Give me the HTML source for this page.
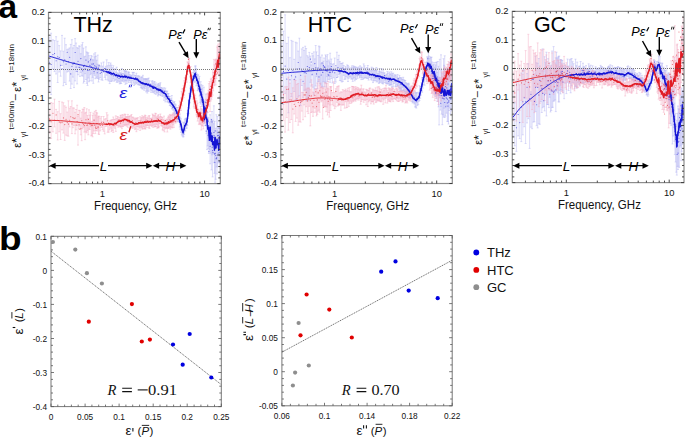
<!DOCTYPE html>
<html><head><meta charset="utf-8"><style>html,body{margin:0;padding:0;background:#fff;} body{width:685px;height:438px;overflow:hidden;}</style></head>
<body><svg width="685" height="438" viewBox="0 0 685 438" style="display:block">
<rect width="685" height="438" fill="#fff"/>
<defs><clipPath id="cTHz"><rect x="48.5" y="12.4" width="171.8" height="171.2"/></clipPath></defs>
<g clip-path="url(#cTHz)">
<path d="M47.5 34.7v42.5m-1 0h2m-2 -42.5h2M49.3 37.2v54.2m-1 0h2m-2 -54.2h2M51.1 33.2v61.4m-1 0h2m-2 -61.4h2M52.9 39.8v29.0m-1 0h2m-2 -29.0h2M54.5 40.5v31.1m-1 0h2m-2 -31.1h2M56.1 36.7v37.3m-1 0h2m-2 -37.3h2M57.7 41.2v41.3m-1 0h2m-2 -41.3h2M59.2 45.6v26.4m-1 0h2m-2 -26.4h2M60.6 50.9v25.3m-1 0h2m-2 -25.3h2M62.0 35.4v30.0m-1 0h2m-2 -30.0h2M63.4 51.2v34.5m-1 0h2m-2 -34.5h2M64.7 38.2v44.3m-1 0h2m-2 -44.3h2M66.0 44.7v39.7m-1 0h2m-2 -39.7h2M67.2 49.7v22.3m-1 0h2m-2 -22.3h2M68.4 48.9v22.4m-1 0h2m-2 -22.4h2M69.6 47.9v33.2m-1 0h2m-2 -33.2h2M70.7 44.4v44.1m-1 0h2m-2 -44.1h2M71.9 39.7v44.4m-1 0h2m-2 -44.4h2M72.9 47.9v29.2m-1 0h2m-2 -29.2h2M74.0 45.5v42.1m-1 0h2m-2 -42.1h2M75.1 38.6v42.3m-1 0h2m-2 -42.3h2M76.1 43.0v28.6m-1 0h2m-2 -28.6h2M77.1 47.7v36.2m-1 0h2m-2 -36.2h2M78.0 48.2v26.5m-1 0h2m-2 -26.5h2M79.0 45.9v21.0m-1 0h2m-2 -21.0h2M79.9 46.2v30.2m-1 0h2m-2 -30.2h2M80.8 53.7v18.7m-1 0h2m-2 -18.7h2M81.7 44.8v31.0m-1 0h2m-2 -31.0h2M82.6 42.6v33.5m-1 0h2m-2 -33.5h2M83.5 48.1v35.0m-1 0h2m-2 -35.0h2M84.3 56.8v24.7m-1 0h2m-2 -24.7h2M85.1 56.2v17.5m-1 0h2m-2 -17.5h2M85.9 46.8v32.7m-1 0h2m-2 -32.7h2M86.7 51.9v31.5m-1 0h2m-2 -31.5h2M87.5 52.7v32.7m-1 0h2m-2 -32.7h2M88.3 52.9v25.1m-1 0h2m-2 -25.1h2M89.0 55.7v26.0m-1 0h2m-2 -26.0h2M89.8 60.6v20.1m-1 0h2m-2 -20.1h2M90.5 58.2v16.4m-1 0h2m-2 -16.4h2M91.2 55.5v17.9m-1 0h2m-2 -17.9h2M91.9 56.3v24.7m-1 0h2m-2 -24.7h2M92.6 59.7v17.7m-1 0h2m-2 -17.7h2M93.3 60.0v23.3m-1 0h2m-2 -23.3h2M94.0 53.9v19.8m-1 0h2m-2 -19.8h2M94.7 56.8v18.6m-1 0h2m-2 -18.6h2M95.3 52.7v26.0m-1 0h2m-2 -26.0h2M96.0 56.2v13.6m-1 0h2m-2 -13.6h2M96.6 60.2v17.9m-1 0h2m-2 -17.9h2M97.2 64.2v12.9m-1 0h2m-2 -12.9h2M97.8 55.1v23.4m-1 0h2m-2 -23.4h2M98.5 65.2v16.8m-1 0h2m-2 -16.8h2M99.1 64.8v14.4m-1 0h2m-2 -14.4h2M100.2 65.9v11.7m-1 0h2m-2 -11.7h2M101.4 62.9v16.9m-1 0h2m-2 -16.9h2M102.5 66.1v14.2m-1 0h2m-2 -14.2h2M103.6 62.0v10.6m-1 0h2m-2 -10.6h2M104.7 68.1v9.3m-1 0h2m-2 -9.3h2M105.7 66.3v13.4m-1 0h2m-2 -13.4h2M106.7 59.8v15.4m-1 0h2m-2 -15.4h2M107.7 65.7v14.4m-1 0h2m-2 -14.4h2M108.7 62.6v18.5m-1 0h2m-2 -18.5h2M109.7 65.3v18.3m-1 0h2m-2 -18.3h2M110.6 63.0v18.3m-1 0h2m-2 -18.3h2M111.5 65.0v16.5m-1 0h2m-2 -16.5h2M112.4 67.8v12.9m-1 0h2m-2 -12.9h2M113.3 65.7v13.2m-1 0h2m-2 -13.2h2M114.1 69.5v11.7m-1 0h2m-2 -11.7h2M115.0 68.7v11.5m-1 0h2m-2 -11.5h2M115.8 72.0v7.8m-1 0h2m-2 -7.8h2M116.6 67.2v15.0m-1 0h2m-2 -15.0h2M117.4 72.8v9.5m-1 0h2m-2 -9.5h2M118.2 73.5v7.3m-1 0h2m-2 -7.3h2M119.0 70.5v11.3m-1 0h2m-2 -11.3h2M119.7 70.5v13.4m-1 0h2m-2 -13.4h2M120.5 72.7v10.7m-1 0h2m-2 -10.7h2M121.2 73.6v9.9m-1 0h2m-2 -9.9h2M121.9 68.5v12.3m-1 0h2m-2 -12.3h2M122.6 73.5v7.8m-1 0h2m-2 -7.8h2M123.3 73.7v6.4m-1 0h2m-2 -6.4h2M124.0 70.8v11.2m-1 0h2m-2 -11.2h2M124.7 70.4v10.5m-1 0h2m-2 -10.5h2M125.4 71.2v13.1m-1 0h2m-2 -13.1h2M126.0 71.1v9.3m-1 0h2m-2 -9.3h2M126.7 71.2v12.3m-1 0h2m-2 -12.3h2M127.3 75.0v6.1m-1 0h2m-2 -6.1h2M127.9 72.8v6.2m-1 0h2m-2 -6.2h2M128.6 71.7v10.8m-1 0h2m-2 -10.8h2M129.2 72.5v7.8m-1 0h2m-2 -7.8h2M129.8 74.5v6.5m-1 0h2m-2 -6.5h2M130.7 75.5v7.0m-1 0h2m-2 -7.0h2M131.5 75.1v9.0m-1 0h2m-2 -9.0h2M132.4 72.3v8.7m-1 0h2m-2 -8.7h2M133.2 72.5v10.5m-1 0h2m-2 -10.5h2M134.0 72.4v13.1m-1 0h2m-2 -13.1h2M134.9 75.4v8.9m-1 0h2m-2 -8.9h2M135.6 75.4v7.5m-1 0h2m-2 -7.5h2M136.4 73.2v10.6m-1 0h2m-2 -10.6h2M137.2 76.9v6.0m-1 0h2m-2 -6.0h2M137.9 75.6v9.1m-1 0h2m-2 -9.1h2M138.7 76.2v8.5m-1 0h2m-2 -8.5h2M139.4 76.0v9.1m-1 0h2m-2 -9.1h2M140.1 78.8v6.4m-1 0h2m-2 -6.4h2M140.8 77.2v10.4m-1 0h2m-2 -10.4h2M141.5 77.1v11.0m-1 0h2m-2 -11.0h2M142.2 76.9v12.0m-1 0h2m-2 -12.0h2M142.9 75.3v13.7m-1 0h2m-2 -13.7h2M143.6 78.6v8.8m-1 0h2m-2 -8.8h2M144.2 79.0v11.3m-1 0h2m-2 -11.3h2M144.9 78.9v9.5m-1 0h2m-2 -9.5h2M145.5 78.9v7.7m-1 0h2m-2 -7.7h2M146.1 78.8v13.1m-1 0h2m-2 -13.1h2M146.7 78.8v12.0m-1 0h2m-2 -12.0h2M147.3 79.6v13.5m-1 0h2m-2 -13.5h2M147.9 78.5v12.6m-1 0h2m-2 -12.6h2M148.7 78.0v13.3m-1 0h2m-2 -13.3h2M149.5 80.7v7.0m-1 0h2m-2 -7.0h2M150.3 83.9v6.1m-1 0h2m-2 -6.1h2M151.0 84.7v7.6m-1 0h2m-2 -7.6h2M151.7 81.2v9.3m-1 0h2m-2 -9.3h2M152.5 80.6v11.5m-1 0h2m-2 -11.5h2M153.2 83.1v9.5m-1 0h2m-2 -9.5h2M153.9 81.8v10.1m-1 0h2m-2 -10.1h2M154.6 81.6v12.1m-1 0h2m-2 -12.1h2M155.3 84.6v6.6m-1 0h2m-2 -6.6h2M155.9 82.9v11.4m-1 0h2m-2 -11.4h2M156.6 86.5v6.4m-1 0h2m-2 -6.4h2M157.2 85.0v8.0m-1 0h2m-2 -8.0h2M157.9 84.2v11.8m-1 0h2m-2 -11.8h2M158.5 83.4v11.5m-1 0h2m-2 -11.5h2M159.1 85.4v9.2m-1 0h2m-2 -9.2h2M159.7 83.9v8.4m-1 0h2m-2 -8.4h2M160.4 82.7v12.6m-1 0h2m-2 -12.6h2M161.1 87.5v8.2m-1 0h2m-2 -8.2h2M161.8 87.7v6.2m-1 0h2m-2 -6.2h2M162.5 88.4v8.0m-1 0h2m-2 -8.0h2M163.3 89.7v6.2m-1 0h2m-2 -6.2h2M164.0 87.8v12.5m-1 0h2m-2 -12.5h2M164.6 90.6v7.0m-1 0h2m-2 -7.0h2M165.3 88.1v13.8m-1 0h2m-2 -13.8h2M166.0 91.1v7.7m-1 0h2m-2 -7.7h2M166.6 91.3v8.4m-1 0h2m-2 -8.4h2M167.3 91.1v10.7m-1 0h2m-2 -10.7h2M167.9 93.5v8.5m-1 0h2m-2 -8.5h2M168.6 93.6v9.0m-1 0h2m-2 -9.0h2M169.2 96.3v6.8m-1 0h2m-2 -6.8h2M169.8 96.5v9.1m-1 0h2m-2 -9.1h2M170.4 99.2v6.2m-1 0h2m-2 -6.2h2M171.1 98.8v7.8m-1 0h2m-2 -7.8h2M171.8 95.5v13.3m-1 0h2m-2 -13.3h2M172.5 100.7v8.2m-1 0h2m-2 -8.2h2M173.2 102.0v8.2m-1 0h2m-2 -8.2h2M173.9 102.1v11.4m-1 0h2m-2 -11.4h2M174.5 101.7v13.1m-1 0h2m-2 -13.1h2M175.2 103.9v8.4m-1 0h2m-2 -8.4h2M175.8 104.9v9.0m-1 0h2m-2 -9.0h2M176.4 107.7v11.7m-1 0h2m-2 -11.7h2M177.1 107.5v12.3m-1 0h2m-2 -12.3h2M177.7 110.7v11.0m-1 0h2m-2 -11.0h2M178.3 114.4v7.5m-1 0h2m-2 -7.5h2M179.0 113.7v7.6m-1 0h2m-2 -7.6h2M179.7 114.7v12.4m-1 0h2m-2 -12.4h2M180.3 117.1v12.1m-1 0h2m-2 -12.1h2M181.0 118.7v13.7m-1 0h2m-2 -13.7h2M181.7 122.0v12.9m-1 0h2m-2 -12.9h2M182.3 126.1v9.9m-1 0h2m-2 -9.9h2M183.0 129.4v7.5m-1 0h2m-2 -7.5h2M183.6 122.7v14.1m-1 0h2m-2 -14.1h2M184.2 122.1v12.5m-1 0h2m-2 -12.5h2M184.8 119.4v11.5m-1 0h2m-2 -11.5h2M185.4 118.4v12.5m-1 0h2m-2 -12.5h2M186.1 118.3v10.0m-1 0h2m-2 -10.0h2M186.8 118.5v9.7m-1 0h2m-2 -9.7h2M187.4 113.6v11.8m-1 0h2m-2 -11.8h2M188.1 107.4v11.1m-1 0h2m-2 -11.1h2M188.7 100.3v13.2m-1 0h2m-2 -13.2h2M189.3 93.4v15.4m-1 0h2m-2 -15.4h2M190.0 88.1v14.7m-1 0h2m-2 -14.7h2M190.6 85.9v10.5m-1 0h2m-2 -10.5h2M191.2 81.4v10.4m-1 0h2m-2 -10.4h2M191.8 77.1v15.7m-1 0h2m-2 -15.7h2M192.5 76.0v10.8m-1 0h2m-2 -10.8h2M193.2 72.5v14.7m-1 0h2m-2 -14.7h2M193.8 70.2v8.0m-1 0h2m-2 -8.0h2M194.4 70.8v11.5m-1 0h2m-2 -11.5h2M195.1 66.0v12.5m-1 0h2m-2 -12.5h2M195.7 65.9v16.0m-1 0h2m-2 -16.0h2M196.3 68.6v17.2m-1 0h2m-2 -17.2h2M196.9 73.8v9.9m-1 0h2m-2 -9.9h2M197.6 75.0v15.5m-1 0h2m-2 -15.5h2M198.2 74.8v16.1m-1 0h2m-2 -16.1h2M198.9 78.3v10.8m-1 0h2m-2 -10.8h2M199.5 76.4v19.6m-1 0h2m-2 -19.6h2M200.1 85.8v16.6m-1 0h2m-2 -16.6h2M200.7 81.7v22.4m-1 0h2m-2 -22.4h2M201.3 84.6v12.5m-1 0h2m-2 -12.5h2M202.0 88.8v17.5m-1 0h2m-2 -17.5h2M202.6 85.6v15.2m-1 0h2m-2 -15.2h2M203.3 101.3v20.4m-1 0h2m-2 -20.4h2M203.9 87.2v21.7m-1 0h2m-2 -21.7h2M204.5 101.1v21.7m-1 0h2m-2 -21.7h2M205.1 105.8v19.9m-1 0h2m-2 -19.9h2M205.8 94.0v24.8m-1 0h2m-2 -24.8h2M206.4 110.0v23.7m-1 0h2m-2 -23.7h2M207.0 112.8v36.8m-1 0h2m-2 -36.8h2M207.7 117.2v28.7m-1 0h2m-2 -28.7h2M208.3 117.9v30.6m-1 0h2m-2 -30.6h2M208.9 127.1v26.4m-1 0h2m-2 -26.4h2M209.5 122.4v27.6m-1 0h2m-2 -27.6h2M210.1 114.8v49.0m-1 0h2m-2 -49.0h2M210.8 121.2v32.0m-1 0h2m-2 -32.0h2M211.4 119.2v50.7m-1 0h2m-2 -50.7h2M212.0 111.5v43.3m-1 0h2m-2 -43.3h2M212.6 120.4v56.5m-1 0h2m-2 -56.5h2M213.3 123.7v30.3m-1 0h2m-2 -30.3h2M213.9 105.8v56.9m-1 0h2m-2 -56.9h2M214.5 121.4v51.9m-1 0h2m-2 -51.9h2M215.1 136.8v45.5m-1 0h2m-2 -45.5h2M215.7 128.2v51.1m-1 0h2m-2 -51.1h2M216.3 114.7v52.2m-1 0h2m-2 -52.2h2M217.0 130.9v43.0m-1 0h2m-2 -43.0h2M217.6 116.5v50.4m-1 0h2m-2 -50.4h2M218.2 126.8v36.1m-1 0h2m-2 -36.1h2M218.8 132.5v28.8m-1 0h2m-2 -28.8h2M219.5 96.3v53.9m-1 0h2m-2 -53.9h2M220.1 124.5v46.8m-1 0h2m-2 -46.8h2M220.7 103.9v63.6m-1 0h2m-2 -63.6h2" stroke="#b0b0f0" stroke-width="0.7" stroke-opacity="0.62" fill="none"/>
<path d="M47.5 104.5v44.7m-1 0h2m-2 -44.7h2M49.3 109.5v23.7m-1 0h2m-2 -23.7h2M51.1 102.5v35.9m-1 0h2m-2 -35.9h2M52.9 103.3v28.5m-1 0h2m-2 -28.5h2M54.5 99.2v27.7m-1 0h2m-2 -27.7h2M56.1 109.4v23.9m-1 0h2m-2 -23.9h2M57.7 111.7v28.3m-1 0h2m-2 -28.3h2M59.2 101.4v30.4m-1 0h2m-2 -30.4h2M60.6 113.7v25.8m-1 0h2m-2 -25.8h2M62.0 102.0v27.9m-1 0h2m-2 -27.9h2M63.4 102.7v30.4m-1 0h2m-2 -30.4h2M64.7 105.8v34.6m-1 0h2m-2 -34.6h2M66.0 107.2v27.9m-1 0h2m-2 -27.9h2M67.2 112.1v23.7m-1 0h2m-2 -23.7h2M68.4 100.8v35.4m-1 0h2m-2 -35.4h2M69.6 108.1v18.8m-1 0h2m-2 -18.8h2M70.7 106.5v16.0m-1 0h2m-2 -16.0h2M71.9 100.8v32.8m-1 0h2m-2 -32.8h2M72.9 107.9v19.8m-1 0h2m-2 -19.8h2M74.0 108.0v17.4m-1 0h2m-2 -17.4h2M75.1 112.3v21.5m-1 0h2m-2 -21.5h2M76.1 109.5v20.4m-1 0h2m-2 -20.4h2M77.1 105.2v20.3m-1 0h2m-2 -20.3h2M78.0 116.2v28.9m-1 0h2m-2 -28.9h2M79.0 110.3v18.5m-1 0h2m-2 -18.5h2M79.9 110.6v15.4m-1 0h2m-2 -15.4h2M80.8 118.2v16.6m-1 0h2m-2 -16.6h2M81.7 112.0v28.7m-1 0h2m-2 -28.7h2M82.6 109.3v19.6m-1 0h2m-2 -19.6h2M83.5 109.1v18.2m-1 0h2m-2 -18.2h2M84.3 107.5v24.6m-1 0h2m-2 -24.6h2M85.1 113.0v26.7m-1 0h2m-2 -26.7h2M85.9 112.3v19.6m-1 0h2m-2 -19.6h2M86.7 108.8v24.0m-1 0h2m-2 -24.0h2M87.5 115.5v15.3m-1 0h2m-2 -15.3h2M88.3 118.5v16.3m-1 0h2m-2 -16.3h2M89.0 109.8v19.4m-1 0h2m-2 -19.4h2M89.8 115.2v14.2m-1 0h2m-2 -14.2h2M90.5 112.4v14.5m-1 0h2m-2 -14.5h2M91.2 122.8v13.1m-1 0h2m-2 -13.1h2M91.9 121.4v13.9m-1 0h2m-2 -13.9h2M92.6 115.3v21.5m-1 0h2m-2 -21.5h2M93.3 113.0v20.5m-1 0h2m-2 -20.5h2M94.0 119.6v11.3m-1 0h2m-2 -11.3h2M94.7 111.3v14.1m-1 0h2m-2 -14.1h2M95.3 115.0v18.6m-1 0h2m-2 -18.6h2M96.0 110.4v20.1m-1 0h2m-2 -20.1h2M96.6 112.5v16.1m-1 0h2m-2 -16.1h2M97.2 113.2v17.8m-1 0h2m-2 -17.8h2M97.8 117.1v11.7m-1 0h2m-2 -11.7h2M98.5 116.1v17.9m-1 0h2m-2 -17.9h2M99.1 116.4v18.1m-1 0h2m-2 -18.1h2M100.2 118.0v12.9m-1 0h2m-2 -12.9h2M101.4 116.5v10.9m-1 0h2m-2 -10.9h2M102.5 121.2v8.5m-1 0h2m-2 -8.5h2M103.6 116.5v14.8m-1 0h2m-2 -14.8h2M104.7 119.2v14.7m-1 0h2m-2 -14.7h2M105.7 118.6v7.9m-1 0h2m-2 -7.9h2M106.7 112.7v13.2m-1 0h2m-2 -13.2h2M107.7 114.9v17.3m-1 0h2m-2 -17.3h2M108.7 124.3v7.9m-1 0h2m-2 -7.9h2M109.7 120.9v8.9m-1 0h2m-2 -8.9h2M110.6 120.2v8.0m-1 0h2m-2 -8.0h2M111.5 120.0v11.6m-1 0h2m-2 -11.6h2M112.4 119.5v11.0m-1 0h2m-2 -11.0h2M113.3 117.0v15.5m-1 0h2m-2 -15.5h2M114.1 119.3v7.7m-1 0h2m-2 -7.7h2M115.0 119.4v8.9m-1 0h2m-2 -8.9h2M115.8 115.8v15.6m-1 0h2m-2 -15.6h2M116.6 118.5v7.0m-1 0h2m-2 -7.0h2M117.4 116.5v9.1m-1 0h2m-2 -9.1h2M118.2 117.0v10.2m-1 0h2m-2 -10.2h2M119.0 119.3v6.6m-1 0h2m-2 -6.6h2M119.7 117.3v9.1m-1 0h2m-2 -9.1h2M120.5 115.4v11.7m-1 0h2m-2 -11.7h2M121.2 115.2v11.7m-1 0h2m-2 -11.7h2M121.9 117.2v11.5m-1 0h2m-2 -11.5h2M122.6 114.5v11.8m-1 0h2m-2 -11.8h2M123.3 115.3v11.3m-1 0h2m-2 -11.3h2M124.0 118.3v6.5m-1 0h2m-2 -6.5h2M124.7 114.0v11.4m-1 0h2m-2 -11.4h2M125.4 114.5v10.7m-1 0h2m-2 -10.7h2M126.0 116.9v7.7m-1 0h2m-2 -7.7h2M126.7 116.8v9.4m-1 0h2m-2 -9.4h2M127.3 116.7v7.9m-1 0h2m-2 -7.9h2M127.9 114.4v12.9m-1 0h2m-2 -12.9h2M128.6 116.8v8.2m-1 0h2m-2 -8.2h2M129.2 116.4v7.3m-1 0h2m-2 -7.3h2M129.8 116.1v12.4m-1 0h2m-2 -12.4h2M130.7 115.6v12.1m-1 0h2m-2 -12.1h2M131.5 114.5v12.8m-1 0h2m-2 -12.8h2M132.4 117.0v11.4m-1 0h2m-2 -11.4h2M133.2 117.3v9.3m-1 0h2m-2 -9.3h2M134.0 118.1v9.8m-1 0h2m-2 -9.8h2M134.9 119.2v10.4m-1 0h2m-2 -10.4h2M135.6 118.1v10.8m-1 0h2m-2 -10.8h2M136.4 118.1v13.6m-1 0h2m-2 -13.6h2M137.2 118.4v8.1m-1 0h2m-2 -8.1h2M137.9 117.6v12.1m-1 0h2m-2 -12.1h2M138.7 120.6v6.1m-1 0h2m-2 -6.1h2M139.4 120.5v7.5m-1 0h2m-2 -7.5h2M140.1 116.8v13.6m-1 0h2m-2 -13.6h2M140.8 118.8v8.0m-1 0h2m-2 -8.0h2M141.5 117.5v10.1m-1 0h2m-2 -10.1h2M142.2 115.7v13.3m-1 0h2m-2 -13.3h2M142.9 117.8v11.2m-1 0h2m-2 -11.2h2M143.6 116.7v9.9m-1 0h2m-2 -9.9h2M144.2 116.8v11.6m-1 0h2m-2 -11.6h2M144.9 115.1v13.8m-1 0h2m-2 -13.8h2M145.5 115.5v13.5m-1 0h2m-2 -13.5h2M146.1 117.9v7.5m-1 0h2m-2 -7.5h2M146.7 120.3v7.1m-1 0h2m-2 -7.1h2M147.3 117.0v8.3m-1 0h2m-2 -8.3h2M147.9 118.3v7.2m-1 0h2m-2 -7.2h2M148.7 115.8v12.1m-1 0h2m-2 -12.1h2M149.5 115.7v12.7m-1 0h2m-2 -12.7h2M150.3 118.3v7.1m-1 0h2m-2 -7.1h2M151.0 118.5v6.6m-1 0h2m-2 -6.6h2M151.7 118.0v8.6m-1 0h2m-2 -8.6h2M152.5 114.0v11.5m-1 0h2m-2 -11.5h2M153.2 115.1v12.2m-1 0h2m-2 -12.2h2M153.9 115.1v9.7m-1 0h2m-2 -9.7h2M154.6 115.8v11.1m-1 0h2m-2 -11.1h2M155.3 113.2v13.3m-1 0h2m-2 -13.3h2M155.9 113.6v13.0m-1 0h2m-2 -13.0h2M156.6 117.5v6.9m-1 0h2m-2 -6.9h2M157.2 116.5v11.7m-1 0h2m-2 -11.7h2M157.9 115.4v12.2m-1 0h2m-2 -12.2h2M158.5 114.6v13.3m-1 0h2m-2 -13.3h2M159.1 117.6v9.3m-1 0h2m-2 -9.3h2M159.7 116.3v7.2m-1 0h2m-2 -7.2h2M160.4 114.0v9.8m-1 0h2m-2 -9.8h2M161.1 116.6v9.0m-1 0h2m-2 -9.0h2M161.8 117.1v9.1m-1 0h2m-2 -9.1h2M162.5 117.5v12.4m-1 0h2m-2 -12.4h2M163.3 119.5v11.2m-1 0h2m-2 -11.2h2M164.0 116.1v11.4m-1 0h2m-2 -11.4h2M164.6 120.7v11.2m-1 0h2m-2 -11.2h2M165.3 121.8v7.1m-1 0h2m-2 -7.1h2M166.0 121.2v6.5m-1 0h2m-2 -6.5h2M166.6 119.1v9.2m-1 0h2m-2 -9.2h2M167.3 119.2v12.8m-1 0h2m-2 -12.8h2M167.9 117.2v11.2m-1 0h2m-2 -11.2h2M168.6 115.8v12.3m-1 0h2m-2 -12.3h2M169.2 116.9v11.0m-1 0h2m-2 -11.0h2M169.8 114.4v12.3m-1 0h2m-2 -12.3h2M170.4 115.2v14.0m-1 0h2m-2 -14.0h2M171.1 115.3v11.7m-1 0h2m-2 -11.7h2M171.8 114.8v12.9m-1 0h2m-2 -12.9h2M172.5 114.0v13.8m-1 0h2m-2 -13.8h2M173.2 112.9v11.9m-1 0h2m-2 -11.9h2M173.9 114.9v12.5m-1 0h2m-2 -12.5h2M174.5 114.8v6.6m-1 0h2m-2 -6.6h2M175.2 116.6v6.3m-1 0h2m-2 -6.3h2M175.8 109.5v13.4m-1 0h2m-2 -13.4h2M176.4 113.6v7.9m-1 0h2m-2 -7.9h2M177.1 111.2v8.4m-1 0h2m-2 -8.4h2M177.7 111.9v7.1m-1 0h2m-2 -7.1h2M178.3 107.5v11.3m-1 0h2m-2 -11.3h2M179.0 105.6v6.4m-1 0h2m-2 -6.4h2M179.7 100.9v12.9m-1 0h2m-2 -12.9h2M180.3 101.7v8.8m-1 0h2m-2 -8.8h2M181.0 97.8v12.7m-1 0h2m-2 -12.7h2M181.7 91.6v14.3m-1 0h2m-2 -14.3h2M182.3 88.8v12.5m-1 0h2m-2 -12.5h2M183.0 88.5v10.3m-1 0h2m-2 -10.3h2M183.6 85.4v12.2m-1 0h2m-2 -12.2h2M184.2 80.7v14.4m-1 0h2m-2 -14.4h2M184.8 77.7v13.2m-1 0h2m-2 -13.2h2M185.4 78.2v9.1m-1 0h2m-2 -9.1h2M186.1 75.4v7.0m-1 0h2m-2 -7.0h2M186.8 67.0v15.2m-1 0h2m-2 -15.2h2M187.4 61.9v12.9m-1 0h2m-2 -12.9h2M188.1 62.2v7.7m-1 0h2m-2 -7.7h2M188.7 58.2v12.5m-1 0h2m-2 -12.5h2M189.3 58.5v13.0m-1 0h2m-2 -13.0h2M190.0 66.8v10.2m-1 0h2m-2 -10.2h2M190.6 66.5v16.1m-1 0h2m-2 -16.1h2M191.2 72.8v9.8m-1 0h2m-2 -9.8h2M191.8 81.2v9.0m-1 0h2m-2 -9.0h2M192.5 83.7v10.7m-1 0h2m-2 -10.7h2M193.2 88.1v11.1m-1 0h2m-2 -11.1h2M193.8 90.2v16.8m-1 0h2m-2 -16.8h2M194.4 93.8v14.6m-1 0h2m-2 -14.6h2M195.1 95.2v9.2m-1 0h2m-2 -9.2h2M195.7 98.3v12.3m-1 0h2m-2 -12.3h2M196.3 105.6v9.3m-1 0h2m-2 -9.3h2M196.9 100.9v16.1m-1 0h2m-2 -16.1h2M197.6 103.0v18.1m-1 0h2m-2 -18.1h2M198.2 109.0v9.6m-1 0h2m-2 -9.6h2M198.9 110.1v14.5m-1 0h2m-2 -14.5h2M199.5 112.0v11.7m-1 0h2m-2 -11.7h2M200.1 111.5v12.4m-1 0h2m-2 -12.4h2M200.7 106.5v18.2m-1 0h2m-2 -18.2h2M201.3 108.8v21.2m-1 0h2m-2 -21.2h2M202.0 112.8v12.8m-1 0h2m-2 -12.8h2M202.6 109.7v16.4m-1 0h2m-2 -16.4h2M203.3 115.3v13.6m-1 0h2m-2 -13.6h2M203.9 112.7v10.6m-1 0h2m-2 -10.6h2M204.5 103.3v18.0m-1 0h2m-2 -18.0h2M205.1 110.6v12.3m-1 0h2m-2 -12.3h2M205.8 99.6v19.8m-1 0h2m-2 -19.8h2M206.4 99.2v21.0m-1 0h2m-2 -21.0h2M207.0 94.0v12.7m-1 0h2m-2 -12.7h2M207.7 93.0v19.5m-1 0h2m-2 -19.5h2M208.3 90.3v14.1m-1 0h2m-2 -14.1h2M208.9 83.6v22.6m-1 0h2m-2 -22.6h2M209.5 81.5v15.7m-1 0h2m-2 -15.7h2M210.1 89.4v22.2m-1 0h2m-2 -22.2h2M210.8 79.1v21.9m-1 0h2m-2 -21.9h2M211.4 78.2v21.0m-1 0h2m-2 -21.0h2M212.0 81.3v15.6m-1 0h2m-2 -15.6h2M212.6 69.2v25.9m-1 0h2m-2 -25.9h2M213.3 72.5v18.3m-1 0h2m-2 -18.3h2M213.9 59.4v25.6m-1 0h2m-2 -25.6h2M214.5 64.8v20.9m-1 0h2m-2 -20.9h2M215.1 60.4v20.7m-1 0h2m-2 -20.7h2M215.7 59.3v25.6m-1 0h2m-2 -25.6h2M216.3 59.2v19.3m-1 0h2m-2 -19.3h2M217.0 47.1v27.2m-1 0h2m-2 -27.2h2M217.6 45.9v21.7m-1 0h2m-2 -21.7h2M218.2 44.1v27.5m-1 0h2m-2 -27.5h2M218.8 49.1v27.0m-1 0h2m-2 -27.0h2M219.5 43.2v32.0m-1 0h2m-2 -32.0h2M220.1 46.0v22.2m-1 0h2m-2 -22.2h2M220.7 35.4v21.1m-1 0h2m-2 -21.1h2" stroke="#f4a8c0" stroke-width="0.7" stroke-opacity="0.62" fill="none"/>
<path d="M47.5 56.7h.1M49.3 62.3h.1M51.1 64.5h.1M52.9 54.6h.1M54.5 53.5h.1M56.1 60.7h.1M57.7 56.7h.1M59.2 57.5h.1M60.6 65.3h.1M62.0 68.8h.1M63.4 61.8h.1M64.7 59.8h.1M66.0 64.0h.1M67.2 52.3h.1M68.4 61.8h.1M69.6 57.2h.1M70.7 73.9h.1M71.9 66.3h.1M72.9 63.9h.1M74.0 62.6h.1M75.1 52.5h.1M76.1 67.0h.1M77.1 71.2h.1M78.0 61.2h.1M79.0 67.5h.1M79.9 67.8h.1M80.8 58.6h.1M81.7 68.9h.1M82.6 70.8h.1M83.5 66.4h.1M84.3 65.4h.1M85.1 68.9h.1M85.9 60.1h.1M86.7 66.5h.1M87.5 70.2h.1M88.3 61.9h.1M89.0 70.3h.1M89.8 65.4h.1M90.5 59.7h.1M91.2 66.9h.1M91.9 64.1h.1M92.6 68.8h.1M93.3 63.9h.1M94.0 71.6h.1M94.7 65.8h.1M95.3 69.6h.1M96.0 66.7h.1M96.6 67.7h.1M97.2 72.7h.1M97.8 69.8h.1M98.5 68.1h.1M99.1 65.7h.1M100.2 73.3h.1M101.4 72.3h.1M102.5 69.6h.1M103.6 71.5h.1M104.7 68.5h.1M105.7 69.0h.1M106.7 69.8h.1M107.7 72.9h.1M108.7 73.1h.1M109.7 71.1h.1M110.6 74.5h.1M111.5 74.8h.1M112.4 73.9h.1M113.3 75.7h.1M114.1 73.6h.1M115.0 74.4h.1M115.8 75.9h.1M116.6 75.6h.1M117.4 77.3h.1M118.2 74.7h.1M119.0 78.5h.1M119.7 75.4h.1M120.5 76.3h.1M121.2 74.8h.1M121.9 77.1h.1M122.6 77.8h.1M123.3 77.5h.1M124.0 77.2h.1M124.7 75.1h.1M125.4 76.0h.1M126.0 76.4h.1M126.7 76.2h.1M127.3 78.0h.1M127.9 77.3h.1M128.6 77.3h.1M129.2 77.8h.1M129.8 76.8h.1M130.7 77.0h.1M131.5 77.2h.1M132.4 78.5h.1M133.2 78.5h.1M134.0 78.9h.1M134.9 79.5h.1M135.6 77.6h.1M136.4 78.6h.1M137.2 79.8h.1M137.9 79.0h.1M138.7 80.2h.1M139.4 82.0h.1M140.1 82.6h.1M140.8 83.1h.1M141.5 82.7h.1M142.2 82.9h.1M142.9 84.2h.1M143.6 83.1h.1M144.2 83.9h.1M144.9 85.0h.1M145.5 83.7h.1M146.1 83.6h.1M146.7 84.3h.1M147.3 85.0h.1M147.9 85.1h.1M148.7 85.2h.1M149.5 85.9h.1M150.3 84.4h.1M151.0 85.4h.1M151.7 86.7h.1M152.5 86.1h.1M153.2 86.1h.1M153.9 86.6h.1M154.6 87.1h.1M155.3 88.0h.1M155.9 87.6h.1M156.6 88.9h.1M157.2 90.5h.1M157.9 89.1h.1M158.5 90.7h.1M159.1 90.0h.1M159.7 89.0h.1M160.4 90.1h.1M161.1 89.9h.1M161.8 92.0h.1M162.5 90.8h.1M163.3 93.5h.1M164.0 93.3h.1M164.6 91.4h.1M165.3 94.7h.1M166.0 96.5h.1M166.6 95.4h.1M167.3 98.1h.1M167.9 96.5h.1M168.6 99.4h.1M169.2 98.6h.1M169.8 101.6h.1M170.4 100.3h.1M171.1 100.5h.1M171.8 104.3h.1M172.5 107.1h.1M173.2 105.3h.1M173.9 107.5h.1M174.5 107.8h.1M175.2 108.4h.1M175.8 110.7h.1M176.4 113.2h.1M177.1 111.8h.1M177.7 114.9h.1M178.3 116.4h.1M179.0 116.9h.1M179.7 122.1h.1M180.3 124.6h.1M181.0 123.9h.1M181.7 129.6h.1M182.3 130.9h.1M183.0 133.6h.1M183.6 132.8h.1M184.2 128.7h.1M184.8 126.0h.1M185.4 125.9h.1M186.1 125.1h.1M186.8 124.1h.1M187.4 117.2h.1M188.1 110.6h.1M188.7 107.8h.1M189.3 99.6h.1M190.0 96.3h.1M190.6 89.7h.1M191.2 86.9h.1M191.8 82.2h.1M192.5 84.2h.1M193.2 76.9h.1M193.8 76.5h.1M194.4 74.4h.1M195.1 75.6h.1M195.7 72.5h.1M196.3 77.5h.1M196.9 79.5h.1M197.6 83.3h.1M198.2 85.3h.1M198.9 85.1h.1M199.5 88.9h.1M200.1 89.3h.1M200.7 94.2h.1M201.3 94.7h.1M202.0 94.9h.1M202.6 99.9h.1M203.3 104.6h.1M203.9 118.0h.1M204.5 106.5h.1M205.1 114.2h.1M205.8 125.2h.1M206.4 105.4h.1M207.0 111.7h.1M207.7 119.7h.1M208.3 130.6h.1M208.9 151.6h.1M209.5 138.0h.1M210.1 146.2h.1M210.8 136.4h.1M211.4 119.7h.1M212.0 121.9h.1M212.6 150.6h.1M213.3 144.8h.1M213.9 132.5h.1M214.5 153.9h.1M215.1 130.9h.1M215.7 155.3h.1M216.3 158.8h.1M217.0 138.9h.1M217.6 135.6h.1M218.2 154.1h.1M218.8 135.4h.1M219.5 154.5h.1M220.1 134.1h.1M220.7 154.1h.1M186.4 123.6h.1M187.1 121.8h.1M187.7 114.9h.1M188.4 110.0h.1M189.0 100.9h.1M189.6 98.2h.1M190.3 93.2h.1M190.9 90.0h.1M191.5 83.9h.1M192.1 85.8h.1M192.8 79.5h.1M193.5 75.7h.1M194.1 78.4h.1M194.7 77.1h.1M195.4 73.9h.1M196.0 74.6h.1M196.6 78.7h.1M197.2 79.4h.1M197.9 82.4h.1M198.5 88.9h.1M199.2 88.2h.1M199.8 89.6h.1M200.4 92.6h.1M201.0 93.7h.1M201.6 99.4h.1M202.3 102.4h.1M202.9 99.5h.1M203.6 104.9h.1M204.2 120.8h.1M204.8 113.3h.1M205.4 112.8h.1M206.1 131.1h.1M206.7 121.9h.1M207.3 118.2h.1M208.0 135.3h.1M208.6 125.6h.1M209.2 130.3h.1M209.8 138.4h.1M210.4 136.4h.1M211.1 132.7h.1M211.7 135.7h.1M212.3 136.6h.1M212.9 152.6h.1M213.6 137.3h.1M214.2 138.9h.1M214.8 162.3h.1M215.4 139.9h.1M216.0 158.8h.1M216.6 157.8h.1M217.3 144.6h.1M217.9 132.6h.1M218.5 150.4h.1M219.1 152.6h.1M219.8 155.6h.1M220.4 146.7h.1M221.0 158.0h.1M200.3 95.0h.1M200.9 89.8h.1M201.5 100.9h.1M202.1 98.9h.1M202.8 98.1h.1M203.4 102.0h.1M204.0 116.9h.1M204.7 115.7h.1M205.3 102.2h.1M205.9 117.1h.1M206.6 119.8h.1M207.2 123.8h.1M207.8 125.6h.1M208.4 121.1h.1M209.0 140.2h.1M209.6 128.2h.1M210.3 134.2h.1M210.9 133.7h.1M211.5 133.9h.1M212.2 147.3h.1M212.8 145.7h.1M213.4 137.6h.1M214.0 135.6h.1M214.7 140.1h.1M215.3 153.3h.1M215.9 146.3h.1M216.5 147.8h.1M217.1 142.9h.1M217.7 143.6h.1M218.4 148.1h.1M219.0 128.1h.1M219.6 161.9h.1M220.2 138.1h.1M220.9 140.3h.1" stroke="#1414d4" stroke-width="1.1" stroke-linecap="round" stroke-opacity="0.6" fill="none"/>
<polyline points="47.5,55.7 49.3,56.2 51.1,56.7 52.9,57.2 54.5,57.7 56.1,58.2 57.7,58.7 59.2,59.1 60.6,59.6 62.0,60.0 63.4,60.4 64.7,60.8 66.0,61.2 67.2,61.6 68.4,61.9 69.6,62.3 70.7,62.6 71.9,62.9 72.9,63.2 74.0,63.4 75.1,63.7 76.1,63.9 77.1,64.1 78.0,64.3 79.0,64.6 79.9,64.8 80.8,64.9 81.7,65.1 82.6,65.3 83.5,65.5 84.3,65.7 85.1,65.8 85.9,66.0 86.7,66.2 87.5,66.4 88.3,66.6 89.0,66.7 89.8,66.9 90.5,67.1 91.2,67.3 91.9,67.5 92.6,67.7 93.3,67.9 94.0,68.1 94.7,68.2 95.3,68.4 96.0,68.6 96.6,68.8 97.2,69.0 97.8,69.2 98.5,69.3 99.1,69.5 100.2,69.9 101.4,70.2 102.5,70.6 103.6,70.9 104.7,71.2 105.7,71.5 106.7,71.8 107.7,72.1 108.7,72.0 109.7,73.4 110.6,72.4 111.5,73.7 112.4,73.9 113.3,73.3 114.1,74.1 115.0,75.1 115.8,75.5 116.6,74.9 117.4,75.8 118.2,75.8 119.0,76.0 119.7,76.2 120.5,77.0 121.2,76.5 121.9,76.3 122.6,76.3 123.3,76.6 124.0,76.7 124.7,76.2 125.4,77.2 126.0,76.4 126.7,76.8 127.3,77.2 127.9,77.8 128.6,77.2 129.2,77.5 129.8,78.0 130.7,77.9 131.5,78.3 132.4,78.4 133.2,78.3 134.0,78.6 134.9,78.9 135.6,78.7 136.4,79.6 137.2,78.9 137.9,79.8 138.7,81.2 139.4,81.3 140.1,81.4 140.8,82.3 141.5,83.0 142.2,82.8 142.9,83.5 143.6,83.4 144.2,83.6 144.9,83.8 145.5,84.4 146.1,83.8 146.7,84.2 147.3,84.7 147.9,84.2 148.7,84.5 149.5,85.6 150.3,85.8 151.0,86.1 151.7,86.6 152.5,86.6 153.2,88.3 153.9,87.3 154.6,87.8 155.3,87.7 155.9,88.3 156.6,89.2 157.2,89.0 157.9,89.4 158.5,89.3 159.1,90.4 159.7,90.0 160.4,89.9 161.1,91.1 161.8,91.2 162.5,92.0 163.3,92.3 164.0,92.9 164.6,93.3 165.3,93.7 166.0,94.5 166.6,96.5 167.3,97.1 167.9,98.3 168.6,99.0 169.2,99.5 169.8,100.7 170.4,102.5 171.1,102.7 171.8,103.8 172.5,104.4 173.2,105.6 173.9,106.6 174.5,107.6 175.2,108.7 175.8,109.9 176.4,111.3 177.1,113.0 177.7,114.5 178.3,116.0 179.0,118.9 179.7,120.5 180.3,122.7 181.0,124.7 181.7,128.2 182.3,130.5 183.0,132.4 183.6,130.9 184.2,128.7 184.8,125.5 185.4,124.9 186.1,123.7 186.8,122.1 187.4,118.5 188.1,113.2 188.7,106.1 189.3,100.5 190.0,96.2 190.6,91.9 191.2,87.8 191.8,84.1 192.5,81.4 193.2,78.9 193.8,77.1 194.4,75.5 195.1,73.6 195.7,76.9 196.3,77.1 196.9,80.6 197.6,80.8 198.2,83.0 198.9,86.8 199.5,86.9 200.1,91.8 200.7,91.5 201.3,95.1 202.0,97.2 202.6,99.0 203.3,103.1 203.9,109.2 204.5,119.5 205.1,107.8 205.8,116.7 206.4,118.8 207.0,119.9 207.7,129.1 208.3,127.0 208.9,132.6 209.5,140.3 210.1,127.0 210.8,139.0 211.4,141.3 212.0,135.8 212.6,144.4 213.3,144.5 213.9,141.5 214.5,150.1 215.1,137.3 215.7,148.1 216.3,143.8 217.0,139.6 217.6,144.6 218.2,143.6 218.8,150.3 219.5,136.8 220.1,144.4 220.7,142.8" stroke="#1414d4" stroke-width="0.95" fill="none" stroke-linejoin="round"/>
<polyline points="105.7,71.5 106.7,71.8 107.7,72.1 108.7,72.0 109.7,73.4 110.6,72.4 111.5,73.7 112.4,73.9 113.3,73.3 114.1,74.1 115.0,75.1 115.8,75.5 116.6,74.9 117.4,75.8 118.2,75.8 119.0,76.0 119.7,76.2 120.5,77.0 121.2,76.5 121.9,76.3 122.6,76.3 123.3,76.6 124.0,76.7 124.7,76.2 125.4,77.2 126.0,76.4 126.7,76.8 127.3,77.2 127.9,77.8 128.6,77.2 129.2,77.5 129.8,78.0 130.7,77.9 131.5,78.3 132.4,78.4 133.2,78.3 134.0,78.6 134.9,78.9 135.6,78.7 136.4,79.6 137.2,78.9 137.9,79.8 138.7,81.2 139.4,81.3 140.1,81.4 140.8,82.3 141.5,83.0 142.2,82.8 142.9,83.5 143.6,83.4 144.2,83.6 144.9,83.8 145.5,84.4 146.1,83.8 146.7,84.2 147.3,84.7 147.9,84.2 148.7,84.5 149.5,85.6 150.3,85.8 151.0,86.1 151.7,86.6 152.5,86.6 153.2,88.3 153.9,87.3 154.6,87.8 155.3,87.7 155.9,88.3 156.6,89.2 157.2,89.0 157.9,89.4 158.5,89.3 159.1,90.4 159.7,90.0 160.4,89.9 161.1,91.1 161.8,91.2 162.5,92.0 163.3,92.3 164.0,92.9 164.6,93.3 165.3,93.7 166.0,94.5 166.6,96.5 167.3,97.1 167.9,98.3 168.6,99.0 169.2,99.5 169.8,100.7 170.4,102.5 171.1,102.7 171.8,103.8 172.5,104.4 173.2,105.6 173.9,106.6 174.5,107.6 175.2,108.7 175.8,109.9 176.4,111.3 177.1,113.0 177.7,114.5 178.3,116.0 179.0,118.9 179.7,120.5 180.3,122.7 181.0,124.7 181.7,128.2 182.3,130.5 183.0,132.4 183.6,130.9 184.2,128.7 184.8,125.5 185.4,124.9 186.1,123.7 186.8,122.1 187.4,118.5 188.1,113.2 188.7,106.1 189.3,100.5 190.0,96.2 190.6,91.9 191.2,87.8 191.8,84.1 192.5,81.4 193.2,78.9 193.8,77.1 194.4,75.5 195.1,73.6 195.7,76.9 196.3,77.1 196.9,80.6 197.6,80.8 198.2,83.0 198.9,86.8 199.5,86.9 200.1,91.8 200.7,91.5 201.3,95.1 202.0,97.2 202.6,99.0 203.3,103.1 203.9,109.2 204.5,119.5 205.1,107.8 205.8,116.7 206.4,118.8 207.0,119.9 207.7,129.1 208.3,127.0 208.9,132.6 209.5,140.3 210.1,127.0 210.8,139.0 211.4,141.3 212.0,135.8 212.6,144.4 213.3,144.5 213.9,141.5 214.5,150.1 215.1,137.3 215.7,148.1 216.3,143.8 217.0,139.6 217.6,144.6 218.2,143.6 218.8,150.3 219.5,136.8 220.1,144.4 220.7,142.8" stroke="#1414d4" stroke-width="1.35" fill="none" stroke-linejoin="round"/>
<path d="M47.5 107.9h.1M49.3 118.9h.1M51.1 121.8h.1M52.9 113.2h.1M54.5 120.4h.1M56.1 114.9h.1M57.7 120.3h.1M59.2 122.1h.1M60.6 122.7h.1M62.0 122.6h.1M63.4 117.9h.1M64.7 124.6h.1M66.0 119.3h.1M67.2 122.6h.1M68.4 124.1h.1M69.6 120.3h.1M70.7 116.7h.1M71.9 123.9h.1M72.9 117.6h.1M74.0 118.6h.1M75.1 118.0h.1M76.1 125.0h.1M77.1 121.5h.1M78.0 114.6h.1M79.0 124.7h.1M79.9 129.2h.1M80.8 128.3h.1M81.7 120.7h.1M82.6 122.9h.1M83.5 124.3h.1M84.3 125.6h.1M85.1 123.0h.1M85.9 119.8h.1M86.7 125.3h.1M87.5 125.0h.1M88.3 119.5h.1M89.0 122.3h.1M89.8 124.2h.1M90.5 123.5h.1M91.2 124.9h.1M91.9 125.6h.1M92.6 125.0h.1M93.3 123.3h.1M94.0 120.2h.1M94.7 125.1h.1M95.3 127.1h.1M96.0 128.4h.1M96.6 123.6h.1M97.2 123.6h.1M97.8 127.1h.1M98.5 127.0h.1M99.1 124.5h.1M100.2 125.4h.1M101.4 122.3h.1M102.5 125.2h.1M103.6 122.4h.1M104.7 123.9h.1M105.7 124.1h.1M106.7 123.5h.1M107.7 120.7h.1M108.7 123.1h.1M109.7 125.2h.1M110.6 124.5h.1M111.5 123.8h.1M112.4 125.0h.1M113.3 125.2h.1M114.1 125.3h.1M115.0 122.9h.1M115.8 123.5h.1M116.6 122.5h.1M117.4 121.3h.1M118.2 120.1h.1M119.0 121.3h.1M119.7 120.0h.1M120.5 123.0h.1M121.2 120.4h.1M121.9 120.1h.1M122.6 119.7h.1M123.3 121.7h.1M124.0 118.9h.1M124.7 119.4h.1M125.4 119.0h.1M126.0 119.8h.1M126.7 120.1h.1M127.3 121.3h.1M127.9 119.4h.1M128.6 120.8h.1M129.2 122.4h.1M129.8 120.9h.1M130.7 121.6h.1M131.5 121.6h.1M132.4 120.7h.1M133.2 123.3h.1M134.0 124.9h.1M134.9 124.0h.1M135.6 122.7h.1M136.4 124.2h.1M137.2 123.8h.1M137.9 124.3h.1M138.7 124.0h.1M139.4 122.7h.1M140.1 123.0h.1M140.8 121.0h.1M141.5 123.5h.1M142.2 122.6h.1M142.9 123.3h.1M143.6 123.2h.1M144.2 121.9h.1M144.9 121.9h.1M145.5 121.2h.1M146.1 120.0h.1M146.7 121.7h.1M147.3 121.9h.1M147.9 120.6h.1M148.7 122.2h.1M149.5 121.5h.1M150.3 121.8h.1M151.0 120.6h.1M151.7 119.6h.1M152.5 122.0h.1M153.2 121.8h.1M153.9 121.0h.1M154.6 120.7h.1M155.3 120.8h.1M155.9 120.9h.1M156.6 120.5h.1M157.2 118.9h.1M157.9 121.7h.1M158.5 119.4h.1M159.1 120.5h.1M159.7 120.5h.1M160.4 121.3h.1M161.1 119.8h.1M161.8 123.2h.1M162.5 123.0h.1M163.3 123.6h.1M164.0 124.6h.1M164.6 122.8h.1M165.3 120.4h.1M166.0 123.8h.1M166.6 124.6h.1M167.3 124.2h.1M167.9 122.1h.1M168.6 122.4h.1M169.2 122.5h.1M169.8 120.0h.1M170.4 120.9h.1M171.1 120.5h.1M171.8 122.6h.1M172.5 119.7h.1M173.2 121.8h.1M173.9 119.7h.1M174.5 117.4h.1M175.2 121.3h.1M175.8 116.8h.1M176.4 117.8h.1M177.1 118.3h.1M177.7 114.9h.1M178.3 112.6h.1M179.0 112.5h.1M179.7 108.7h.1M180.3 104.6h.1M181.0 102.2h.1M181.7 100.0h.1M182.3 98.7h.1M183.0 94.3h.1M183.6 92.6h.1M184.2 90.7h.1M184.8 86.7h.1M185.4 83.4h.1M186.1 79.2h.1M186.8 71.6h.1M187.4 71.3h.1M188.1 66.1h.1M188.7 63.8h.1M189.3 65.5h.1M190.0 67.7h.1M190.6 72.5h.1M191.2 78.5h.1M191.8 80.9h.1M192.5 86.0h.1M193.2 90.8h.1M193.8 97.7h.1M194.4 99.0h.1M195.1 102.1h.1M195.7 108.2h.1M196.3 107.2h.1M196.9 112.3h.1M197.6 109.4h.1M198.2 113.6h.1M198.9 113.9h.1M199.5 114.9h.1M200.1 114.0h.1M200.7 113.2h.1M201.3 116.0h.1M202.0 116.3h.1M202.6 121.6h.1M203.3 121.0h.1M203.9 112.8h.1M204.5 116.6h.1M205.1 111.3h.1M205.8 111.7h.1M206.4 106.2h.1M207.0 100.5h.1M207.7 106.1h.1M208.3 101.9h.1M208.9 94.0h.1M209.5 89.4h.1M210.1 91.4h.1M210.8 86.4h.1M211.4 86.6h.1M212.0 87.4h.1M212.6 87.8h.1M213.3 78.5h.1M213.9 82.1h.1M214.5 78.6h.1M215.1 70.6h.1M215.7 63.9h.1M216.3 71.3h.1M217.0 68.3h.1M217.6 72.9h.1M218.2 67.3h.1M218.8 62.8h.1M219.5 64.2h.1M220.1 51.2h.1M220.7 54.8h.1M186.4 75.6h.1M187.1 74.1h.1M187.7 68.6h.1M188.4 59.4h.1M189.0 67.6h.1M189.6 67.3h.1M190.3 73.5h.1M190.9 75.6h.1M191.5 81.0h.1M192.1 86.3h.1M192.8 90.0h.1M193.5 92.1h.1M194.1 101.0h.1M194.7 101.9h.1M195.4 103.8h.1M196.0 108.2h.1M196.6 108.1h.1M197.2 116.0h.1M197.9 113.0h.1M198.5 114.2h.1M199.2 115.0h.1M199.8 112.5h.1M200.4 112.5h.1M201.0 117.1h.1M201.6 118.3h.1M202.3 122.0h.1M202.9 120.3h.1M203.6 114.1h.1M204.2 117.2h.1M204.8 116.4h.1M205.4 114.8h.1M206.1 110.2h.1M206.7 102.7h.1M207.3 107.9h.1M208.0 99.3h.1M208.6 101.2h.1M209.2 91.7h.1M209.8 97.3h.1M210.4 89.3h.1M211.1 93.0h.1M211.7 92.8h.1M212.3 88.1h.1M212.9 77.2h.1M213.6 75.2h.1M214.2 72.7h.1M214.8 75.8h.1M215.4 72.5h.1M216.0 69.8h.1M216.6 68.3h.1M217.3 67.2h.1M217.9 65.4h.1M218.5 67.4h.1M219.1 58.5h.1M219.8 57.4h.1M220.4 47.0h.1M221.0 48.8h.1M200.3 113.6h.1M200.9 113.0h.1M201.5 117.7h.1M202.1 120.9h.1M202.8 117.5h.1M203.4 116.4h.1M204.0 114.5h.1M204.7 114.6h.1M205.3 110.5h.1M205.9 111.0h.1M206.6 108.1h.1M207.2 105.8h.1M207.8 104.7h.1M208.4 100.0h.1M209.0 98.0h.1M209.6 101.1h.1M210.3 92.4h.1M210.9 92.6h.1M211.5 87.4h.1M212.2 82.9h.1M212.8 80.3h.1M213.4 76.2h.1M214.0 76.5h.1M214.7 71.6h.1M215.3 70.1h.1M215.9 74.2h.1M216.5 67.1h.1M217.1 69.8h.1M217.7 64.3h.1M218.4 64.6h.1M219.0 56.8h.1M219.6 57.6h.1M220.2 65.4h.1M220.9 57.3h.1" stroke="#e01c24" stroke-width="1.1" stroke-linecap="round" stroke-opacity="0.6" fill="none"/>
<polyline points="47.5,120.2 49.3,120.2 51.1,120.3 52.9,120.4 54.5,120.4 56.1,120.5 57.7,120.5 59.2,120.6 60.6,120.7 62.0,120.8 63.4,120.9 64.7,121.0 66.0,121.1 67.2,121.2 68.4,121.4 69.6,121.5 70.7,121.6 71.9,121.7 72.9,121.8 74.0,121.9 75.1,122.0 76.1,122.0 77.1,122.1 78.0,122.2 79.0,122.3 79.9,122.4 80.8,122.5 81.7,122.6 82.6,122.7 83.5,122.8 84.3,122.9 85.1,123.0 85.9,123.0 86.7,123.1 87.5,123.2 88.3,123.3 89.0,123.3 89.8,123.4 90.5,123.4 91.2,123.5 91.9,123.5 92.6,123.6 93.3,123.6 94.0,123.6 94.7,123.6 95.3,123.7 96.0,123.7 96.6,123.7 97.2,123.7 97.8,123.8 98.5,123.8 99.1,123.8 100.2,123.9 101.4,124.0 102.5,124.0 103.6,124.1 104.7,124.2 105.7,124.3 106.7,124.4 107.7,124.4 108.7,123.5 109.7,124.1 110.6,123.9 111.5,124.3 112.4,124.3 113.3,124.6 114.1,123.9 115.0,123.3 115.8,124.1 116.6,123.0 117.4,122.3 118.2,121.9 119.0,121.0 119.7,121.3 120.5,120.9 121.2,121.1 121.9,120.7 122.6,120.4 123.3,120.4 124.0,119.7 124.7,119.5 125.4,119.6 126.0,119.4 126.7,120.1 127.3,120.2 127.9,120.8 128.6,120.8 129.2,120.4 129.8,121.3 130.7,122.3 131.5,121.7 132.4,122.6 133.2,123.4 134.0,123.4 134.9,124.2 135.6,124.3 136.4,123.5 137.2,123.8 137.9,123.6 138.7,122.7 139.4,122.9 140.1,123.1 140.8,122.5 141.5,122.6 142.2,122.6 142.9,122.2 143.6,122.6 144.2,122.3 144.9,121.7 145.5,122.2 146.1,122.2 146.7,122.1 147.3,121.5 147.9,121.8 148.7,122.0 149.5,121.5 150.3,121.8 151.0,121.8 151.7,121.3 152.5,121.5 153.2,121.1 153.9,121.5 154.6,121.1 155.3,120.9 155.9,121.0 156.6,121.0 157.2,121.1 157.9,121.1 158.5,120.5 159.1,120.6 159.7,121.0 160.4,121.2 161.1,121.5 161.8,122.8 162.5,122.8 163.3,122.8 164.0,123.5 164.6,124.1 165.3,123.9 166.0,122.9 166.6,123.3 167.3,123.0 167.9,123.5 168.6,121.8 169.2,122.8 169.8,121.9 170.4,122.0 171.1,121.2 171.8,120.9 172.5,120.8 173.2,120.1 173.9,120.0 174.5,119.2 175.2,118.6 175.8,117.9 176.4,117.0 177.1,116.3 177.7,115.9 178.3,113.5 179.0,110.7 179.7,108.6 180.3,106.6 181.0,103.8 181.7,100.9 182.3,98.0 183.0,94.4 183.6,91.8 184.2,87.7 184.8,85.0 185.4,81.9 186.1,77.2 186.8,72.9 187.4,69.2 188.1,66.1 188.7,65.1 189.3,68.1 190.0,71.0 190.6,73.9 191.2,77.7 191.8,83.1 192.5,87.9 193.2,91.4 193.8,96.0 194.4,99.4 195.1,102.5 195.7,105.0 196.3,108.7 196.9,112.2 197.6,112.1 198.2,114.0 198.9,116.8 199.5,112.9 200.1,113.7 200.7,117.0 201.3,120.1 202.0,118.1 202.6,120.4 203.3,117.6 203.9,118.2 204.5,113.6 205.1,114.1 205.8,111.1 206.4,108.6 207.0,108.1 207.7,105.1 208.3,99.4 208.9,100.0 209.5,92.5 210.1,95.4 210.8,96.4 211.4,89.1 212.0,86.5 212.6,82.9 213.3,81.8 213.9,76.3 214.5,76.2 215.1,71.9 215.7,69.4 216.3,68.6 217.0,66.1 217.6,60.1 218.2,66.9 218.8,60.3 219.5,53.8 220.1,58.4 220.7,54.2" stroke="#e01c24" stroke-width="0.95" fill="none" stroke-linejoin="round"/>
<polyline points="105.7,124.3 106.7,124.4 107.7,124.4 108.7,123.5 109.7,124.1 110.6,123.9 111.5,124.3 112.4,124.3 113.3,124.6 114.1,123.9 115.0,123.3 115.8,124.1 116.6,123.0 117.4,122.3 118.2,121.9 119.0,121.0 119.7,121.3 120.5,120.9 121.2,121.1 121.9,120.7 122.6,120.4 123.3,120.4 124.0,119.7 124.7,119.5 125.4,119.6 126.0,119.4 126.7,120.1 127.3,120.2 127.9,120.8 128.6,120.8 129.2,120.4 129.8,121.3 130.7,122.3 131.5,121.7 132.4,122.6 133.2,123.4 134.0,123.4 134.9,124.2 135.6,124.3 136.4,123.5 137.2,123.8 137.9,123.6 138.7,122.7 139.4,122.9 140.1,123.1 140.8,122.5 141.5,122.6 142.2,122.6 142.9,122.2 143.6,122.6 144.2,122.3 144.9,121.7 145.5,122.2 146.1,122.2 146.7,122.1 147.3,121.5 147.9,121.8 148.7,122.0 149.5,121.5 150.3,121.8 151.0,121.8 151.7,121.3 152.5,121.5 153.2,121.1 153.9,121.5 154.6,121.1 155.3,120.9 155.9,121.0 156.6,121.0 157.2,121.1 157.9,121.1 158.5,120.5 159.1,120.6 159.7,121.0 160.4,121.2 161.1,121.5 161.8,122.8 162.5,122.8 163.3,122.8 164.0,123.5 164.6,124.1 165.3,123.9 166.0,122.9 166.6,123.3 167.3,123.0 167.9,123.5 168.6,121.8 169.2,122.8 169.8,121.9 170.4,122.0 171.1,121.2 171.8,120.9 172.5,120.8 173.2,120.1 173.9,120.0 174.5,119.2 175.2,118.6 175.8,117.9 176.4,117.0 177.1,116.3 177.7,115.9 178.3,113.5 179.0,110.7 179.7,108.6 180.3,106.6 181.0,103.8 181.7,100.9 182.3,98.0 183.0,94.4 183.6,91.8 184.2,87.7 184.8,85.0 185.4,81.9 186.1,77.2 186.8,72.9 187.4,69.2 188.1,66.1 188.7,65.1 189.3,68.1 190.0,71.0 190.6,73.9 191.2,77.7 191.8,83.1 192.5,87.9 193.2,91.4 193.8,96.0 194.4,99.4 195.1,102.5 195.7,105.0 196.3,108.7 196.9,112.2 197.6,112.1 198.2,114.0 198.9,116.8 199.5,112.9 200.1,113.7 200.7,117.0 201.3,120.1 202.0,118.1 202.6,120.4 203.3,117.6 203.9,118.2 204.5,113.6 205.1,114.1 205.8,111.1 206.4,108.6 207.0,108.1 207.7,105.1 208.3,99.4 208.9,100.0 209.5,92.5 210.1,95.4 210.8,96.4 211.4,89.1 212.0,86.5 212.6,82.9 213.3,81.8 213.9,76.3 214.5,76.2 215.1,71.9 215.7,69.4 216.3,68.6 217.0,66.1 217.6,60.1 218.2,66.9 218.8,60.3 219.5,53.8 220.1,58.4 220.7,54.2" stroke="#e01c24" stroke-width="1.35" fill="none" stroke-linejoin="round"/>
</g>
<line x1="49" y1="69.5" x2="220.3" y2="69.5" stroke="#555" stroke-width="0.8" stroke-dasharray="1,1"/>
<rect x="48.5" y="12.4" width="171.8" height="171.2" fill="none" stroke="#8c8c8c" stroke-width="1.2"/>
<path d="M48.5 12.4h3M220.3 12.4h-3M48.5 18.1h2M220.3 18.1h-2M48.5 23.8h2M220.3 23.8h-2M48.5 29.5h2M220.3 29.5h-2M48.5 35.2h2M220.3 35.2h-2M48.5 40.9h3M220.3 40.9h-3M48.5 46.6h2M220.3 46.6h-2M48.5 52.3h2M220.3 52.3h-2M48.5 58.1h2M220.3 58.1h-2M48.5 63.8h2M220.3 63.8h-2M48.5 69.5h3M220.3 69.5h-3M48.5 75.2h2M220.3 75.2h-2M48.5 80.9h2M220.3 80.9h-2M48.5 86.6h2M220.3 86.6h-2M48.5 92.3h2M220.3 92.3h-2M48.5 98.0h3M220.3 98.0h-3M48.5 103.7h2M220.3 103.7h-2M48.5 109.4h2M220.3 109.4h-2M48.5 115.1h2M220.3 115.1h-2M48.5 120.8h2M220.3 120.8h-2M48.5 126.5h3M220.3 126.5h-3M48.5 132.2h2M220.3 132.2h-2M48.5 137.9h2M220.3 137.9h-2M48.5 143.7h2M220.3 143.7h-2M48.5 149.4h2M220.3 149.4h-2M48.5 155.1h3M220.3 155.1h-3M48.5 160.8h2M220.3 160.8h-2M48.5 166.5h2M220.3 166.5h-2M48.5 172.2h2M220.3 172.2h-2M48.5 177.9h2M220.3 177.9h-2M48.5 183.6h3M220.3 183.6h-3M61.7 183.6v-2M61.7 12.4v2M71.6 183.6v-2M71.6 12.4v2M79.7 183.6v-2M79.7 12.4v2M86.6 183.6v-2M86.6 12.4v2M92.5 183.6v-2M92.5 12.4v2M97.7 183.6v-2M97.7 12.4v2M102.4 183.6v-3M102.4 12.4v3M133.2 183.6v-2M133.2 12.4v2M151.2 183.6v-2M151.2 12.4v2M163.9 183.6v-2M163.9 12.4v2M173.8 183.6v-2M173.8 12.4v2M181.9 183.6v-2M181.9 12.4v2M188.8 183.6v-2M188.8 12.4v2M194.7 183.6v-2M194.7 12.4v2M199.9 183.6v-2M199.9 12.4v2M204.6 183.6v-3M204.6 12.4v3" stroke="#333" stroke-width="0.9" fill="none"/>
<text x="44.7" y="15.1" font-size="9.4" text-anchor="end" font-family="&quot;Liberation Sans&quot;, sans-serif" fill="#111">0.2</text>
<text x="44.7" y="43.6" font-size="9.4" text-anchor="end" font-family="&quot;Liberation Sans&quot;, sans-serif" fill="#111">0.1</text>
<text x="44.7" y="72.2" font-size="9.4" text-anchor="end" font-family="&quot;Liberation Sans&quot;, sans-serif" fill="#111">0</text>
<text x="44.7" y="100.7" font-size="9.4" text-anchor="end" font-family="&quot;Liberation Sans&quot;, sans-serif" fill="#111">-0.1</text>
<text x="44.7" y="129.2" font-size="9.4" text-anchor="end" font-family="&quot;Liberation Sans&quot;, sans-serif" fill="#111">-0.2</text>
<text x="44.7" y="157.8" font-size="9.4" text-anchor="end" font-family="&quot;Liberation Sans&quot;, sans-serif" fill="#111">-0.3</text>
<text x="44.7" y="186.3" font-size="9.4" text-anchor="end" font-family="&quot;Liberation Sans&quot;, sans-serif" fill="#111">-0.4</text>
<text x="102.4" y="196.6" font-size="9.4" text-anchor="middle" font-family="&quot;Liberation Sans&quot;, sans-serif" fill="#111">1</text>
<text x="204.6" y="196.6" font-size="9.4" text-anchor="middle" font-family="&quot;Liberation Sans&quot;, sans-serif" fill="#111">10</text>
<text x="135.6" y="209.6" font-size="11.9" text-anchor="middle" font-family="&quot;Liberation Sans&quot;, sans-serif" fill="#111" textLength="83" lengthAdjust="spacingAndGlyphs">Frequency, GHz</text>
<text x="73.4" y="32.3" font-size="21.5" font-family="&quot;Liberation Sans&quot;, sans-serif" fill="#000">THz</text>
<defs><clipPath id="cHTC"><rect x="280.8" y="12.0" width="171.5" height="171.5"/></clipPath></defs>
<g clip-path="url(#cHTC)">
<path d="M279.7 46.1v59.2m-1 0h2m-2 -59.2h2M281.6 43.4v71.3m-1 0h2m-2 -71.3h2M283.4 31.2v73.3m-1 0h2m-2 -73.3h2M285.1 14.8v78.6m-1 0h2m-2 -78.6h2M286.8 43.3v59.4m-1 0h2m-2 -59.4h2M288.4 37.2v75.6m-1 0h2m-2 -75.6h2M289.9 57.7v44.1m-1 0h2m-2 -44.1h2M291.4 40.4v56.1m-1 0h2m-2 -56.1h2M292.8 41.3v60.2m-1 0h2m-2 -60.2h2M294.2 59.3v32.2m-1 0h2m-2 -32.2h2M295.6 42.2v57.5m-1 0h2m-2 -57.5h2M296.9 42.9v56.7m-1 0h2m-2 -56.7h2M298.2 51.1v46.0m-1 0h2m-2 -46.0h2M299.4 38.2v57.4m-1 0h2m-2 -57.4h2M300.6 57.0v48.6m-1 0h2m-2 -48.6h2M301.8 48.9v36.6m-1 0h2m-2 -36.6h2M303.0 47.4v49.9m-1 0h2m-2 -49.9h2M304.1 50.4v39.8m-1 0h2m-2 -39.8h2M305.2 46.2v44.0m-1 0h2m-2 -44.0h2M306.2 48.5v52.2m-1 0h2m-2 -52.2h2M307.3 55.7v42.5m-1 0h2m-2 -42.5h2M308.3 57.0v43.9m-1 0h2m-2 -43.9h2M309.3 52.4v44.1m-1 0h2m-2 -44.1h2M310.3 56.1v26.2m-1 0h2m-2 -26.2h2M311.2 64.9v21.2m-1 0h2m-2 -21.2h2M312.1 53.4v21.8m-1 0h2m-2 -21.8h2M313.0 55.8v31.4m-1 0h2m-2 -31.4h2M313.9 51.9v43.3m-1 0h2m-2 -43.3h2M314.8 58.9v29.6m-1 0h2m-2 -29.6h2M315.7 45.5v40.5m-1 0h2m-2 -40.5h2M316.5 51.9v24.7m-1 0h2m-2 -24.7h2M317.3 67.9v20.6m-1 0h2m-2 -20.6h2M318.1 55.5v26.2m-1 0h2m-2 -26.2h2M318.9 46.0v35.3m-1 0h2m-2 -35.3h2M319.7 46.8v37.2m-1 0h2m-2 -37.2h2M320.5 57.1v27.3m-1 0h2m-2 -27.3h2M321.2 63.8v23.4m-1 0h2m-2 -23.4h2M322.0 55.0v31.1m-1 0h2m-2 -31.1h2M322.7 63.8v23.3m-1 0h2m-2 -23.3h2M323.4 61.2v20.4m-1 0h2m-2 -20.4h2M324.1 58.0v28.6m-1 0h2m-2 -28.6h2M324.8 66.4v15.6m-1 0h2m-2 -15.6h2M325.5 54.9v28.2m-1 0h2m-2 -28.2h2M326.2 56.0v31.0m-1 0h2m-2 -31.0h2M326.9 61.3v15.3m-1 0h2m-2 -15.3h2M327.5 54.6v27.0m-1 0h2m-2 -27.0h2M328.2 65.9v13.4m-1 0h2m-2 -13.4h2M328.8 60.0v15.0m-1 0h2m-2 -15.0h2M329.4 61.8v17.6m-1 0h2m-2 -17.6h2M330.1 53.2v29.1m-1 0h2m-2 -29.1h2M330.7 63.5v13.1m-1 0h2m-2 -13.1h2M331.3 59.0v19.5m-1 0h2m-2 -19.5h2M332.4 64.3v18.7m-1 0h2m-2 -18.7h2M333.6 63.7v14.1m-1 0h2m-2 -14.1h2M334.7 58.0v25.5m-1 0h2m-2 -25.5h2M335.8 67.9v14.1m-1 0h2m-2 -14.1h2M336.9 52.2v22.9m-1 0h2m-2 -22.9h2M337.9 59.5v17.4m-1 0h2m-2 -17.4h2M338.9 55.3v19.1m-1 0h2m-2 -19.1h2M339.9 61.6v18.9m-1 0h2m-2 -18.9h2M340.9 63.4v17.4m-1 0h2m-2 -17.4h2M341.8 63.5v18.5m-1 0h2m-2 -18.5h2M342.8 62.8v18.7m-1 0h2m-2 -18.7h2M343.7 65.5v9.9m-1 0h2m-2 -9.9h2M344.6 70.4v9.0m-1 0h2m-2 -9.0h2M345.5 66.6v12.5m-1 0h2m-2 -12.5h2M346.3 68.0v8.6m-1 0h2m-2 -8.6h2M347.2 64.9v13.0m-1 0h2m-2 -13.0h2M348.0 65.6v15.9m-1 0h2m-2 -15.9h2M348.8 66.9v11.4m-1 0h2m-2 -11.4h2M349.6 68.7v8.1m-1 0h2m-2 -8.1h2M350.4 69.6v7.6m-1 0h2m-2 -7.6h2M351.2 67.8v11.2m-1 0h2m-2 -11.2h2M351.9 65.9v13.1m-1 0h2m-2 -13.1h2M352.7 67.8v13.6m-1 0h2m-2 -13.6h2M353.4 65.8v13.2m-1 0h2m-2 -13.2h2M354.1 66.9v10.6m-1 0h2m-2 -10.6h2M354.8 66.6v14.2m-1 0h2m-2 -14.2h2M355.5 67.8v11.2m-1 0h2m-2 -11.2h2M356.2 67.0v12.5m-1 0h2m-2 -12.5h2M356.9 69.4v6.5m-1 0h2m-2 -6.5h2M357.5 67.6v10.8m-1 0h2m-2 -10.8h2M358.2 68.7v7.2m-1 0h2m-2 -7.2h2M358.8 66.9v8.3m-1 0h2m-2 -8.3h2M359.5 68.8v9.1m-1 0h2m-2 -9.1h2M360.1 65.8v11.4m-1 0h2m-2 -11.4h2M360.7 68.7v7.1m-1 0h2m-2 -7.1h2M361.3 67.0v12.6m-1 0h2m-2 -12.6h2M361.9 67.7v9.9m-1 0h2m-2 -9.9h2M362.8 71.2v8.3m-1 0h2m-2 -8.3h2M363.7 63.9v14.6m-1 0h2m-2 -14.6h2M364.6 65.8v12.1m-1 0h2m-2 -12.1h2M365.4 68.2v9.3m-1 0h2m-2 -9.3h2M366.2 70.6v7.5m-1 0h2m-2 -7.5h2M367.0 67.6v10.6m-1 0h2m-2 -10.6h2M367.8 65.5v13.0m-1 0h2m-2 -13.0h2M368.6 69.4v10.7m-1 0h2m-2 -10.7h2M369.4 68.4v9.0m-1 0h2m-2 -9.0h2M370.1 70.1v7.3m-1 0h2m-2 -7.3h2M370.9 71.0v8.2m-1 0h2m-2 -8.2h2M371.6 67.2v13.0m-1 0h2m-2 -13.0h2M372.3 70.3v7.7m-1 0h2m-2 -7.7h2M373.0 68.0v14.6m-1 0h2m-2 -14.6h2M373.7 68.5v12.5m-1 0h2m-2 -12.5h2M374.4 70.6v9.7m-1 0h2m-2 -9.7h2M375.1 70.4v7.9m-1 0h2m-2 -7.9h2M375.7 70.3v10.2m-1 0h2m-2 -10.2h2M376.4 67.5v14.3m-1 0h2m-2 -14.3h2M377.0 70.7v7.3m-1 0h2m-2 -7.3h2M377.6 73.7v8.3m-1 0h2m-2 -8.3h2M378.3 73.2v6.9m-1 0h2m-2 -6.9h2M378.9 71.2v12.3m-1 0h2m-2 -12.3h2M379.5 68.5v14.2m-1 0h2m-2 -14.2h2M380.1 71.3v10.9m-1 0h2m-2 -10.9h2M380.9 72.4v8.7m-1 0h2m-2 -8.7h2M381.7 68.6v14.2m-1 0h2m-2 -14.2h2M382.4 72.4v11.1m-1 0h2m-2 -11.1h2M383.2 69.8v14.2m-1 0h2m-2 -14.2h2M383.9 73.0v9.3m-1 0h2m-2 -9.3h2M384.6 72.8v7.4m-1 0h2m-2 -7.4h2M385.3 75.8v6.8m-1 0h2m-2 -6.8h2M386.0 74.9v8.4m-1 0h2m-2 -8.4h2M386.7 74.0v9.7m-1 0h2m-2 -9.7h2M387.4 71.5v12.4m-1 0h2m-2 -12.4h2M388.1 73.2v10.0m-1 0h2m-2 -10.0h2M388.7 75.9v8.3m-1 0h2m-2 -8.3h2M389.4 72.0v13.5m-1 0h2m-2 -13.5h2M390.0 74.0v10.8m-1 0h2m-2 -10.8h2M390.7 73.9v11.0m-1 0h2m-2 -11.0h2M391.3 71.8v12.8m-1 0h2m-2 -12.8h2M391.9 75.2v11.6m-1 0h2m-2 -11.6h2M392.5 73.6v8.1m-1 0h2m-2 -8.1h2M393.2 73.1v13.8m-1 0h2m-2 -13.8h2M394.0 76.1v7.4m-1 0h2m-2 -7.4h2M394.7 74.7v7.4m-1 0h2m-2 -7.4h2M395.4 75.0v11.3m-1 0h2m-2 -11.3h2M396.1 75.7v10.8m-1 0h2m-2 -10.8h2M396.8 77.0v7.9m-1 0h2m-2 -7.9h2M397.5 74.5v11.7m-1 0h2m-2 -11.7h2M398.1 78.5v6.8m-1 0h2m-2 -6.8h2M398.8 77.9v9.8m-1 0h2m-2 -9.8h2M399.4 75.4v13.6m-1 0h2m-2 -13.6h2M400.1 77.4v13.2m-1 0h2m-2 -13.2h2M400.7 78.1v10.8m-1 0h2m-2 -10.8h2M401.3 77.7v12.4m-1 0h2m-2 -12.4h2M401.9 79.2v11.4m-1 0h2m-2 -11.4h2M402.5 79.3v8.0m-1 0h2m-2 -8.0h2M403.2 77.3v13.2m-1 0h2m-2 -13.2h2M403.9 79.8v11.2m-1 0h2m-2 -11.2h2M404.6 80.3v11.2m-1 0h2m-2 -11.2h2M405.3 80.5v14.2m-1 0h2m-2 -14.2h2M406.0 82.6v11.0m-1 0h2m-2 -11.0h2M406.6 83.5v9.1m-1 0h2m-2 -9.1h2M407.3 84.0v10.0m-1 0h2m-2 -10.0h2M407.9 83.8v11.2m-1 0h2m-2 -11.2h2M408.6 83.1v13.9m-1 0h2m-2 -13.9h2M409.2 84.0v13.8m-1 0h2m-2 -13.8h2M409.8 88.1v10.0m-1 0h2m-2 -10.0h2M410.4 87.1v10.8m-1 0h2m-2 -10.8h2M411.1 90.2v7.0m-1 0h2m-2 -7.0h2M411.8 89.3v12.3m-1 0h2m-2 -12.3h2M412.5 89.1v13.8m-1 0h2m-2 -13.8h2M413.1 93.3v8.5m-1 0h2m-2 -8.5h2M413.8 90.4v12.5m-1 0h2m-2 -12.5h2M414.4 95.9v8.1m-1 0h2m-2 -8.1h2M415.1 92.4v14.5m-1 0h2m-2 -14.5h2M415.7 93.6v13.6m-1 0h2m-2 -13.6h2M416.3 92.6v15.5m-1 0h2m-2 -15.5h2M416.9 92.8v9.6m-1 0h2m-2 -9.6h2M417.5 97.0v8.6m-1 0h2m-2 -8.6h2M418.2 92.2v12.3m-1 0h2m-2 -12.3h2M418.9 93.7v7.6m-1 0h2m-2 -7.6h2M419.5 85.7v14.8m-1 0h2m-2 -14.8h2M420.2 89.2v9.1m-1 0h2m-2 -9.1h2M420.8 86.8v8.4m-1 0h2m-2 -8.4h2M421.5 82.8v8.6m-1 0h2m-2 -8.6h2M422.1 77.8v14.5m-1 0h2m-2 -14.5h2M422.7 79.8v8.3m-1 0h2m-2 -8.3h2M423.3 72.3v12.6m-1 0h2m-2 -12.6h2M424.0 69.5v10.4m-1 0h2m-2 -10.4h2M424.6 67.5v17.7m-1 0h2m-2 -17.7h2M425.3 66.9v9.6m-1 0h2m-2 -9.6h2M425.9 62.5v11.7m-1 0h2m-2 -11.7h2M426.5 61.9v19.4m-1 0h2m-2 -19.4h2M427.2 56.7v16.7m-1 0h2m-2 -16.7h2M427.8 57.6v11.7m-1 0h2m-2 -11.7h2M428.4 52.7v24.2m-1 0h2m-2 -24.2h2M429.0 56.1v16.1m-1 0h2m-2 -16.1h2M429.7 58.3v17.2m-1 0h2m-2 -17.2h2M430.3 56.8v22.6m-1 0h2m-2 -22.6h2M431.0 57.5v19.3m-1 0h2m-2 -19.3h2M431.6 57.2v25.2m-1 0h2m-2 -25.2h2M432.2 62.0v21.8m-1 0h2m-2 -21.8h2M432.8 65.6v18.0m-1 0h2m-2 -18.0h2M433.4 64.3v24.7m-1 0h2m-2 -24.7h2M434.1 62.6v32.4m-1 0h2m-2 -32.4h2M434.7 67.1v22.3m-1 0h2m-2 -22.3h2M435.4 64.9v31.6m-1 0h2m-2 -31.6h2M436.0 62.5v31.9m-1 0h2m-2 -31.9h2M436.6 62.0v36.2m-1 0h2m-2 -36.2h2M437.2 72.3v29.1m-1 0h2m-2 -29.1h2M437.9 61.5v26.8m-1 0h2m-2 -26.8h2M438.5 66.3v40.5m-1 0h2m-2 -40.5h2M439.1 77.2v47.7m-1 0h2m-2 -47.7h2M439.8 59.3v37.9m-1 0h2m-2 -37.9h2M440.4 81.6v28.5m-1 0h2m-2 -28.5h2M441.0 54.8v51.7m-1 0h2m-2 -51.7h2M441.6 70.0v44.1m-1 0h2m-2 -44.1h2M442.3 73.6v51.1m-1 0h2m-2 -51.1h2M442.9 83.5v31.4m-1 0h2m-2 -31.4h2M443.5 58.7v58.4m-1 0h2m-2 -58.4h2M444.1 65.3v42.8m-1 0h2m-2 -42.8h2M444.7 55.8v61.7m-1 0h2m-2 -61.7h2M445.4 79.1v37.1m-1 0h2m-2 -37.1h2M446.0 78.2v27.7m-1 0h2m-2 -27.7h2M446.6 74.5v38.7m-1 0h2m-2 -38.7h2M447.3 68.7v52.7m-1 0h2m-2 -52.7h2M447.9 69.7v51.9m-1 0h2m-2 -51.9h2M448.5 68.4v55.6m-1 0h2m-2 -55.6h2M449.1 77.5v33.0m-1 0h2m-2 -33.0h2M449.8 62.5v45.5m-1 0h2m-2 -45.5h2M450.4 86.4v27.5m-1 0h2m-2 -27.5h2M451.0 62.6v32.1m-1 0h2m-2 -32.1h2M451.6 85.1v25.9m-1 0h2m-2 -25.9h2M452.3 66.2v44.2m-1 0h2m-2 -44.2h2M452.9 63.9v52.7m-1 0h2m-2 -52.7h2" stroke="#b0b0f0" stroke-width="0.7" stroke-opacity="0.62" fill="none"/>
<path d="M279.7 79.1v43.8m-1 0h2m-2 -43.8h2M281.6 77.2v49.7m-1 0h2m-2 -49.7h2M283.4 91.3v29.3m-1 0h2m-2 -29.3h2M285.1 86.9v45.2m-1 0h2m-2 -45.2h2M286.8 86.6v31.0m-1 0h2m-2 -31.0h2M288.4 77.2v53.0m-1 0h2m-2 -53.0h2M289.9 83.2v39.3m-1 0h2m-2 -39.3h2M291.4 93.5v26.0m-1 0h2m-2 -26.0h2M292.8 87.8v45.0m-1 0h2m-2 -45.0h2M294.2 79.6v34.4m-1 0h2m-2 -34.4h2M295.6 80.5v40.9m-1 0h2m-2 -40.9h2M296.9 84.3v33.8m-1 0h2m-2 -33.8h2M298.2 83.5v41.7m-1 0h2m-2 -41.7h2M299.4 95.9v25.9m-1 0h2m-2 -25.9h2M300.6 79.5v42.6m-1 0h2m-2 -42.6h2M301.8 92.4v18.7m-1 0h2m-2 -18.7h2M303.0 92.6v27.1m-1 0h2m-2 -27.1h2M304.1 83.4v21.5m-1 0h2m-2 -21.5h2M305.2 76.1v40.6m-1 0h2m-2 -40.6h2M306.2 89.0v17.7m-1 0h2m-2 -17.7h2M307.3 88.1v23.6m-1 0h2m-2 -23.6h2M308.3 88.1v25.5m-1 0h2m-2 -25.5h2M309.3 88.1v18.2m-1 0h2m-2 -18.2h2M310.3 89.6v36.3m-1 0h2m-2 -36.3h2M311.2 79.8v32.7m-1 0h2m-2 -32.7h2M312.1 84.7v27.3m-1 0h2m-2 -27.3h2M313.0 92.1v24.2m-1 0h2m-2 -24.2h2M313.9 92.8v19.5m-1 0h2m-2 -19.5h2M314.8 89.6v18.6m-1 0h2m-2 -18.6h2M315.7 89.0v23.2m-1 0h2m-2 -23.2h2M316.5 88.9v27.0m-1 0h2m-2 -27.0h2M317.3 83.0v31.4m-1 0h2m-2 -31.4h2M318.1 91.9v19.2m-1 0h2m-2 -19.2h2M318.9 79.3v30.8m-1 0h2m-2 -30.8h2M319.7 85.6v26.6m-1 0h2m-2 -26.6h2M320.5 83.2v16.9m-1 0h2m-2 -16.9h2M321.2 87.6v14.3m-1 0h2m-2 -14.3h2M322.0 86.8v14.0m-1 0h2m-2 -14.0h2M322.7 88.3v30.7m-1 0h2m-2 -30.7h2M323.4 87.8v17.6m-1 0h2m-2 -17.6h2M324.1 92.6v14.2m-1 0h2m-2 -14.2h2M324.8 82.7v24.3m-1 0h2m-2 -24.3h2M325.5 89.0v17.5m-1 0h2m-2 -17.5h2M326.2 83.2v28.5m-1 0h2m-2 -28.5h2M326.9 83.6v23.5m-1 0h2m-2 -23.5h2M327.5 88.2v26.8m-1 0h2m-2 -26.8h2M328.2 81.3v22.7m-1 0h2m-2 -22.7h2M328.8 88.9v23.7m-1 0h2m-2 -23.7h2M329.4 98.0v19.1m-1 0h2m-2 -19.1h2M330.1 86.7v18.3m-1 0h2m-2 -18.3h2M330.7 86.9v23.6m-1 0h2m-2 -23.6h2M331.3 86.6v14.2m-1 0h2m-2 -14.2h2M332.4 92.6v12.1m-1 0h2m-2 -12.1h2M333.6 81.8v24.1m-1 0h2m-2 -24.1h2M334.7 92.6v16.1m-1 0h2m-2 -16.1h2M335.8 88.7v18.1m-1 0h2m-2 -18.1h2M336.9 86.8v15.5m-1 0h2m-2 -15.5h2M337.9 86.3v19.7m-1 0h2m-2 -19.7h2M338.9 85.9v19.6m-1 0h2m-2 -19.6h2M339.9 92.9v11.7m-1 0h2m-2 -11.7h2M340.9 91.8v18.6m-1 0h2m-2 -18.6h2M341.8 92.2v12.8m-1 0h2m-2 -12.8h2M342.8 89.5v15.4m-1 0h2m-2 -15.4h2M343.7 90.9v14.0m-1 0h2m-2 -14.0h2M344.6 90.5v17.7m-1 0h2m-2 -17.7h2M345.5 89.1v12.6m-1 0h2m-2 -12.6h2M346.3 91.2v16.6m-1 0h2m-2 -16.6h2M347.2 90.1v17.4m-1 0h2m-2 -17.4h2M348.0 88.3v13.3m-1 0h2m-2 -13.3h2M348.8 91.1v15.3m-1 0h2m-2 -15.3h2M349.6 87.6v15.7m-1 0h2m-2 -15.7h2M350.4 91.8v9.4m-1 0h2m-2 -9.4h2M351.2 91.8v11.5m-1 0h2m-2 -11.5h2M351.9 86.4v15.8m-1 0h2m-2 -15.8h2M352.7 86.5v14.4m-1 0h2m-2 -14.4h2M353.4 86.5v15.2m-1 0h2m-2 -15.2h2M354.1 87.4v12.9m-1 0h2m-2 -12.9h2M354.8 89.1v10.7m-1 0h2m-2 -10.7h2M355.5 86.6v14.6m-1 0h2m-2 -14.6h2M356.2 88.6v10.4m-1 0h2m-2 -10.4h2M356.9 87.3v12.6m-1 0h2m-2 -12.6h2M357.5 89.3v9.1m-1 0h2m-2 -9.1h2M358.2 87.7v10.9m-1 0h2m-2 -10.9h2M358.8 88.8v11.3m-1 0h2m-2 -11.3h2M359.5 90.2v8.2m-1 0h2m-2 -8.2h2M360.1 89.3v8.0m-1 0h2m-2 -8.0h2M360.7 88.8v15.4m-1 0h2m-2 -15.4h2M361.3 85.2v16.3m-1 0h2m-2 -16.3h2M361.9 91.3v8.6m-1 0h2m-2 -8.6h2M362.8 89.0v10.5m-1 0h2m-2 -10.5h2M363.7 88.9v13.4m-1 0h2m-2 -13.4h2M364.6 91.8v8.4m-1 0h2m-2 -8.4h2M365.4 92.6v7.6m-1 0h2m-2 -7.6h2M366.2 89.3v15.5m-1 0h2m-2 -15.5h2M367.0 89.8v9.6m-1 0h2m-2 -9.6h2M367.8 90.6v15.9m-1 0h2m-2 -15.9h2M368.6 90.0v11.8m-1 0h2m-2 -11.8h2M369.4 88.3v12.4m-1 0h2m-2 -12.4h2M370.1 88.0v12.0m-1 0h2m-2 -12.0h2M370.9 92.1v11.7m-1 0h2m-2 -11.7h2M371.6 92.4v9.4m-1 0h2m-2 -9.4h2M372.3 89.0v12.7m-1 0h2m-2 -12.7h2M373.0 90.7v11.0m-1 0h2m-2 -11.0h2M373.7 89.4v14.7m-1 0h2m-2 -14.7h2M374.4 90.6v9.6m-1 0h2m-2 -9.6h2M375.1 90.5v8.7m-1 0h2m-2 -8.7h2M375.7 87.8v14.8m-1 0h2m-2 -14.8h2M376.4 90.3v11.8m-1 0h2m-2 -11.8h2M377.0 90.8v9.0m-1 0h2m-2 -9.0h2M377.6 86.9v14.0m-1 0h2m-2 -14.0h2M378.3 91.4v9.5m-1 0h2m-2 -9.5h2M378.9 86.7v13.4m-1 0h2m-2 -13.4h2M379.5 88.0v12.8m-1 0h2m-2 -12.8h2M380.1 91.9v9.5m-1 0h2m-2 -9.5h2M380.9 89.2v12.7m-1 0h2m-2 -12.7h2M381.7 89.9v11.3m-1 0h2m-2 -11.3h2M382.4 91.9v7.1m-1 0h2m-2 -7.1h2M383.2 88.6v15.7m-1 0h2m-2 -15.7h2M383.9 90.6v9.2m-1 0h2m-2 -9.2h2M384.6 88.0v10.3m-1 0h2m-2 -10.3h2M385.3 88.2v14.7m-1 0h2m-2 -14.7h2M386.0 85.2v13.0m-1 0h2m-2 -13.0h2M386.7 88.7v8.3m-1 0h2m-2 -8.3h2M387.4 90.6v12.5m-1 0h2m-2 -12.5h2M388.1 92.8v6.9m-1 0h2m-2 -6.9h2M388.7 87.8v13.5m-1 0h2m-2 -13.5h2M389.4 88.8v12.2m-1 0h2m-2 -12.2h2M390.0 88.7v12.7m-1 0h2m-2 -12.7h2M390.7 90.1v11.8m-1 0h2m-2 -11.8h2M391.3 89.0v9.9m-1 0h2m-2 -9.9h2M391.9 87.5v12.6m-1 0h2m-2 -12.6h2M392.5 88.6v10.8m-1 0h2m-2 -10.8h2M393.2 88.2v13.4m-1 0h2m-2 -13.4h2M394.0 91.5v7.0m-1 0h2m-2 -7.0h2M394.7 89.6v9.0m-1 0h2m-2 -9.0h2M395.4 91.5v8.1m-1 0h2m-2 -8.1h2M396.1 87.9v11.2m-1 0h2m-2 -11.2h2M396.8 88.7v12.2m-1 0h2m-2 -12.2h2M397.5 89.8v8.6m-1 0h2m-2 -8.6h2M398.1 86.3v15.0m-1 0h2m-2 -15.0h2M398.8 91.6v9.9m-1 0h2m-2 -9.9h2M399.4 91.5v6.7m-1 0h2m-2 -6.7h2M400.1 87.6v13.0m-1 0h2m-2 -13.0h2M400.7 91.6v7.6m-1 0h2m-2 -7.6h2M401.3 90.9v6.8m-1 0h2m-2 -6.8h2M401.9 91.6v9.2m-1 0h2m-2 -9.2h2M402.5 91.2v10.9m-1 0h2m-2 -10.9h2M403.2 92.5v8.9m-1 0h2m-2 -8.9h2M403.9 89.7v9.7m-1 0h2m-2 -9.7h2M404.6 91.8v8.0m-1 0h2m-2 -8.0h2M405.3 93.0v10.0m-1 0h2m-2 -10.0h2M406.0 88.3v14.1m-1 0h2m-2 -14.1h2M406.6 91.9v9.7m-1 0h2m-2 -9.7h2M407.3 90.7v12.3m-1 0h2m-2 -12.3h2M407.9 88.7v8.9m-1 0h2m-2 -8.9h2M408.6 91.9v8.1m-1 0h2m-2 -8.1h2M409.2 90.2v10.0m-1 0h2m-2 -10.0h2M409.8 91.3v7.3m-1 0h2m-2 -7.3h2M410.4 89.6v11.5m-1 0h2m-2 -11.5h2M411.1 86.1v13.7m-1 0h2m-2 -13.7h2M411.8 86.0v11.1m-1 0h2m-2 -11.1h2M412.5 86.2v9.3m-1 0h2m-2 -9.3h2M413.1 83.0v10.3m-1 0h2m-2 -10.3h2M413.8 80.1v15.1m-1 0h2m-2 -15.1h2M414.4 78.4v9.6m-1 0h2m-2 -9.6h2M415.1 80.9v10.5m-1 0h2m-2 -10.5h2M415.7 74.4v14.0m-1 0h2m-2 -14.0h2M416.3 75.9v9.8m-1 0h2m-2 -9.8h2M416.9 70.3v16.5m-1 0h2m-2 -16.5h2M417.5 71.8v9.1m-1 0h2m-2 -9.1h2M418.2 70.0v7.7m-1 0h2m-2 -7.7h2M418.9 64.8v11.7m-1 0h2m-2 -11.7h2M419.5 58.7v12.9m-1 0h2m-2 -12.9h2M420.2 56.9v13.2m-1 0h2m-2 -13.2h2M420.8 57.9v10.8m-1 0h2m-2 -10.8h2M421.5 51.8v15.4m-1 0h2m-2 -15.4h2M422.1 52.3v16.1m-1 0h2m-2 -16.1h2M422.7 60.7v12.6m-1 0h2m-2 -12.6h2M423.3 59.0v16.0m-1 0h2m-2 -16.0h2M424.0 62.1v15.9m-1 0h2m-2 -15.9h2M424.6 64.5v9.5m-1 0h2m-2 -9.5h2M425.3 67.2v9.2m-1 0h2m-2 -9.2h2M425.9 69.8v9.1m-1 0h2m-2 -9.1h2M426.5 71.1v8.7m-1 0h2m-2 -8.7h2M427.2 67.4v16.2m-1 0h2m-2 -16.2h2M427.8 67.6v12.2m-1 0h2m-2 -12.2h2M428.4 71.5v9.8m-1 0h2m-2 -9.8h2M429.0 68.3v14.6m-1 0h2m-2 -14.6h2M429.7 78.1v12.0m-1 0h2m-2 -12.0h2M430.3 75.5v9.3m-1 0h2m-2 -9.3h2M431.0 74.8v13.8m-1 0h2m-2 -13.8h2M431.6 74.4v19.0m-1 0h2m-2 -19.0h2M432.2 75.2v17.8m-1 0h2m-2 -17.8h2M432.8 75.7v21.6m-1 0h2m-2 -21.6h2M433.4 76.4v15.5m-1 0h2m-2 -15.5h2M434.1 71.4v22.0m-1 0h2m-2 -22.0h2M434.7 85.8v14.8m-1 0h2m-2 -14.8h2M435.4 78.5v16.4m-1 0h2m-2 -16.4h2M436.0 78.2v20.2m-1 0h2m-2 -20.2h2M436.6 79.6v16.5m-1 0h2m-2 -16.5h2M437.2 82.7v12.7m-1 0h2m-2 -12.7h2M437.9 80.8v20.6m-1 0h2m-2 -20.6h2M438.5 80.8v23.8m-1 0h2m-2 -23.8h2M439.1 78.2v16.0m-1 0h2m-2 -16.0h2M439.8 80.7v17.1m-1 0h2m-2 -17.1h2M440.4 77.5v15.8m-1 0h2m-2 -15.8h2M441.0 79.2v21.7m-1 0h2m-2 -21.7h2M441.6 72.0v19.0m-1 0h2m-2 -19.0h2M442.3 76.7v15.2m-1 0h2m-2 -15.2h2M442.9 72.0v25.9m-1 0h2m-2 -25.9h2M443.5 71.4v12.2m-1 0h2m-2 -12.2h2M444.1 68.2v25.4m-1 0h2m-2 -25.4h2M444.7 66.9v25.8m-1 0h2m-2 -25.8h2M445.4 68.9v13.5m-1 0h2m-2 -13.5h2M446.0 70.0v12.3m-1 0h2m-2 -12.3h2M446.6 67.3v22.3m-1 0h2m-2 -22.3h2M447.3 64.3v21.3m-1 0h2m-2 -21.3h2M447.9 64.3v14.8m-1 0h2m-2 -14.8h2M448.5 61.5v18.9m-1 0h2m-2 -18.9h2M449.1 64.7v13.5m-1 0h2m-2 -13.5h2M449.8 62.9v18.6m-1 0h2m-2 -18.6h2M450.4 58.8v20.4m-1 0h2m-2 -20.4h2M451.0 53.9v26.3m-1 0h2m-2 -26.3h2M451.6 58.8v18.0m-1 0h2m-2 -18.0h2M452.3 49.5v14.5m-1 0h2m-2 -14.5h2M452.9 43.1v27.2m-1 0h2m-2 -27.2h2" stroke="#f4a8c0" stroke-width="0.7" stroke-opacity="0.62" fill="none"/>
<path d="M279.7 55.9h.1M281.6 77.5h.1M283.4 71.4h.1M285.1 66.1h.1M286.8 79.1h.1M288.4 70.4h.1M289.9 79.8h.1M291.4 75.7h.1M292.8 70.3h.1M294.2 79.3h.1M295.6 76.9h.1M296.9 69.0h.1M298.2 62.5h.1M299.4 68.7h.1M300.6 75.2h.1M301.8 70.3h.1M303.0 81.2h.1M304.1 72.8h.1M305.2 72.3h.1M306.2 73.3h.1M307.3 66.5h.1M308.3 70.3h.1M309.3 67.5h.1M310.3 59.1h.1M311.2 62.0h.1M312.1 74.2h.1M313.0 68.5h.1M313.9 70.0h.1M314.8 63.6h.1M315.7 67.7h.1M316.5 73.9h.1M317.3 70.8h.1M318.1 68.0h.1M318.9 76.9h.1M319.7 69.9h.1M320.5 68.7h.1M321.2 75.0h.1M322.0 62.9h.1M322.7 72.4h.1M323.4 65.6h.1M324.1 66.9h.1M324.8 67.4h.1M325.5 70.5h.1M326.2 70.4h.1M326.9 71.1h.1M327.5 70.7h.1M328.2 74.8h.1M328.8 75.7h.1M329.4 72.3h.1M330.1 72.4h.1M330.7 68.7h.1M331.3 66.5h.1M332.4 71.9h.1M333.6 70.3h.1M334.7 72.7h.1M335.8 65.7h.1M336.9 77.2h.1M337.9 67.6h.1M338.9 70.8h.1M339.9 72.9h.1M340.9 68.3h.1M341.8 70.3h.1M342.8 68.0h.1M343.7 69.5h.1M344.6 69.1h.1M345.5 72.5h.1M346.3 73.0h.1M347.2 72.5h.1M348.0 74.6h.1M348.8 74.6h.1M349.6 73.2h.1M350.4 73.0h.1M351.2 73.0h.1M351.9 72.8h.1M352.7 74.6h.1M353.4 73.6h.1M354.1 73.0h.1M354.8 73.2h.1M355.5 73.9h.1M356.2 72.8h.1M356.9 73.4h.1M357.5 72.9h.1M358.2 74.2h.1M358.8 73.9h.1M359.5 71.2h.1M360.1 72.3h.1M360.7 73.2h.1M361.3 72.1h.1M361.9 73.4h.1M362.8 72.9h.1M363.7 73.2h.1M364.6 72.5h.1M365.4 73.0h.1M366.2 73.5h.1M367.0 71.7h.1M367.8 72.4h.1M368.6 72.5h.1M369.4 75.5h.1M370.1 74.3h.1M370.9 74.6h.1M371.6 74.6h.1M372.3 74.1h.1M373.0 74.0h.1M373.7 75.8h.1M374.4 74.8h.1M375.1 76.9h.1M375.7 75.7h.1M376.4 75.8h.1M377.0 75.6h.1M377.6 76.0h.1M378.3 76.3h.1M378.9 77.9h.1M379.5 78.9h.1M380.1 75.6h.1M380.9 77.2h.1M381.7 77.9h.1M382.4 76.5h.1M383.2 77.0h.1M383.9 77.3h.1M384.6 75.6h.1M385.3 78.8h.1M386.0 78.3h.1M386.7 78.4h.1M387.4 78.7h.1M388.1 79.0h.1M388.7 81.2h.1M389.4 79.2h.1M390.0 80.0h.1M390.7 78.7h.1M391.3 79.7h.1M391.9 79.2h.1M392.5 79.5h.1M393.2 78.9h.1M394.0 79.1h.1M394.7 80.5h.1M395.4 81.0h.1M396.1 81.0h.1M396.8 80.2h.1M397.5 81.5h.1M398.1 78.9h.1M398.8 82.6h.1M399.4 81.9h.1M400.1 82.5h.1M400.7 83.9h.1M401.3 82.7h.1M401.9 84.5h.1M402.5 83.5h.1M403.2 85.0h.1M403.9 84.5h.1M404.6 85.7h.1M405.3 87.5h.1M406.0 86.3h.1M406.6 87.3h.1M407.3 88.4h.1M407.9 89.9h.1M408.6 93.3h.1M409.2 90.8h.1M409.8 90.1h.1M410.4 92.4h.1M411.1 92.4h.1M411.8 94.7h.1M412.5 96.5h.1M413.1 96.8h.1M413.8 98.3h.1M414.4 97.7h.1M415.1 100.1h.1M415.7 99.5h.1M416.3 101.2h.1M416.9 100.5h.1M417.5 98.0h.1M418.2 97.8h.1M418.9 97.5h.1M419.5 96.2h.1M420.2 90.6h.1M420.8 90.3h.1M421.5 90.4h.1M422.1 84.5h.1M422.7 82.0h.1M423.3 79.0h.1M424.0 74.0h.1M424.6 75.4h.1M425.3 71.5h.1M425.9 68.9h.1M426.5 67.8h.1M427.2 66.1h.1M427.8 58.8h.1M428.4 65.0h.1M429.0 63.4h.1M429.7 66.4h.1M430.3 65.3h.1M431.0 66.3h.1M431.6 73.1h.1M432.2 71.6h.1M432.8 72.1h.1M433.4 73.4h.1M434.1 76.0h.1M434.7 77.0h.1M435.4 69.2h.1M436.0 76.1h.1M436.6 79.9h.1M437.2 85.3h.1M437.9 89.4h.1M438.5 80.3h.1M439.1 95.0h.1M439.8 87.4h.1M440.4 90.6h.1M441.0 86.6h.1M441.6 87.1h.1M442.3 98.1h.1M442.9 90.5h.1M443.5 91.9h.1M444.1 98.9h.1M444.7 102.5h.1M445.4 86.6h.1M446.0 93.1h.1M446.6 93.9h.1M447.3 102.9h.1M447.9 106.1h.1M448.5 93.4h.1M449.1 95.4h.1M449.8 97.8h.1M450.4 98.9h.1M451.0 91.0h.1M451.6 96.3h.1M452.3 88.0h.1M452.9 78.1h.1M418.5 96.4h.1M419.2 97.0h.1M419.8 95.3h.1M420.5 88.7h.1M421.1 86.6h.1M421.8 86.2h.1M422.4 77.7h.1M423.0 81.3h.1M423.6 79.8h.1M424.3 69.4h.1M424.9 74.0h.1M425.6 69.6h.1M426.2 70.7h.1M426.8 65.9h.1M427.5 63.5h.1M428.1 63.7h.1M428.7 66.9h.1M429.3 66.1h.1M430.0 66.9h.1M430.6 64.1h.1M431.3 71.2h.1M431.9 71.3h.1M432.5 78.5h.1M433.1 74.0h.1M433.7 75.0h.1M434.4 74.4h.1M435.0 80.7h.1M435.7 78.5h.1M436.3 77.7h.1M436.9 88.7h.1M437.5 90.8h.1M438.2 82.3h.1M438.8 80.8h.1M439.4 92.2h.1M440.1 83.8h.1M440.7 103.3h.1M441.3 89.4h.1M441.9 95.7h.1M442.6 85.1h.1M443.2 92.2h.1M443.8 98.6h.1M444.4 96.1h.1M445.0 91.8h.1M445.7 106.8h.1M446.3 98.1h.1M446.9 93.1h.1M447.6 91.1h.1M448.2 92.7h.1M448.8 100.7h.1M449.4 90.0h.1M450.1 93.9h.1M450.7 89.1h.1M451.3 98.9h.1M451.9 91.3h.1M452.6 96.1h.1M453.2 94.6h.1M432.4 70.5h.1M433.0 76.1h.1M433.6 78.3h.1M434.2 72.3h.1M434.9 80.4h.1M435.5 92.9h.1M436.1 79.1h.1M436.8 84.3h.1M437.4 77.0h.1M438.0 86.2h.1M438.7 82.6h.1M439.3 90.2h.1M439.9 87.5h.1M440.5 83.0h.1M441.1 95.5h.1M441.8 89.6h.1M442.4 86.4h.1M443.1 92.6h.1M443.7 88.1h.1M444.3 95.7h.1M444.9 94.1h.1M445.5 92.6h.1M446.2 97.8h.1M446.8 87.9h.1M447.4 99.1h.1M448.0 84.0h.1M448.7 102.1h.1M449.3 94.8h.1M449.9 92.5h.1M450.5 89.6h.1M451.1 95.6h.1M451.8 91.4h.1M452.4 90.9h.1M453.0 97.0h.1" stroke="#1414d4" stroke-width="1.1" stroke-linecap="round" stroke-opacity="0.6" fill="none"/>
<polyline points="279.7,73.4 281.6,73.3 283.4,73.1 285.1,73.0 286.8,72.8 288.4,72.7 289.9,72.5 291.4,72.4 292.8,72.3 294.2,72.2 295.6,72.1 296.9,72.0 298.2,71.9 299.4,71.8 300.6,71.7 301.8,71.6 303.0,71.5 304.1,71.4 305.2,71.3 306.2,71.2 307.3,71.1 308.3,71.0 309.3,70.9 310.3,70.8 311.2,70.8 312.1,70.7 313.0,70.6 313.9,70.6 314.8,70.5 315.7,70.5 316.5,70.4 317.3,70.4 318.1,70.3 318.9,70.3 319.7,70.2 320.5,70.2 321.2,70.2 322.0,70.2 322.7,70.1 323.4,70.1 324.1,70.1 324.8,70.1 325.5,70.0 326.2,70.0 326.9,70.0 327.5,70.0 328.2,70.0 328.8,70.0 329.4,70.0 330.1,70.0 330.7,70.1 331.3,70.1 332.4,70.2 333.6,70.2 334.7,70.3 335.8,70.4 336.9,70.6 337.9,70.7 338.9,70.8 339.9,71.0 340.9,70.9 341.8,71.2 342.8,71.5 343.7,71.8 344.6,71.5 345.5,71.8 346.3,72.4 347.2,73.0 348.0,73.3 348.8,74.0 349.6,73.2 350.4,72.9 351.2,73.3 351.9,73.5 352.7,73.3 353.4,72.9 354.1,73.3 354.8,73.3 355.5,72.8 356.2,72.7 356.9,73.5 357.5,72.2 358.2,72.9 358.8,72.6 359.5,73.1 360.1,72.7 360.7,72.2 361.3,73.0 361.9,72.3 362.8,73.2 363.7,73.1 364.6,72.6 365.4,73.0 366.2,73.0 367.0,72.8 367.8,73.7 368.6,73.7 369.4,74.1 370.1,74.3 370.9,74.7 371.6,74.7 372.3,74.5 373.0,74.8 373.7,75.1 374.4,75.1 375.1,75.2 375.7,76.1 376.4,75.9 377.0,76.5 377.6,75.8 378.3,76.2 378.9,76.2 379.5,76.4 380.1,76.6 380.9,76.9 381.7,77.0 382.4,78.0 383.2,77.8 383.9,77.5 384.6,77.8 385.3,78.4 386.0,78.5 386.7,78.2 387.4,78.9 388.1,78.2 388.7,78.7 389.4,79.6 390.0,78.2 390.7,79.2 391.3,79.7 391.9,79.4 392.5,79.3 393.2,79.4 394.0,79.2 394.7,79.6 395.4,80.3 396.1,80.4 396.8,80.8 397.5,81.1 398.1,81.5 398.8,81.1 399.4,81.9 400.1,82.1 400.7,82.6 401.3,82.8 401.9,82.8 402.5,84.1 403.2,84.7 403.9,85.7 404.6,85.6 405.3,86.6 406.0,87.2 406.6,87.7 407.3,88.9 407.9,89.2 408.6,90.6 409.2,91.3 409.8,91.8 410.4,93.4 411.1,94.4 411.8,95.4 412.5,96.8 413.1,98.3 413.8,98.8 414.4,99.0 415.1,99.6 415.7,100.4 416.3,100.1 416.9,98.9 417.5,99.3 418.2,98.2 418.9,97.8 419.5,95.6 420.2,92.7 420.8,90.4 421.5,87.3 422.1,84.3 422.7,81.5 423.3,79.1 424.0,76.6 424.6,73.2 425.3,71.2 425.9,68.5 426.5,66.1 427.2,65.9 427.8,63.0 428.4,65.8 429.0,64.3 429.7,64.5 430.3,68.5 431.0,66.2 431.6,68.0 432.2,71.2 432.8,73.0 433.4,73.7 434.1,71.4 434.7,74.0 435.4,79.4 436.0,80.8 436.6,78.3 437.2,82.6 437.9,83.7 438.5,87.2 439.1,83.5 439.8,91.0 440.4,87.0 441.0,93.3 441.6,92.6 442.3,87.6 442.9,90.5 443.5,93.0 444.1,95.9 444.7,89.4 445.4,92.3 446.0,95.6 446.6,95.1 447.3,90.4 447.9,90.8 448.5,94.6 449.1,90.2 449.8,93.8 450.4,95.5 451.0,92.3 451.6,83.7 452.3,94.7 452.9,94.5" stroke="#1414d4" stroke-width="0.95" fill="none" stroke-linejoin="round"/>
<polyline points="337.9,70.7 338.9,70.8 339.9,71.0 340.9,70.9 341.8,71.2 342.8,71.5 343.7,71.8 344.6,71.5 345.5,71.8 346.3,72.4 347.2,73.0 348.0,73.3 348.8,74.0 349.6,73.2 350.4,72.9 351.2,73.3 351.9,73.5 352.7,73.3 353.4,72.9 354.1,73.3 354.8,73.3 355.5,72.8 356.2,72.7 356.9,73.5 357.5,72.2 358.2,72.9 358.8,72.6 359.5,73.1 360.1,72.7 360.7,72.2 361.3,73.0 361.9,72.3 362.8,73.2 363.7,73.1 364.6,72.6 365.4,73.0 366.2,73.0 367.0,72.8 367.8,73.7 368.6,73.7 369.4,74.1 370.1,74.3 370.9,74.7 371.6,74.7 372.3,74.5 373.0,74.8 373.7,75.1 374.4,75.1 375.1,75.2 375.7,76.1 376.4,75.9 377.0,76.5 377.6,75.8 378.3,76.2 378.9,76.2 379.5,76.4 380.1,76.6 380.9,76.9 381.7,77.0 382.4,78.0 383.2,77.8 383.9,77.5 384.6,77.8 385.3,78.4 386.0,78.5 386.7,78.2 387.4,78.9 388.1,78.2 388.7,78.7 389.4,79.6 390.0,78.2 390.7,79.2 391.3,79.7 391.9,79.4 392.5,79.3 393.2,79.4 394.0,79.2 394.7,79.6 395.4,80.3 396.1,80.4 396.8,80.8 397.5,81.1 398.1,81.5 398.8,81.1 399.4,81.9 400.1,82.1 400.7,82.6 401.3,82.8 401.9,82.8 402.5,84.1 403.2,84.7 403.9,85.7 404.6,85.6 405.3,86.6 406.0,87.2 406.6,87.7 407.3,88.9 407.9,89.2 408.6,90.6 409.2,91.3 409.8,91.8 410.4,93.4 411.1,94.4 411.8,95.4 412.5,96.8 413.1,98.3 413.8,98.8 414.4,99.0 415.1,99.6 415.7,100.4 416.3,100.1 416.9,98.9 417.5,99.3 418.2,98.2 418.9,97.8 419.5,95.6 420.2,92.7 420.8,90.4 421.5,87.3 422.1,84.3 422.7,81.5 423.3,79.1 424.0,76.6 424.6,73.2 425.3,71.2 425.9,68.5 426.5,66.1 427.2,65.9 427.8,63.0 428.4,65.8 429.0,64.3 429.7,64.5 430.3,68.5 431.0,66.2 431.6,68.0 432.2,71.2 432.8,73.0 433.4,73.7 434.1,71.4 434.7,74.0 435.4,79.4 436.0,80.8 436.6,78.3 437.2,82.6 437.9,83.7 438.5,87.2 439.1,83.5 439.8,91.0 440.4,87.0 441.0,93.3 441.6,92.6 442.3,87.6 442.9,90.5 443.5,93.0 444.1,95.9 444.7,89.4 445.4,92.3 446.0,95.6 446.6,95.1 447.3,90.4 447.9,90.8 448.5,94.6 449.1,90.2 449.8,93.8 450.4,95.5 451.0,92.3 451.6,83.7 452.3,94.7 452.9,94.5" stroke="#1414d4" stroke-width="1.35" fill="none" stroke-linejoin="round"/>
<path d="M279.7 103.3h.1M281.6 103.2h.1M283.4 94.7h.1M285.1 101.5h.1M286.8 89.4h.1M288.4 89.1h.1M289.9 99.8h.1M291.4 100.0h.1M292.8 109.0h.1M294.2 104.3h.1M295.6 106.4h.1M296.9 98.7h.1M298.2 102.4h.1M299.4 105.8h.1M300.6 102.4h.1M301.8 101.4h.1M303.0 100.0h.1M304.1 94.9h.1M305.2 94.9h.1M306.2 92.3h.1M307.3 100.9h.1M308.3 97.6h.1M309.3 95.6h.1M310.3 100.2h.1M311.2 95.9h.1M312.1 103.1h.1M313.0 106.8h.1M313.9 100.3h.1M314.8 95.2h.1M315.7 91.7h.1M316.5 106.6h.1M317.3 99.9h.1M318.1 92.9h.1M318.9 102.3h.1M319.7 90.8h.1M320.5 95.9h.1M321.2 96.8h.1M322.0 96.3h.1M322.7 93.2h.1M323.4 107.3h.1M324.1 96.3h.1M324.8 99.3h.1M325.5 98.0h.1M326.2 92.0h.1M326.9 96.0h.1M327.5 98.7h.1M328.2 101.2h.1M328.8 96.8h.1M329.4 99.2h.1M330.1 97.0h.1M330.7 100.0h.1M331.3 90.6h.1M332.4 100.1h.1M333.6 96.7h.1M334.7 97.0h.1M335.8 91.4h.1M336.9 96.2h.1M337.9 100.4h.1M338.9 104.1h.1M339.9 97.7h.1M340.9 97.9h.1M341.8 100.2h.1M342.8 99.8h.1M343.7 98.4h.1M344.6 99.1h.1M345.5 98.6h.1M346.3 99.5h.1M347.2 99.3h.1M348.0 99.9h.1M348.8 98.4h.1M349.6 97.7h.1M350.4 96.8h.1M351.2 97.2h.1M351.9 94.9h.1M352.7 97.7h.1M353.4 95.5h.1M354.1 96.2h.1M354.8 93.7h.1M355.5 95.4h.1M356.2 94.6h.1M356.9 93.9h.1M357.5 93.3h.1M358.2 93.0h.1M358.8 95.9h.1M359.5 95.5h.1M360.1 94.5h.1M360.7 94.7h.1M361.3 93.9h.1M361.9 92.9h.1M362.8 93.1h.1M363.7 94.6h.1M364.6 95.2h.1M365.4 94.3h.1M366.2 96.3h.1M367.0 96.0h.1M367.8 95.6h.1M368.6 93.5h.1M369.4 95.1h.1M370.1 95.3h.1M370.9 94.0h.1M371.6 93.0h.1M372.3 97.3h.1M373.0 95.9h.1M373.7 94.8h.1M374.4 96.9h.1M375.1 96.4h.1M375.7 95.7h.1M376.4 95.4h.1M377.0 96.0h.1M377.6 96.8h.1M378.3 95.3h.1M378.9 94.9h.1M379.5 95.8h.1M380.1 92.1h.1M380.9 95.3h.1M381.7 94.8h.1M382.4 95.2h.1M383.2 95.0h.1M383.9 95.6h.1M384.6 95.3h.1M385.3 95.3h.1M386.0 95.0h.1M386.7 95.6h.1M387.4 94.5h.1M388.1 96.1h.1M388.7 93.1h.1M389.4 95.1h.1M390.0 95.4h.1M390.7 93.4h.1M391.3 94.3h.1M391.9 96.2h.1M392.5 94.5h.1M393.2 93.6h.1M394.0 91.2h.1M394.7 94.9h.1M395.4 94.7h.1M396.1 95.3h.1M396.8 97.1h.1M397.5 94.8h.1M398.1 95.1h.1M398.8 94.2h.1M399.4 95.0h.1M400.1 95.2h.1M400.7 96.2h.1M401.3 96.0h.1M401.9 94.6h.1M402.5 95.0h.1M403.2 97.2h.1M403.9 94.6h.1M404.6 96.7h.1M405.3 97.7h.1M406.0 96.2h.1M406.6 95.5h.1M407.3 96.5h.1M407.9 95.1h.1M408.6 94.4h.1M409.2 93.9h.1M409.8 95.2h.1M410.4 94.1h.1M411.1 94.1h.1M411.8 91.0h.1M412.5 89.6h.1M413.1 88.0h.1M413.8 87.3h.1M414.4 84.7h.1M415.1 85.1h.1M415.7 82.4h.1M416.3 78.9h.1M416.9 74.5h.1M417.5 74.0h.1M418.2 75.5h.1M418.9 70.4h.1M419.5 67.5h.1M420.2 63.6h.1M420.8 61.5h.1M421.5 57.8h.1M422.1 58.7h.1M422.7 60.3h.1M423.3 64.8h.1M424.0 68.2h.1M424.6 70.1h.1M425.3 70.9h.1M425.9 70.0h.1M426.5 75.7h.1M427.2 74.9h.1M427.8 76.8h.1M428.4 77.8h.1M429.0 77.9h.1M429.7 78.3h.1M430.3 79.6h.1M431.0 78.7h.1M431.6 83.6h.1M432.2 83.5h.1M432.8 87.7h.1M433.4 80.7h.1M434.1 90.2h.1M434.7 87.5h.1M435.4 88.2h.1M436.0 87.2h.1M436.6 87.7h.1M437.2 86.0h.1M437.9 93.7h.1M438.5 89.6h.1M439.1 91.4h.1M439.8 90.8h.1M440.4 85.8h.1M441.0 85.6h.1M441.6 84.1h.1M442.3 87.0h.1M442.9 83.1h.1M443.5 82.1h.1M444.1 82.6h.1M444.7 79.0h.1M445.4 84.1h.1M446.0 73.9h.1M446.6 79.1h.1M447.3 78.3h.1M447.9 69.4h.1M448.5 74.1h.1M449.1 70.9h.1M449.8 70.9h.1M450.4 62.9h.1M451.0 65.5h.1M451.6 60.0h.1M452.3 60.1h.1M452.9 65.3h.1M418.5 72.1h.1M419.2 66.1h.1M419.8 63.9h.1M420.5 61.0h.1M421.1 61.8h.1M421.8 60.3h.1M422.4 60.0h.1M423.0 65.6h.1M423.6 66.1h.1M424.3 68.6h.1M424.9 68.7h.1M425.6 74.7h.1M426.2 73.0h.1M426.8 70.5h.1M427.5 73.7h.1M428.1 75.6h.1M428.7 78.1h.1M429.3 81.3h.1M430.0 78.7h.1M430.6 80.0h.1M431.3 88.2h.1M431.9 83.7h.1M432.5 83.0h.1M433.1 85.4h.1M433.7 82.7h.1M434.4 88.8h.1M435.0 91.1h.1M435.7 87.4h.1M436.3 92.9h.1M436.9 89.5h.1M437.5 91.6h.1M438.2 88.6h.1M438.8 87.4h.1M439.4 84.3h.1M440.1 88.5h.1M440.7 86.0h.1M441.3 85.0h.1M441.9 81.2h.1M442.6 79.8h.1M443.2 80.3h.1M443.8 82.4h.1M444.4 80.7h.1M445.0 76.7h.1M445.7 78.2h.1M446.3 81.3h.1M446.9 75.1h.1M447.6 79.5h.1M448.2 73.5h.1M448.8 74.9h.1M449.4 67.6h.1M450.1 70.9h.1M450.7 62.1h.1M451.3 64.6h.1M451.9 61.1h.1M452.6 55.0h.1M453.2 56.9h.1M432.4 87.2h.1M433.0 86.5h.1M433.6 89.7h.1M434.2 87.6h.1M434.9 79.4h.1M435.5 89.7h.1M436.1 88.1h.1M436.8 88.7h.1M437.4 89.3h.1M438.0 88.8h.1M438.7 87.2h.1M439.3 92.8h.1M439.9 89.4h.1M440.5 85.1h.1M441.1 84.8h.1M441.8 87.7h.1M442.4 84.8h.1M443.1 83.0h.1M443.7 77.6h.1M444.3 78.8h.1M444.9 75.6h.1M445.5 71.9h.1M446.2 79.0h.1M446.8 74.1h.1M447.4 72.5h.1M448.0 69.6h.1M448.7 73.4h.1M449.3 75.9h.1M449.9 69.6h.1M450.5 68.9h.1M451.1 60.6h.1M451.8 63.0h.1M452.4 61.6h.1M453.0 65.4h.1" stroke="#e01c24" stroke-width="1.1" stroke-linecap="round" stroke-opacity="0.6" fill="none"/>
<polyline points="279.7,102.7 281.6,102.6 283.4,102.4 285.1,102.3 286.8,102.1 288.4,101.9 289.9,101.7 291.4,101.5 292.8,101.3 294.2,101.1 295.6,100.8 296.9,100.6 298.2,100.4 299.4,100.2 300.6,100.1 301.8,99.9 303.0,99.7 304.1,99.6 305.2,99.4 306.2,99.3 307.3,99.2 308.3,99.0 309.3,98.9 310.3,98.8 311.2,98.7 312.1,98.6 313.0,98.5 313.9,98.4 314.8,98.3 315.7,98.2 316.5,98.2 317.3,98.1 318.1,98.0 318.9,98.0 319.7,98.0 320.5,97.9 321.2,97.9 322.0,97.9 322.7,97.9 323.4,97.9 324.1,97.9 324.8,98.0 325.5,98.0 326.2,98.0 326.9,98.0 327.5,98.0 328.2,98.1 328.8,98.1 329.4,98.1 330.1,98.2 330.7,98.2 331.3,98.3 332.4,98.4 333.6,98.5 334.7,98.6 335.8,98.7 336.9,98.8 337.9,98.9 338.9,99.0 339.9,99.1 340.9,99.0 341.8,99.0 342.8,99.4 343.7,99.6 344.6,99.4 345.5,99.3 346.3,98.5 347.2,98.1 348.0,98.0 348.8,97.6 349.6,97.6 350.4,97.2 351.2,95.6 351.9,96.2 352.7,95.3 353.4,94.5 354.1,95.0 354.8,94.5 355.5,94.2 356.2,93.8 356.9,93.8 357.5,93.9 358.2,93.5 358.8,94.1 359.5,94.3 360.1,94.3 360.7,94.6 361.3,94.6 361.9,94.4 362.8,94.6 363.7,95.2 364.6,95.7 365.4,95.5 366.2,95.3 367.0,95.5 367.8,94.8 368.6,95.0 369.4,95.2 370.1,95.3 370.9,95.2 371.6,95.2 372.3,94.9 373.0,95.1 373.7,95.3 374.4,94.6 375.1,94.8 375.7,95.1 376.4,95.7 377.0,95.4 377.6,95.7 378.3,95.7 378.9,95.0 379.5,95.2 380.1,94.8 380.9,95.6 381.7,95.5 382.4,95.4 383.2,95.4 383.9,95.4 384.6,95.3 385.3,95.3 386.0,95.6 386.7,94.8 387.4,94.7 388.1,95.0 388.7,95.3 389.4,95.0 390.0,94.8 390.7,95.1 391.3,94.8 391.9,94.1 392.5,94.3 393.2,93.9 394.0,94.5 394.7,94.4 395.4,94.7 396.1,95.4 396.8,94.5 397.5,94.8 398.1,94.8 398.8,94.1 399.4,94.9 400.1,95.0 400.7,95.4 401.3,95.1 401.9,95.0 402.5,95.8 403.2,95.6 403.9,95.4 404.6,95.6 405.3,95.6 406.0,95.8 406.6,95.7 407.3,94.5 407.9,95.1 408.6,94.4 409.2,94.3 409.8,94.2 410.4,92.9 411.1,92.6 411.8,90.9 412.5,89.8 413.1,88.2 413.8,87.6 414.4,86.1 415.1,84.2 415.7,82.2 416.3,79.8 416.9,78.7 417.5,76.6 418.2,73.9 418.9,70.5 419.5,67.2 420.2,64.1 420.8,61.8 421.5,60.7 422.1,62.0 422.7,63.8 423.3,65.1 424.0,67.6 424.6,69.3 425.3,71.2 425.9,73.1 426.5,74.3 427.2,76.0 427.8,76.2 428.4,76.0 429.0,81.2 429.7,79.5 430.3,80.0 431.0,83.4 431.6,81.7 432.2,81.8 432.8,84.0 433.4,85.8 434.1,87.3 434.7,88.7 435.4,90.5 436.0,89.5 436.6,90.9 437.2,90.4 437.9,89.8 438.5,91.1 439.1,90.0 439.8,91.7 440.4,88.4 441.0,85.1 441.6,86.3 442.3,83.5 442.9,85.6 443.5,78.6 444.1,79.3 444.7,78.2 445.4,78.3 446.0,76.5 446.6,72.6 447.3,70.9 447.9,73.3 448.5,74.2 449.1,72.7 449.8,67.7 450.4,67.4 451.0,63.3 451.6,60.5 452.3,63.6 452.9,62.3" stroke="#e01c24" stroke-width="0.95" fill="none" stroke-linejoin="round"/>
<polyline points="337.9,98.9 338.9,99.0 339.9,99.1 340.9,99.0 341.8,99.0 342.8,99.4 343.7,99.6 344.6,99.4 345.5,99.3 346.3,98.5 347.2,98.1 348.0,98.0 348.8,97.6 349.6,97.6 350.4,97.2 351.2,95.6 351.9,96.2 352.7,95.3 353.4,94.5 354.1,95.0 354.8,94.5 355.5,94.2 356.2,93.8 356.9,93.8 357.5,93.9 358.2,93.5 358.8,94.1 359.5,94.3 360.1,94.3 360.7,94.6 361.3,94.6 361.9,94.4 362.8,94.6 363.7,95.2 364.6,95.7 365.4,95.5 366.2,95.3 367.0,95.5 367.8,94.8 368.6,95.0 369.4,95.2 370.1,95.3 370.9,95.2 371.6,95.2 372.3,94.9 373.0,95.1 373.7,95.3 374.4,94.6 375.1,94.8 375.7,95.1 376.4,95.7 377.0,95.4 377.6,95.7 378.3,95.7 378.9,95.0 379.5,95.2 380.1,94.8 380.9,95.6 381.7,95.5 382.4,95.4 383.2,95.4 383.9,95.4 384.6,95.3 385.3,95.3 386.0,95.6 386.7,94.8 387.4,94.7 388.1,95.0 388.7,95.3 389.4,95.0 390.0,94.8 390.7,95.1 391.3,94.8 391.9,94.1 392.5,94.3 393.2,93.9 394.0,94.5 394.7,94.4 395.4,94.7 396.1,95.4 396.8,94.5 397.5,94.8 398.1,94.8 398.8,94.1 399.4,94.9 400.1,95.0 400.7,95.4 401.3,95.1 401.9,95.0 402.5,95.8 403.2,95.6 403.9,95.4 404.6,95.6 405.3,95.6 406.0,95.8 406.6,95.7 407.3,94.5 407.9,95.1 408.6,94.4 409.2,94.3 409.8,94.2 410.4,92.9 411.1,92.6 411.8,90.9 412.5,89.8 413.1,88.2 413.8,87.6 414.4,86.1 415.1,84.2 415.7,82.2 416.3,79.8 416.9,78.7 417.5,76.6 418.2,73.9 418.9,70.5 419.5,67.2 420.2,64.1 420.8,61.8 421.5,60.7 422.1,62.0 422.7,63.8 423.3,65.1 424.0,67.6 424.6,69.3 425.3,71.2 425.9,73.1 426.5,74.3 427.2,76.0 427.8,76.2 428.4,76.0 429.0,81.2 429.7,79.5 430.3,80.0 431.0,83.4 431.6,81.7 432.2,81.8 432.8,84.0 433.4,85.8 434.1,87.3 434.7,88.7 435.4,90.5 436.0,89.5 436.6,90.9 437.2,90.4 437.9,89.8 438.5,91.1 439.1,90.0 439.8,91.7 440.4,88.4 441.0,85.1 441.6,86.3 442.3,83.5 442.9,85.6 443.5,78.6 444.1,79.3 444.7,78.2 445.4,78.3 446.0,76.5 446.6,72.6 447.3,70.9 447.9,73.3 448.5,74.2 449.1,72.7 449.8,67.7 450.4,67.4 451.0,63.3 451.6,60.5 452.3,63.6 452.9,62.3" stroke="#e01c24" stroke-width="1.35" fill="none" stroke-linejoin="round"/>
</g>
<line x1="281" y1="69.2" x2="452.3" y2="69.2" stroke="#555" stroke-width="0.8" stroke-dasharray="1,1"/>
<rect x="280.8" y="12.0" width="171.5" height="171.5" fill="none" stroke="#8c8c8c" stroke-width="1.2"/>
<path d="M280.8 12.0h3M452.3 12.0h-3M280.8 17.7h2M452.3 17.7h-2M280.8 23.4h2M452.3 23.4h-2M280.8 29.2h2M452.3 29.2h-2M280.8 34.9h2M452.3 34.9h-2M280.8 40.6h3M452.3 40.6h-3M280.8 46.3h2M452.3 46.3h-2M280.8 52.0h2M452.3 52.0h-2M280.8 57.7h2M452.3 57.7h-2M280.8 63.4h2M452.3 63.4h-2M280.8 69.2h3M452.3 69.2h-3M280.8 74.9h2M452.3 74.9h-2M280.8 80.6h2M452.3 80.6h-2M280.8 86.3h2M452.3 86.3h-2M280.8 92.0h2M452.3 92.0h-2M280.8 97.8h3M452.3 97.8h-3M280.8 103.5h2M452.3 103.5h-2M280.8 109.2h2M452.3 109.2h-2M280.8 114.9h2M452.3 114.9h-2M280.8 120.6h2M452.3 120.6h-2M280.8 126.3h3M452.3 126.3h-3M280.8 132.1h2M452.3 132.1h-2M280.8 137.8h2M452.3 137.8h-2M280.8 143.5h2M452.3 143.5h-2M280.8 149.2h2M452.3 149.2h-2M280.8 154.9h3M452.3 154.9h-3M280.8 160.6h2M452.3 160.6h-2M280.8 166.4h2M452.3 166.4h-2M280.8 172.1h2M452.3 172.1h-2M280.8 177.8h2M452.3 177.8h-2M280.8 183.5h3M452.3 183.5h-3M294.0 183.5v-2M294.0 12.0v2M303.9 183.5v-2M303.9 12.0v2M311.9 183.5v-2M311.9 12.0v2M318.8 183.5v-2M318.8 12.0v2M324.7 183.5v-2M324.7 12.0v2M329.9 183.5v-2M329.9 12.0v2M334.6 183.5v-3M334.6 12.0v3M365.3 183.5v-2M365.3 12.0v2M383.3 183.5v-2M383.3 12.0v2M396.1 183.5v-2M396.1 12.0v2M406.0 183.5v-2M406.0 12.0v2M414.0 183.5v-2M414.0 12.0v2M420.9 183.5v-2M420.9 12.0v2M426.8 183.5v-2M426.8 12.0v2M432.0 183.5v-2M432.0 12.0v2M436.7 183.5v-3M436.7 12.0v3" stroke="#333" stroke-width="0.9" fill="none"/>
<text x="277.0" y="14.7" font-size="9.4" text-anchor="end" font-family="&quot;Liberation Sans&quot;, sans-serif" fill="#111">0.2</text>
<text x="277.0" y="43.3" font-size="9.4" text-anchor="end" font-family="&quot;Liberation Sans&quot;, sans-serif" fill="#111">0.1</text>
<text x="277.0" y="71.9" font-size="9.4" text-anchor="end" font-family="&quot;Liberation Sans&quot;, sans-serif" fill="#111">0</text>
<text x="277.0" y="100.5" font-size="9.4" text-anchor="end" font-family="&quot;Liberation Sans&quot;, sans-serif" fill="#111">-0.1</text>
<text x="277.0" y="129.0" font-size="9.4" text-anchor="end" font-family="&quot;Liberation Sans&quot;, sans-serif" fill="#111">-0.2</text>
<text x="277.0" y="157.6" font-size="9.4" text-anchor="end" font-family="&quot;Liberation Sans&quot;, sans-serif" fill="#111">-0.3</text>
<text x="277.0" y="186.2" font-size="9.4" text-anchor="end" font-family="&quot;Liberation Sans&quot;, sans-serif" fill="#111">-0.4</text>
<text x="334.6" y="196.5" font-size="9.4" text-anchor="middle" font-family="&quot;Liberation Sans&quot;, sans-serif" fill="#111">1</text>
<text x="436.7" y="196.5" font-size="9.4" text-anchor="middle" font-family="&quot;Liberation Sans&quot;, sans-serif" fill="#111">10</text>
<text x="367.8" y="209.5" font-size="11.9" text-anchor="middle" font-family="&quot;Liberation Sans&quot;, sans-serif" fill="#111" textLength="83" lengthAdjust="spacingAndGlyphs">Frequency, GHz</text>
<text x="307.8" y="32.3" font-size="21.5" font-family="&quot;Liberation Sans&quot;, sans-serif" fill="#000">HTC</text>
<defs><clipPath id="cGC"><rect x="512.3" y="11.4" width="171.70000000000005" height="171.2"/></clipPath></defs>
<g clip-path="url(#cGC)">
<path d="M511.0 91.5v49.7m-1 0h2m-2 -49.7h2M512.9 92.2v43.6m-1 0h2m-2 -43.6h2M514.7 102.8v43.0m-1 0h2m-2 -43.0h2M516.4 81.2v70.2m-1 0h2m-2 -70.2h2M518.1 79.9v56.0m-1 0h2m-2 -56.0h2M519.7 84.8v53.8m-1 0h2m-2 -53.8h2M521.3 73.0v68.6m-1 0h2m-2 -68.6h2M522.8 69.8v65.0m-1 0h2m-2 -65.0h2M524.2 69.9v56.8m-1 0h2m-2 -56.8h2M525.6 79.5v64.0m-1 0h2m-2 -64.0h2M527.0 73.6v49.3m-1 0h2m-2 -49.3h2M528.3 63.7v55.0m-1 0h2m-2 -55.0h2M529.6 82.3v66.1m-1 0h2m-2 -66.1h2M530.9 91.8v35.4m-1 0h2m-2 -35.4h2M532.1 76.1v52.6m-1 0h2m-2 -52.6h2M533.3 71.2v50.9m-1 0h2m-2 -50.9h2M534.4 73.9v47.8m-1 0h2m-2 -47.8h2M535.5 56.3v55.2m-1 0h2m-2 -55.2h2M536.6 62.8v62.9m-1 0h2m-2 -62.9h2M537.7 63.4v64.5m-1 0h2m-2 -64.5h2M538.8 58.5v65.3m-1 0h2m-2 -65.3h2M539.8 66.0v58.3m-1 0h2m-2 -58.3h2M540.8 69.3v32.3m-1 0h2m-2 -32.3h2M541.8 70.8v41.7m-1 0h2m-2 -41.7h2M542.7 48.9v58.8m-1 0h2m-2 -58.8h2M543.7 70.9v35.7m-1 0h2m-2 -35.7h2M544.6 56.7v54.2m-1 0h2m-2 -54.2h2M545.5 62.7v30.9m-1 0h2m-2 -30.9h2M546.4 52.2v63.7m-1 0h2m-2 -63.7h2M547.2 68.3v36.2m-1 0h2m-2 -36.2h2M548.1 58.7v45.8m-1 0h2m-2 -45.8h2M548.9 74.6v33.0m-1 0h2m-2 -33.0h2M549.7 62.8v34.4m-1 0h2m-2 -34.4h2M550.5 67.6v44.4m-1 0h2m-2 -44.4h2M551.3 65.2v45.3m-1 0h2m-2 -45.3h2M552.1 51.0v56.4m-1 0h2m-2 -56.4h2M552.8 74.5v32.8m-1 0h2m-2 -32.8h2M553.6 46.6v54.7m-1 0h2m-2 -54.7h2M554.3 68.3v32.4m-1 0h2m-2 -32.4h2M555.1 63.0v36.8m-1 0h2m-2 -36.8h2M555.8 57.8v53.8m-1 0h2m-2 -53.8h2M556.5 52.2v39.0m-1 0h2m-2 -39.0h2M557.2 58.3v30.3m-1 0h2m-2 -30.3h2M557.8 57.3v35.6m-1 0h2m-2 -35.6h2M558.5 56.4v45.5m-1 0h2m-2 -45.5h2M559.2 56.1v45.9m-1 0h2m-2 -45.9h2M559.8 66.5v23.9m-1 0h2m-2 -23.9h2M560.5 59.6v34.3m-1 0h2m-2 -34.3h2M561.1 59.6v29.9m-1 0h2m-2 -29.9h2M561.7 60.5v21.6m-1 0h2m-2 -21.6h2M562.3 60.3v30.2m-1 0h2m-2 -30.2h2M562.9 66.4v25.9m-1 0h2m-2 -25.9h2M564.1 63.3v35.4m-1 0h2m-2 -35.4h2M565.3 65.5v17.7m-1 0h2m-2 -17.7h2M566.4 66.8v26.8m-1 0h2m-2 -26.8h2M567.5 59.0v23.6m-1 0h2m-2 -23.6h2M568.6 66.0v24.5m-1 0h2m-2 -24.5h2M569.6 59.7v23.9m-1 0h2m-2 -23.9h2M570.7 59.0v33.8m-1 0h2m-2 -33.8h2M571.7 58.5v27.1m-1 0h2m-2 -27.1h2M572.6 61.7v20.7m-1 0h2m-2 -20.7h2M573.6 63.7v19.1m-1 0h2m-2 -19.1h2M574.5 68.7v20.2m-1 0h2m-2 -20.2h2M575.5 59.2v27.6m-1 0h2m-2 -27.6h2M576.4 65.7v21.3m-1 0h2m-2 -21.3h2M577.2 62.1v26.0m-1 0h2m-2 -26.0h2M578.1 68.4v14.0m-1 0h2m-2 -14.0h2M579.0 66.4v17.9m-1 0h2m-2 -17.9h2M579.8 66.1v20.0m-1 0h2m-2 -20.0h2M580.6 61.5v20.5m-1 0h2m-2 -20.5h2M581.4 69.2v10.8m-1 0h2m-2 -10.8h2M582.2 68.0v14.4m-1 0h2m-2 -14.4h2M583.0 63.2v19.9m-1 0h2m-2 -19.9h2M583.7 66.8v16.4m-1 0h2m-2 -16.4h2M584.5 66.9v10.5m-1 0h2m-2 -10.5h2M585.2 68.8v13.6m-1 0h2m-2 -13.6h2M586.0 65.6v14.3m-1 0h2m-2 -14.3h2M586.7 69.3v8.4m-1 0h2m-2 -8.4h2M587.4 68.9v12.9m-1 0h2m-2 -12.9h2M588.1 69.2v13.2m-1 0h2m-2 -13.2h2M588.7 63.8v18.2m-1 0h2m-2 -18.2h2M589.4 66.1v13.2m-1 0h2m-2 -13.2h2M590.1 68.8v13.1m-1 0h2m-2 -13.1h2M590.7 65.2v8.3m-1 0h2m-2 -8.3h2M591.4 71.9v7.8m-1 0h2m-2 -7.8h2M592.0 69.8v11.8m-1 0h2m-2 -11.8h2M592.6 65.8v13.2m-1 0h2m-2 -13.2h2M593.2 71.0v9.1m-1 0h2m-2 -9.1h2M593.9 68.3v12.2m-1 0h2m-2 -12.2h2M594.7 70.8v7.6m-1 0h2m-2 -7.6h2M595.6 66.8v8.9m-1 0h2m-2 -8.9h2M596.5 68.0v10.8m-1 0h2m-2 -10.8h2M597.3 69.4v8.7m-1 0h2m-2 -8.7h2M598.2 68.7v9.6m-1 0h2m-2 -9.6h2M599.0 67.6v11.7m-1 0h2m-2 -11.7h2M599.8 69.8v7.4m-1 0h2m-2 -7.4h2M600.6 65.4v11.2m-1 0h2m-2 -11.2h2M601.3 66.8v13.6m-1 0h2m-2 -13.6h2M602.1 66.8v12.5m-1 0h2m-2 -12.5h2M602.8 69.2v8.9m-1 0h2m-2 -8.9h2M603.6 67.7v11.0m-1 0h2m-2 -11.0h2M604.3 70.2v6.8m-1 0h2m-2 -6.8h2M605.0 68.1v11.6m-1 0h2m-2 -11.6h2M605.7 69.4v11.8m-1 0h2m-2 -11.8h2M606.4 68.7v7.6m-1 0h2m-2 -7.6h2M607.1 70.5v8.9m-1 0h2m-2 -8.9h2M607.7 67.5v10.6m-1 0h2m-2 -10.6h2M608.4 66.5v11.0m-1 0h2m-2 -11.0h2M609.0 66.0v10.7m-1 0h2m-2 -10.7h2M609.7 67.7v11.7m-1 0h2m-2 -11.7h2M610.3 64.8v12.4m-1 0h2m-2 -12.4h2M610.9 68.6v9.5m-1 0h2m-2 -9.5h2M611.5 69.7v5.9m-1 0h2m-2 -5.9h2M612.2 65.7v12.0m-1 0h2m-2 -12.0h2M612.9 68.4v6.6m-1 0h2m-2 -6.6h2M613.7 68.2v9.9m-1 0h2m-2 -9.9h2M614.5 67.3v11.3m-1 0h2m-2 -11.3h2M615.2 67.7v12.0m-1 0h2m-2 -12.0h2M616.0 68.2v9.8m-1 0h2m-2 -9.8h2M616.7 67.4v10.6m-1 0h2m-2 -10.6h2M617.4 67.4v13.1m-1 0h2m-2 -13.1h2M618.1 66.5v11.6m-1 0h2m-2 -11.6h2M618.8 70.7v7.9m-1 0h2m-2 -7.9h2M619.5 67.5v12.8m-1 0h2m-2 -12.8h2M620.2 67.4v10.8m-1 0h2m-2 -10.8h2M620.9 69.1v8.0m-1 0h2m-2 -8.0h2M621.5 70.0v7.8m-1 0h2m-2 -7.8h2M622.2 67.9v9.0m-1 0h2m-2 -9.0h2M622.8 71.1v9.5m-1 0h2m-2 -9.5h2M623.4 69.5v12.0m-1 0h2m-2 -12.0h2M624.0 68.8v9.1m-1 0h2m-2 -9.1h2M624.6 69.0v11.0m-1 0h2m-2 -11.0h2M625.2 72.3v8.1m-1 0h2m-2 -8.1h2M626.0 70.0v9.1m-1 0h2m-2 -9.1h2M626.7 68.6v8.0m-1 0h2m-2 -8.0h2M627.4 66.7v8.5m-1 0h2m-2 -8.5h2M628.1 65.9v10.8m-1 0h2m-2 -10.8h2M628.8 71.0v7.3m-1 0h2m-2 -7.3h2M629.5 69.4v9.2m-1 0h2m-2 -9.2h2M630.2 67.0v11.0m-1 0h2m-2 -11.0h2M630.9 72.2v5.6m-1 0h2m-2 -5.6h2M631.5 69.8v8.6m-1 0h2m-2 -8.6h2M632.2 68.5v11.2m-1 0h2m-2 -11.2h2M632.8 69.5v10.3m-1 0h2m-2 -10.3h2M633.4 69.4v11.5m-1 0h2m-2 -11.5h2M634.0 74.3v7.4m-1 0h2m-2 -7.4h2M634.6 70.4v10.0m-1 0h2m-2 -10.0h2M635.2 72.6v7.7m-1 0h2m-2 -7.7h2M636.0 75.9v6.1m-1 0h2m-2 -6.1h2M636.7 74.0v11.2m-1 0h2m-2 -11.2h2M637.3 73.4v7.6m-1 0h2m-2 -7.6h2M638.0 75.8v10.8m-1 0h2m-2 -10.8h2M638.7 75.0v11.0m-1 0h2m-2 -11.0h2M639.3 72.4v11.3m-1 0h2m-2 -11.3h2M640.0 78.4v7.5m-1 0h2m-2 -7.5h2M640.6 73.3v11.2m-1 0h2m-2 -11.2h2M641.3 78.3v7.2m-1 0h2m-2 -7.2h2M641.9 75.3v10.3m-1 0h2m-2 -10.3h2M642.5 77.6v5.6m-1 0h2m-2 -5.6h2M643.1 78.4v11.5m-1 0h2m-2 -11.5h2M643.8 81.5v6.2m-1 0h2m-2 -6.2h2M644.5 79.6v11.3m-1 0h2m-2 -11.3h2M645.2 81.7v10.7m-1 0h2m-2 -10.7h2M645.8 85.1v6.4m-1 0h2m-2 -6.4h2M646.5 84.2v10.6m-1 0h2m-2 -10.6h2M647.1 83.3v11.7m-1 0h2m-2 -11.7h2M647.8 83.6v12.7m-1 0h2m-2 -12.7h2M648.4 80.7v14.2m-1 0h2m-2 -14.2h2M649.0 81.9v8.2m-1 0h2m-2 -8.2h2M649.6 79.6v9.9m-1 0h2m-2 -9.9h2M650.2 79.1v9.5m-1 0h2m-2 -9.5h2M650.9 74.8v12.1m-1 0h2m-2 -12.1h2M651.6 75.6v8.1m-1 0h2m-2 -8.1h2M652.2 69.8v11.5m-1 0h2m-2 -11.5h2M652.9 71.5v8.7m-1 0h2m-2 -8.7h2M653.5 64.6v8.6m-1 0h2m-2 -8.6h2M654.1 59.8v13.6m-1 0h2m-2 -13.6h2M654.8 60.8v11.8m-1 0h2m-2 -11.8h2M655.4 63.2v14.1m-1 0h2m-2 -14.1h2M656.0 64.9v13.1m-1 0h2m-2 -13.1h2M656.7 61.6v15.0m-1 0h2m-2 -15.0h2M657.3 65.8v11.6m-1 0h2m-2 -11.6h2M658.0 61.2v7.3m-1 0h2m-2 -7.3h2M658.6 55.9v17.5m-1 0h2m-2 -17.5h2M659.2 67.1v10.5m-1 0h2m-2 -10.5h2M659.9 56.6v18.0m-1 0h2m-2 -18.0h2M660.5 66.8v11.5m-1 0h2m-2 -11.5h2M661.1 65.1v16.1m-1 0h2m-2 -16.1h2M661.8 63.0v14.0m-1 0h2m-2 -14.0h2M662.4 63.3v20.1m-1 0h2m-2 -20.1h2M663.1 72.9v12.4m-1 0h2m-2 -12.4h2M663.7 67.2v12.9m-1 0h2m-2 -12.9h2M664.3 69.0v19.9m-1 0h2m-2 -19.9h2M664.9 70.5v27.3m-1 0h2m-2 -27.3h2M665.5 70.6v21.6m-1 0h2m-2 -21.6h2M666.1 76.7v16.0m-1 0h2m-2 -16.0h2M666.8 65.7v33.4m-1 0h2m-2 -33.4h2M667.4 75.2v17.8m-1 0h2m-2 -17.8h2M668.1 73.8v23.8m-1 0h2m-2 -23.8h2M668.7 72.7v31.7m-1 0h2m-2 -31.7h2M669.3 82.0v26.2m-1 0h2m-2 -26.2h2M669.9 74.4v39.6m-1 0h2m-2 -39.6h2M670.5 89.9v33.7m-1 0h2m-2 -33.7h2M671.2 78.1v47.2m-1 0h2m-2 -47.2h2M671.8 89.4v26.8m-1 0h2m-2 -26.8h2M672.4 90.8v53.2m-1 0h2m-2 -53.2h2M673.1 77.4v58.6m-1 0h2m-2 -58.6h2M673.7 90.4v37.2m-1 0h2m-2 -37.2h2M674.3 103.2v38.1m-1 0h2m-2 -38.1h2M674.9 88.8v65.8m-1 0h2m-2 -65.8h2M675.6 113.6v48.4m-1 0h2m-2 -48.4h2M676.2 124.8v47.4m-1 0h2m-2 -47.4h2M676.8 120.3v54.8m-1 0h2m-2 -54.8h2M677.4 113.3v53.1m-1 0h2m-2 -53.1h2M678.0 106.0v63.5m-1 0h2m-2 -63.5h2M678.6 108.9v57.4m-1 0h2m-2 -57.4h2M679.3 109.0v58.5m-1 0h2m-2 -58.5h2M679.9 99.9v47.1m-1 0h2m-2 -47.1h2M680.5 95.4v50.2m-1 0h2m-2 -50.2h2M681.1 97.3v63.4m-1 0h2m-2 -63.4h2M681.7 88.0v63.4m-1 0h2m-2 -63.4h2M682.4 91.3v53.1m-1 0h2m-2 -53.1h2M683.0 90.3v52.0m-1 0h2m-2 -52.0h2M683.6 83.5v40.6m-1 0h2m-2 -40.6h2M684.2 83.5v47.2m-1 0h2m-2 -47.2h2M684.8 98.3v36.3m-1 0h2m-2 -36.3h2M685.5 83.0v47.5m-1 0h2m-2 -47.5h2" stroke="#b0b0f0" stroke-width="0.7" stroke-opacity="0.62" fill="none"/>
<path d="M511.0 57.4v65.2m-1 0h2m-2 -65.2h2M512.9 72.0v48.8m-1 0h2m-2 -48.8h2M514.7 61.2v40.6m-1 0h2m-2 -40.6h2M516.4 71.2v49.9m-1 0h2m-2 -49.9h2M518.1 53.6v36.4m-1 0h2m-2 -36.4h2M519.7 65.2v45.2m-1 0h2m-2 -45.2h2M521.3 61.2v39.2m-1 0h2m-2 -39.2h2M522.8 74.3v48.1m-1 0h2m-2 -48.1h2M524.2 63.5v33.7m-1 0h2m-2 -33.7h2M525.6 50.6v47.4m-1 0h2m-2 -47.4h2M527.0 63.8v52.8m-1 0h2m-2 -52.8h2M528.3 34.3v69.6m-1 0h2m-2 -69.6h2M529.6 46.9v69.6m-1 0h2m-2 -69.6h2M530.9 46.5v54.5m-1 0h2m-2 -54.5h2M532.1 64.3v45.3m-1 0h2m-2 -45.3h2M533.3 50.1v54.7m-1 0h2m-2 -54.7h2M534.4 53.4v59.2m-1 0h2m-2 -59.2h2M535.5 52.6v49.5m-1 0h2m-2 -49.5h2M536.6 55.3v31.4m-1 0h2m-2 -31.4h2M537.7 42.9v43.9m-1 0h2m-2 -43.9h2M538.8 67.6v39.1m-1 0h2m-2 -39.1h2M539.8 52.8v50.6m-1 0h2m-2 -50.6h2M540.8 49.5v41.7m-1 0h2m-2 -41.7h2M541.8 50.3v49.1m-1 0h2m-2 -49.1h2M542.7 70.7v22.0m-1 0h2m-2 -22.0h2M543.7 49.2v38.8m-1 0h2m-2 -38.8h2M544.6 75.4v25.1m-1 0h2m-2 -25.1h2M545.5 59.6v30.6m-1 0h2m-2 -30.6h2M546.4 54.9v38.7m-1 0h2m-2 -38.7h2M547.2 61.6v41.4m-1 0h2m-2 -41.4h2M548.1 65.5v22.7m-1 0h2m-2 -22.7h2M548.9 52.6v37.1m-1 0h2m-2 -37.1h2M549.7 70.0v20.0m-1 0h2m-2 -20.0h2M550.5 66.0v23.5m-1 0h2m-2 -23.5h2M551.3 70.0v21.3m-1 0h2m-2 -21.3h2M552.1 52.9v37.4m-1 0h2m-2 -37.4h2M552.8 61.6v18.2m-1 0h2m-2 -18.2h2M553.6 61.8v32.5m-1 0h2m-2 -32.5h2M554.3 60.5v26.3m-1 0h2m-2 -26.3h2M555.1 51.8v29.9m-1 0h2m-2 -29.9h2M555.8 64.7v16.8m-1 0h2m-2 -16.8h2M556.5 65.8v23.9m-1 0h2m-2 -23.9h2M557.2 59.9v25.3m-1 0h2m-2 -25.3h2M557.8 70.1v19.9m-1 0h2m-2 -19.9h2M558.5 60.3v26.4m-1 0h2m-2 -26.4h2M559.2 67.3v15.5m-1 0h2m-2 -15.5h2M559.8 62.2v15.2m-1 0h2m-2 -15.2h2M560.5 60.1v25.2m-1 0h2m-2 -25.2h2M561.1 65.9v18.0m-1 0h2m-2 -18.0h2M561.7 63.4v28.1m-1 0h2m-2 -28.1h2M562.3 64.9v22.6m-1 0h2m-2 -22.6h2M562.9 65.2v27.6m-1 0h2m-2 -27.6h2M564.1 56.4v26.2m-1 0h2m-2 -26.2h2M565.3 64.7v23.1m-1 0h2m-2 -23.1h2M566.4 62.7v26.7m-1 0h2m-2 -26.7h2M567.5 66.5v14.9m-1 0h2m-2 -14.9h2M568.6 67.2v19.0m-1 0h2m-2 -19.0h2M569.6 69.1v12.3m-1 0h2m-2 -12.3h2M570.7 68.3v19.8m-1 0h2m-2 -19.8h2M571.7 66.4v20.6m-1 0h2m-2 -20.6h2M572.6 68.1v21.0m-1 0h2m-2 -21.0h2M573.6 68.0v16.1m-1 0h2m-2 -16.1h2M574.5 70.0v20.8m-1 0h2m-2 -20.8h2M575.5 72.0v13.8m-1 0h2m-2 -13.8h2M576.4 74.9v13.3m-1 0h2m-2 -13.3h2M577.2 69.4v17.7m-1 0h2m-2 -17.7h2M578.1 67.9v19.6m-1 0h2m-2 -19.6h2M579.0 74.2v9.6m-1 0h2m-2 -9.6h2M579.8 70.9v14.4m-1 0h2m-2 -14.4h2M580.6 70.5v13.5m-1 0h2m-2 -13.5h2M581.4 74.7v8.7m-1 0h2m-2 -8.7h2M582.2 74.2v9.4m-1 0h2m-2 -9.4h2M583.0 69.5v17.0m-1 0h2m-2 -17.0h2M583.7 69.4v18.1m-1 0h2m-2 -18.1h2M584.5 70.7v13.9m-1 0h2m-2 -13.9h2M585.2 74.2v10.3m-1 0h2m-2 -10.3h2M586.0 68.3v17.8m-1 0h2m-2 -17.8h2M586.7 75.7v11.9m-1 0h2m-2 -11.9h2M587.4 74.8v8.8m-1 0h2m-2 -8.8h2M588.1 73.0v15.2m-1 0h2m-2 -15.2h2M588.7 70.5v14.1m-1 0h2m-2 -14.1h2M589.4 72.8v13.9m-1 0h2m-2 -13.9h2M590.1 73.7v10.8m-1 0h2m-2 -10.8h2M590.7 75.7v9.7m-1 0h2m-2 -9.7h2M591.4 75.7v9.1m-1 0h2m-2 -9.1h2M592.0 70.9v12.4m-1 0h2m-2 -12.4h2M592.6 75.6v9.6m-1 0h2m-2 -9.6h2M593.2 70.6v13.2m-1 0h2m-2 -13.2h2M593.9 73.2v14.6m-1 0h2m-2 -14.6h2M594.7 71.9v13.8m-1 0h2m-2 -13.8h2M595.6 74.2v6.6m-1 0h2m-2 -6.6h2M596.5 73.9v11.6m-1 0h2m-2 -11.6h2M597.3 75.7v6.5m-1 0h2m-2 -6.5h2M598.2 73.8v8.4m-1 0h2m-2 -8.4h2M599.0 74.1v8.4m-1 0h2m-2 -8.4h2M599.8 74.4v10.4m-1 0h2m-2 -10.4h2M600.6 74.6v6.3m-1 0h2m-2 -6.3h2M601.3 74.4v7.8m-1 0h2m-2 -7.8h2M602.1 74.5v13.5m-1 0h2m-2 -13.5h2M602.8 75.4v6.2m-1 0h2m-2 -6.2h2M603.6 75.4v8.8m-1 0h2m-2 -8.8h2M604.3 75.0v9.9m-1 0h2m-2 -9.9h2M605.0 77.1v6.9m-1 0h2m-2 -6.9h2M605.7 76.2v8.3m-1 0h2m-2 -8.3h2M606.4 71.2v11.0m-1 0h2m-2 -11.0h2M607.1 74.5v8.6m-1 0h2m-2 -8.6h2M607.7 75.4v10.5m-1 0h2m-2 -10.5h2M608.4 71.6v13.6m-1 0h2m-2 -13.6h2M609.0 77.8v6.8m-1 0h2m-2 -6.8h2M609.7 73.8v11.4m-1 0h2m-2 -11.4h2M610.3 74.7v6.2m-1 0h2m-2 -6.2h2M610.9 75.2v9.1m-1 0h2m-2 -9.1h2M611.5 75.4v11.7m-1 0h2m-2 -11.7h2M612.2 71.5v13.7m-1 0h2m-2 -13.7h2M612.9 75.3v9.7m-1 0h2m-2 -9.7h2M613.7 73.3v11.0m-1 0h2m-2 -11.0h2M614.5 74.6v9.9m-1 0h2m-2 -9.9h2M615.2 77.2v6.9m-1 0h2m-2 -6.9h2M616.0 78.2v6.7m-1 0h2m-2 -6.7h2M616.7 76.5v10.4m-1 0h2m-2 -10.4h2M617.4 75.4v13.0m-1 0h2m-2 -13.0h2M618.1 80.9v8.1m-1 0h2m-2 -8.1h2M618.8 75.0v12.0m-1 0h2m-2 -12.0h2M619.5 74.9v11.0m-1 0h2m-2 -11.0h2M620.2 79.4v8.7m-1 0h2m-2 -8.7h2M620.9 78.1v11.3m-1 0h2m-2 -11.3h2M621.5 78.9v6.5m-1 0h2m-2 -6.5h2M622.2 82.5v8.0m-1 0h2m-2 -8.0h2M622.8 79.4v9.1m-1 0h2m-2 -9.1h2M623.4 77.9v11.1m-1 0h2m-2 -11.1h2M624.0 83.0v6.3m-1 0h2m-2 -6.3h2M624.6 83.7v6.3m-1 0h2m-2 -6.3h2M625.2 82.6v13.4m-1 0h2m-2 -13.4h2M626.0 79.2v10.2m-1 0h2m-2 -10.2h2M626.7 78.1v13.2m-1 0h2m-2 -13.2h2M627.4 79.0v14.0m-1 0h2m-2 -14.0h2M628.1 82.1v7.3m-1 0h2m-2 -7.3h2M628.8 81.7v9.0m-1 0h2m-2 -9.0h2M629.5 78.4v13.9m-1 0h2m-2 -13.9h2M630.2 81.1v6.1m-1 0h2m-2 -6.1h2M630.9 78.3v13.9m-1 0h2m-2 -13.9h2M631.5 79.4v14.0m-1 0h2m-2 -14.0h2M632.2 80.2v12.0m-1 0h2m-2 -12.0h2M632.8 79.4v9.1m-1 0h2m-2 -9.1h2M633.4 79.5v11.4m-1 0h2m-2 -11.4h2M634.0 81.6v6.2m-1 0h2m-2 -6.2h2M634.6 78.7v8.8m-1 0h2m-2 -8.8h2M635.2 80.0v6.3m-1 0h2m-2 -6.3h2M636.0 79.1v9.4m-1 0h2m-2 -9.4h2M636.7 81.9v11.5m-1 0h2m-2 -11.5h2M637.3 81.0v6.2m-1 0h2m-2 -6.2h2M638.0 76.1v13.2m-1 0h2m-2 -13.2h2M638.7 80.5v6.7m-1 0h2m-2 -6.7h2M639.3 79.4v7.9m-1 0h2m-2 -7.9h2M640.0 81.3v9.1m-1 0h2m-2 -9.1h2M640.6 78.1v6.9m-1 0h2m-2 -6.9h2M641.3 77.5v12.0m-1 0h2m-2 -12.0h2M641.9 80.9v11.7m-1 0h2m-2 -11.7h2M642.5 81.0v11.1m-1 0h2m-2 -11.1h2M643.1 80.9v9.9m-1 0h2m-2 -9.9h2M643.8 79.7v11.4m-1 0h2m-2 -11.4h2M644.5 75.9v9.7m-1 0h2m-2 -9.7h2M645.2 75.4v12.4m-1 0h2m-2 -12.4h2M645.8 70.2v14.6m-1 0h2m-2 -14.6h2M646.5 68.7v13.7m-1 0h2m-2 -13.7h2M647.1 71.3v10.2m-1 0h2m-2 -10.2h2M647.8 65.2v15.1m-1 0h2m-2 -15.1h2M648.4 66.7v9.9m-1 0h2m-2 -9.9h2M649.0 64.5v13.5m-1 0h2m-2 -13.5h2M649.6 59.1v14.3m-1 0h2m-2 -14.3h2M650.2 60.7v11.3m-1 0h2m-2 -11.3h2M650.9 59.1v15.8m-1 0h2m-2 -15.8h2M651.6 54.4v17.2m-1 0h2m-2 -17.2h2M652.2 62.4v8.8m-1 0h2m-2 -8.8h2M652.9 64.0v8.1m-1 0h2m-2 -8.1h2M653.5 60.0v10.8m-1 0h2m-2 -10.8h2M654.1 63.5v8.1m-1 0h2m-2 -8.1h2M654.8 64.5v18.3m-1 0h2m-2 -18.3h2M655.4 63.9v10.9m-1 0h2m-2 -10.9h2M656.0 72.7v9.8m-1 0h2m-2 -9.8h2M656.7 72.8v14.6m-1 0h2m-2 -14.6h2M657.3 73.3v18.8m-1 0h2m-2 -18.8h2M658.0 75.5v18.1m-1 0h2m-2 -18.1h2M658.6 80.2v19.0m-1 0h2m-2 -19.0h2M659.2 79.1v11.8m-1 0h2m-2 -11.8h2M659.9 86.9v13.6m-1 0h2m-2 -13.6h2M660.5 86.1v11.8m-1 0h2m-2 -11.8h2M661.1 82.8v21.6m-1 0h2m-2 -21.6h2M661.8 82.8v17.4m-1 0h2m-2 -17.4h2M662.4 86.0v23.5m-1 0h2m-2 -23.5h2M663.1 83.4v13.7m-1 0h2m-2 -13.7h2M663.7 85.0v27.3m-1 0h2m-2 -27.3h2M664.3 93.0v16.8m-1 0h2m-2 -16.8h2M664.9 72.9v34.6m-1 0h2m-2 -34.6h2M665.5 76.9v21.1m-1 0h2m-2 -21.1h2M666.1 74.6v26.6m-1 0h2m-2 -26.6h2M666.8 74.9v35.1m-1 0h2m-2 -35.1h2M667.4 79.4v31.4m-1 0h2m-2 -31.4h2M668.1 89.4v19.2m-1 0h2m-2 -19.2h2M668.7 88.6v39.3m-1 0h2m-2 -39.3h2M669.3 88.0v35.3m-1 0h2m-2 -35.3h2M669.9 73.4v36.3m-1 0h2m-2 -36.3h2M670.5 67.7v30.9m-1 0h2m-2 -30.9h2M671.2 60.8v22.7m-1 0h2m-2 -22.7h2M671.8 76.7v35.4m-1 0h2m-2 -35.4h2M672.4 75.8v27.1m-1 0h2m-2 -27.1h2M673.1 57.6v41.0m-1 0h2m-2 -41.0h2M673.7 63.4v28.3m-1 0h2m-2 -28.3h2M674.3 57.4v37.7m-1 0h2m-2 -37.7h2M674.9 25.7v34.8m-1 0h2m-2 -34.8h2M675.6 60.6v24.7m-1 0h2m-2 -24.7h2M676.2 56.3v39.6m-1 0h2m-2 -39.6h2M676.8 44.9v48.1m-1 0h2m-2 -48.1h2M677.4 44.0v22.9m-1 0h2m-2 -22.9h2M678.0 49.5v38.3m-1 0h2m-2 -38.3h2M678.6 52.9v40.5m-1 0h2m-2 -40.5h2M679.3 66.3v46.6m-1 0h2m-2 -46.6h2M679.9 62.6v31.7m-1 0h2m-2 -31.7h2M680.5 46.9v47.5m-1 0h2m-2 -47.5h2M681.1 37.4v45.3m-1 0h2m-2 -45.3h2M681.7 26.0v28.9m-1 0h2m-2 -28.9h2M682.4 27.3v46.5m-1 0h2m-2 -46.5h2M683.0 17.3v37.7m-1 0h2m-2 -37.7h2M683.6 37.0v30.3m-1 0h2m-2 -30.3h2M684.2 51.7v31.8m-1 0h2m-2 -31.8h2M684.8 49.8v34.7m-1 0h2m-2 -34.7h2M685.5 41.3v47.6m-1 0h2m-2 -47.6h2" stroke="#f4a8c0" stroke-width="0.7" stroke-opacity="0.62" fill="none"/>
<path d="M511.0 130.1h.1M512.9 119.0h.1M514.7 119.5h.1M516.4 127.8h.1M518.1 114.5h.1M519.7 122.6h.1M521.3 107.0h.1M522.8 101.8h.1M524.2 97.7h.1M525.6 101.7h.1M527.0 87.2h.1M528.3 100.2h.1M529.6 98.7h.1M530.9 94.2h.1M532.1 79.2h.1M533.3 79.2h.1M534.4 101.4h.1M535.5 87.2h.1M536.6 104.7h.1M537.7 87.5h.1M538.8 95.0h.1M539.8 80.4h.1M540.8 85.8h.1M541.8 88.3h.1M542.7 93.4h.1M543.7 100.7h.1M544.6 94.7h.1M545.5 76.8h.1M546.4 86.5h.1M547.2 84.7h.1M548.1 80.9h.1M548.9 88.5h.1M549.7 94.3h.1M550.5 80.6h.1M551.3 90.0h.1M552.1 91.1h.1M552.8 75.7h.1M553.6 92.1h.1M554.3 91.0h.1M555.1 82.5h.1M555.8 89.9h.1M556.5 81.3h.1M557.2 85.7h.1M557.8 82.5h.1M558.5 74.2h.1M559.2 79.6h.1M559.8 77.1h.1M560.5 75.3h.1M561.1 72.0h.1M561.7 73.7h.1M562.3 71.5h.1M562.9 82.0h.1M564.1 68.2h.1M565.3 76.6h.1M566.4 73.5h.1M567.5 70.9h.1M568.6 77.9h.1M569.6 72.3h.1M570.7 78.8h.1M571.7 74.3h.1M572.6 75.8h.1M573.6 74.4h.1M574.5 76.6h.1M575.5 77.3h.1M576.4 73.5h.1M577.2 74.7h.1M578.1 79.2h.1M579.0 73.2h.1M579.8 79.0h.1M580.6 73.6h.1M581.4 73.2h.1M582.2 70.6h.1M583.0 72.5h.1M583.7 70.6h.1M584.5 73.0h.1M585.2 75.5h.1M586.0 73.9h.1M586.7 72.9h.1M587.4 72.0h.1M588.1 72.6h.1M588.7 71.3h.1M589.4 71.6h.1M590.1 76.9h.1M590.7 74.1h.1M591.4 72.4h.1M592.0 74.8h.1M592.6 76.0h.1M593.2 73.0h.1M593.9 73.8h.1M594.7 72.4h.1M595.6 72.1h.1M596.5 75.5h.1M597.3 77.6h.1M598.2 73.1h.1M599.0 72.2h.1M599.8 75.2h.1M600.6 74.8h.1M601.3 74.2h.1M602.1 75.2h.1M602.8 73.3h.1M603.6 73.9h.1M604.3 74.4h.1M605.0 73.3h.1M605.7 74.0h.1M606.4 73.1h.1M607.1 73.7h.1M607.7 73.2h.1M608.4 70.9h.1M609.0 72.9h.1M609.7 71.2h.1M610.3 71.6h.1M610.9 70.7h.1M611.5 73.1h.1M612.2 71.9h.1M612.9 72.0h.1M613.7 73.9h.1M614.5 73.5h.1M615.2 72.7h.1M616.0 70.9h.1M616.7 74.0h.1M617.4 73.1h.1M618.1 73.2h.1M618.8 74.5h.1M619.5 73.2h.1M620.2 73.9h.1M620.9 75.1h.1M621.5 74.8h.1M622.2 73.6h.1M622.8 76.0h.1M623.4 75.7h.1M624.0 76.6h.1M624.6 74.6h.1M625.2 74.8h.1M626.0 75.3h.1M626.7 74.2h.1M627.4 73.5h.1M628.1 72.9h.1M628.8 73.0h.1M629.5 72.9h.1M630.2 73.2h.1M630.9 74.7h.1M631.5 74.1h.1M632.2 73.2h.1M632.8 75.3h.1M633.4 77.5h.1M634.0 77.6h.1M634.6 74.2h.1M635.2 75.9h.1M636.0 78.3h.1M636.7 78.0h.1M637.3 78.4h.1M638.0 78.6h.1M638.7 79.3h.1M639.3 78.5h.1M640.0 81.5h.1M640.6 79.3h.1M641.3 80.9h.1M641.9 83.6h.1M642.5 83.8h.1M643.1 83.2h.1M643.8 84.0h.1M644.5 84.6h.1M645.2 86.3h.1M645.8 88.1h.1M646.5 91.5h.1M647.1 90.3h.1M647.8 89.9h.1M648.4 88.3h.1M649.0 86.8h.1M649.6 84.9h.1M650.2 85.2h.1M650.9 83.3h.1M651.6 80.3h.1M652.2 76.3h.1M652.9 70.4h.1M653.5 71.7h.1M654.1 68.4h.1M654.8 65.3h.1M655.4 68.4h.1M656.0 71.8h.1M656.7 67.0h.1M657.3 68.5h.1M658.0 66.4h.1M658.6 65.5h.1M659.2 67.9h.1M659.9 63.1h.1M660.5 71.5h.1M661.1 71.0h.1M661.8 76.8h.1M662.4 78.2h.1M663.1 79.1h.1M663.7 77.9h.1M664.3 88.9h.1M664.9 80.8h.1M665.5 78.5h.1M666.1 87.6h.1M666.8 79.3h.1M667.4 95.4h.1M668.1 93.4h.1M668.7 96.8h.1M669.3 97.4h.1M669.9 95.9h.1M670.5 89.0h.1M671.2 95.4h.1M671.8 104.7h.1M672.4 102.8h.1M673.1 109.3h.1M673.7 110.1h.1M674.3 116.6h.1M674.9 131.2h.1M675.6 139.5h.1M676.2 139.7h.1M676.8 138.1h.1M677.4 132.0h.1M678.0 153.1h.1M678.6 126.4h.1M679.3 123.7h.1M679.9 121.3h.1M680.5 130.4h.1M681.1 115.5h.1M681.7 122.4h.1M682.4 117.8h.1M683.0 103.9h.1M683.6 111.3h.1M684.2 98.5h.1M684.8 107.0h.1M685.5 114.1h.1M650.5 83.4h.1M651.2 80.7h.1M651.9 78.1h.1M652.5 75.3h.1M653.2 72.9h.1M653.8 64.9h.1M654.4 62.1h.1M655.1 68.4h.1M655.7 69.7h.1M656.3 70.3h.1M657.0 68.5h.1M657.6 65.5h.1M658.3 62.7h.1M658.9 64.7h.1M659.5 68.4h.1M660.2 69.8h.1M660.8 71.2h.1M661.4 70.0h.1M662.1 75.0h.1M662.7 72.5h.1M663.4 75.3h.1M664.0 79.2h.1M664.6 80.6h.1M665.2 85.5h.1M665.8 86.3h.1M666.4 86.3h.1M667.1 84.5h.1M667.7 87.6h.1M668.4 88.2h.1M669.0 99.6h.1M669.6 95.1h.1M670.2 91.3h.1M670.8 92.5h.1M671.5 106.9h.1M672.1 97.2h.1M672.7 107.2h.1M673.4 111.4h.1M674.0 124.3h.1M674.6 119.3h.1M675.2 134.7h.1M675.9 138.1h.1M676.5 147.1h.1M677.1 154.5h.1M677.7 141.6h.1M678.3 135.1h.1M678.9 138.2h.1M679.6 117.6h.1M680.2 126.3h.1M680.8 115.0h.1M681.4 110.5h.1M682.0 104.8h.1M682.7 101.2h.1M683.3 117.6h.1M683.9 115.4h.1M684.5 108.9h.1M685.1 116.2h.1M685.8 108.3h.1M663.8 76.9h.1M664.5 76.3h.1M665.1 84.0h.1M665.7 85.7h.1M666.3 89.1h.1M667.0 82.2h.1M667.6 86.0h.1M668.2 82.8h.1M668.9 96.3h.1M669.5 96.0h.1M670.1 96.9h.1M670.7 96.6h.1M671.3 98.4h.1M672.0 99.7h.1M672.6 111.0h.1M673.2 104.8h.1M673.8 121.5h.1M674.4 125.0h.1M675.1 124.2h.1M675.7 126.3h.1M676.3 135.6h.1M676.9 145.4h.1M677.6 133.3h.1M678.2 142.2h.1M678.8 141.3h.1M679.4 132.6h.1M680.0 113.5h.1M680.7 105.7h.1M681.3 126.8h.1M681.9 128.8h.1M682.5 111.7h.1M683.1 116.0h.1M683.8 107.1h.1M684.4 103.1h.1M685.0 116.0h.1M685.6 103.8h.1" stroke="#1414d4" stroke-width="1.1" stroke-linecap="round" stroke-opacity="0.6" fill="none"/>
<polyline points="511.0,119.2 512.9,117.2 514.7,115.0 516.4,112.7 518.1,110.5 519.7,108.6 521.3,106.9 522.8,105.4 524.2,104.2 525.6,103.0 527.0,101.8 528.3,100.8 529.6,99.7 530.9,98.7 532.1,97.7 533.3,96.7 534.4,95.8 535.5,94.9 536.6,94.0 537.7,93.1 538.8,92.3 539.8,91.5 540.8,90.7 541.8,89.9 542.7,89.2 543.7,88.5 544.6,87.8 545.5,87.2 546.4,86.5 547.2,85.9 548.1,85.3 548.9,84.7 549.7,84.2 550.5,83.6 551.3,83.1 552.1,82.6 552.8,82.1 553.6,81.7 554.3,81.2 555.1,80.8 555.8,80.4 556.5,80.0 557.2,79.6 557.8,79.2 558.5,78.9 559.2,78.5 559.8,78.2 560.5,77.9 561.1,77.7 561.7,77.4 562.3,77.2 562.9,77.0 564.1,76.6 565.3,76.3 566.4,76.0 567.5,75.7 568.6,75.5 569.6,75.2 570.7,75.1 571.7,75.0 572.6,74.6 573.6,75.1 574.5,74.6 575.5,74.4 576.4,74.1 577.2,74.7 578.1,74.8 579.0,74.1 579.8,75.2 580.6,74.5 581.4,74.1 582.2,75.1 583.0,74.2 583.7,74.8 584.5,73.2 585.2,74.9 586.0,74.1 586.7,74.0 587.4,74.1 588.1,73.5 588.7,74.2 589.4,73.9 590.1,73.8 590.7,73.6 591.4,73.4 592.0,74.0 592.6,74.2 593.2,74.0 593.9,73.9 594.7,73.8 595.6,74.2 596.5,74.5 597.3,73.9 598.2,73.6 599.0,74.7 599.8,73.3 600.6,73.9 601.3,73.7 602.1,74.2 602.8,73.6 603.6,73.1 604.3,73.2 605.0,73.6 605.7,73.5 606.4,73.1 607.1,73.0 607.7,72.5 608.4,72.4 609.0,72.6 609.7,72.4 610.3,72.5 610.9,72.0 611.5,72.9 612.2,71.6 612.9,72.7 613.7,72.8 614.5,73.3 615.2,73.4 616.0,72.6 616.7,73.4 617.4,73.7 618.1,73.9 618.8,73.9 619.5,73.7 620.2,74.5 620.9,74.1 621.5,74.1 622.2,74.4 622.8,74.3 623.4,74.3 624.0,74.6 624.6,75.6 625.2,74.7 626.0,74.2 626.7,73.6 627.4,73.5 628.1,72.7 628.8,73.6 629.5,73.8 630.2,74.0 630.9,74.4 631.5,74.5 632.2,75.1 632.8,75.5 633.4,75.9 634.0,76.1 634.6,76.8 635.2,76.9 636.0,77.9 636.7,77.9 637.3,78.8 638.0,78.9 638.7,79.3 639.3,79.4 640.0,80.4 640.6,80.7 641.3,81.2 641.9,82.0 642.5,82.6 643.1,82.9 643.8,83.6 644.5,85.6 645.2,87.0 645.8,89.0 646.5,90.6 647.1,90.8 647.8,89.5 648.4,88.0 649.0,86.4 649.6,85.0 650.2,83.3 650.9,83.2 651.6,80.4 652.2,77.0 652.9,73.9 653.5,70.9 654.1,67.8 654.8,66.8 655.4,68.6 656.0,70.7 656.7,69.3 657.3,67.7 658.0,64.6 658.6,64.7 659.2,64.4 659.9,67.3 660.5,73.9 661.1,71.4 661.8,73.5 662.4,74.3 663.1,78.3 663.7,77.4 664.3,76.3 664.9,81.4 665.5,84.4 666.1,83.8 666.8,85.8 667.4,85.1 668.1,86.1 668.7,90.5 669.3,88.6 669.9,92.5 670.5,92.8 671.2,98.0 671.8,104.3 672.4,103.9 673.1,112.0 673.7,115.7 674.3,121.0 674.9,125.3 675.6,135.0 676.2,134.8 676.8,146.8 677.4,137.1 678.0,133.0 678.6,130.6 679.3,122.6 679.9,127.0 680.5,120.2 681.1,118.9 681.7,121.1 682.4,104.9 683.0,111.5 683.6,111.9 684.2,113.5 684.8,108.9 685.5,104.9" stroke="#1414d4" stroke-width="0.95" fill="none" stroke-linejoin="round"/>
<polyline points="569.6,75.2 570.7,75.1 571.7,75.0 572.6,74.6 573.6,75.1 574.5,74.6 575.5,74.4 576.4,74.1 577.2,74.7 578.1,74.8 579.0,74.1 579.8,75.2 580.6,74.5 581.4,74.1 582.2,75.1 583.0,74.2 583.7,74.8 584.5,73.2 585.2,74.9 586.0,74.1 586.7,74.0 587.4,74.1 588.1,73.5 588.7,74.2 589.4,73.9 590.1,73.8 590.7,73.6 591.4,73.4 592.0,74.0 592.6,74.2 593.2,74.0 593.9,73.9 594.7,73.8 595.6,74.2 596.5,74.5 597.3,73.9 598.2,73.6 599.0,74.7 599.8,73.3 600.6,73.9 601.3,73.7 602.1,74.2 602.8,73.6 603.6,73.1 604.3,73.2 605.0,73.6 605.7,73.5 606.4,73.1 607.1,73.0 607.7,72.5 608.4,72.4 609.0,72.6 609.7,72.4 610.3,72.5 610.9,72.0 611.5,72.9 612.2,71.6 612.9,72.7 613.7,72.8 614.5,73.3 615.2,73.4 616.0,72.6 616.7,73.4 617.4,73.7 618.1,73.9 618.8,73.9 619.5,73.7 620.2,74.5 620.9,74.1 621.5,74.1 622.2,74.4 622.8,74.3 623.4,74.3 624.0,74.6 624.6,75.6 625.2,74.7 626.0,74.2 626.7,73.6 627.4,73.5 628.1,72.7 628.8,73.6 629.5,73.8 630.2,74.0 630.9,74.4 631.5,74.5 632.2,75.1 632.8,75.5 633.4,75.9 634.0,76.1 634.6,76.8 635.2,76.9 636.0,77.9 636.7,77.9 637.3,78.8 638.0,78.9 638.7,79.3 639.3,79.4 640.0,80.4 640.6,80.7 641.3,81.2 641.9,82.0 642.5,82.6 643.1,82.9 643.8,83.6 644.5,85.6 645.2,87.0 645.8,89.0 646.5,90.6 647.1,90.8 647.8,89.5 648.4,88.0 649.0,86.4 649.6,85.0 650.2,83.3 650.9,83.2 651.6,80.4 652.2,77.0 652.9,73.9 653.5,70.9 654.1,67.8 654.8,66.8 655.4,68.6 656.0,70.7 656.7,69.3 657.3,67.7 658.0,64.6 658.6,64.7 659.2,64.4 659.9,67.3 660.5,73.9 661.1,71.4 661.8,73.5 662.4,74.3 663.1,78.3 663.7,77.4 664.3,76.3 664.9,81.4 665.5,84.4 666.1,83.8 666.8,85.8 667.4,85.1 668.1,86.1 668.7,90.5 669.3,88.6 669.9,92.5 670.5,92.8 671.2,98.0 671.8,104.3 672.4,103.9 673.1,112.0 673.7,115.7 674.3,121.0 674.9,125.3 675.6,135.0 676.2,134.8 676.8,146.8 677.4,137.1 678.0,133.0 678.6,130.6 679.3,122.6 679.9,127.0 680.5,120.2 681.1,118.9 681.7,121.1 682.4,104.9 683.0,111.5 683.6,111.9 684.2,113.5 684.8,108.9 685.5,104.9" stroke="#1414d4" stroke-width="1.35" fill="none" stroke-linejoin="round"/>
<path d="M511.0 81.6h.1M512.9 81.4h.1M514.7 92.9h.1M516.4 84.9h.1M518.1 79.1h.1M519.7 75.1h.1M521.3 82.9h.1M522.8 70.9h.1M524.2 84.3h.1M525.6 81.0h.1M527.0 69.2h.1M528.3 82.4h.1M529.6 86.9h.1M530.9 80.4h.1M532.1 70.2h.1M533.3 74.5h.1M534.4 83.2h.1M535.5 70.0h.1M536.6 75.4h.1M537.7 84.0h.1M538.8 75.5h.1M539.8 73.7h.1M540.8 81.3h.1M541.8 85.5h.1M542.7 78.8h.1M543.7 69.5h.1M544.6 68.0h.1M545.5 75.0h.1M546.4 67.1h.1M547.2 75.7h.1M548.1 80.5h.1M548.9 63.3h.1M549.7 75.0h.1M550.5 77.3h.1M551.3 73.3h.1M552.1 77.4h.1M552.8 77.8h.1M553.6 80.1h.1M554.3 86.8h.1M555.1 76.9h.1M555.8 71.9h.1M556.5 71.5h.1M557.2 70.7h.1M557.8 78.0h.1M558.5 76.6h.1M559.2 77.0h.1M559.8 76.0h.1M560.5 80.8h.1M561.1 79.1h.1M561.7 78.9h.1M562.3 73.5h.1M562.9 74.8h.1M564.1 72.2h.1M565.3 74.4h.1M566.4 76.8h.1M567.5 73.6h.1M568.6 75.4h.1M569.6 81.9h.1M570.7 76.9h.1M571.7 74.4h.1M572.6 75.2h.1M573.6 77.7h.1M574.5 79.7h.1M575.5 78.1h.1M576.4 80.0h.1M577.2 79.1h.1M578.1 76.7h.1M579.0 80.7h.1M579.8 78.3h.1M580.6 82.3h.1M581.4 78.1h.1M582.2 78.9h.1M583.0 78.3h.1M583.7 78.8h.1M584.5 79.9h.1M585.2 78.9h.1M586.0 81.0h.1M586.7 79.9h.1M587.4 81.6h.1M588.1 79.4h.1M588.7 81.1h.1M589.4 81.0h.1M590.1 79.2h.1M590.7 82.6h.1M591.4 81.2h.1M592.0 79.9h.1M592.6 78.9h.1M593.2 79.0h.1M593.9 78.8h.1M594.7 79.2h.1M595.6 77.7h.1M596.5 79.0h.1M597.3 78.4h.1M598.2 80.8h.1M599.0 79.9h.1M599.8 80.9h.1M600.6 81.7h.1M601.3 79.8h.1M602.1 81.5h.1M602.8 79.8h.1M603.6 80.1h.1M604.3 78.5h.1M605.0 79.7h.1M605.7 81.1h.1M606.4 80.0h.1M607.1 79.0h.1M607.7 79.4h.1M608.4 78.5h.1M609.0 78.5h.1M609.7 77.6h.1M610.3 80.5h.1M610.9 80.4h.1M611.5 79.0h.1M612.2 77.6h.1M612.9 79.3h.1M613.7 82.3h.1M614.5 78.8h.1M615.2 80.1h.1M616.0 80.5h.1M616.7 82.3h.1M617.4 80.2h.1M618.1 82.4h.1M618.8 81.4h.1M619.5 82.3h.1M620.2 81.6h.1M620.9 84.2h.1M621.5 83.4h.1M622.2 83.7h.1M622.8 86.3h.1M623.4 85.8h.1M624.0 88.7h.1M624.6 86.7h.1M625.2 86.5h.1M626.0 86.6h.1M626.7 89.9h.1M627.4 88.0h.1M628.1 86.0h.1M628.8 86.8h.1M629.5 85.7h.1M630.2 87.2h.1M630.9 85.3h.1M631.5 84.9h.1M632.2 85.8h.1M632.8 86.7h.1M633.4 85.7h.1M634.0 85.3h.1M634.6 84.0h.1M635.2 80.4h.1M636.0 83.6h.1M636.7 83.6h.1M637.3 84.7h.1M638.0 86.5h.1M638.7 85.2h.1M639.3 81.8h.1M640.0 84.3h.1M640.6 84.4h.1M641.3 86.2h.1M641.9 85.5h.1M642.5 83.3h.1M643.1 84.8h.1M643.8 84.0h.1M644.5 79.8h.1M645.2 81.0h.1M645.8 78.9h.1M646.5 79.1h.1M647.1 75.6h.1M647.8 73.1h.1M648.4 72.1h.1M649.0 70.6h.1M649.6 69.4h.1M650.2 63.8h.1M650.9 58.4h.1M651.6 68.9h.1M652.2 66.5h.1M652.9 66.4h.1M653.5 74.7h.1M654.1 68.2h.1M654.8 71.6h.1M655.4 74.6h.1M656.0 79.1h.1M656.7 77.9h.1M657.3 83.9h.1M658.0 81.7h.1M658.6 89.7h.1M659.2 88.3h.1M659.9 81.3h.1M660.5 89.7h.1M661.1 86.3h.1M661.8 91.7h.1M662.4 93.2h.1M663.1 105.3h.1M663.7 93.8h.1M664.3 85.8h.1M664.9 95.3h.1M665.5 86.1h.1M666.1 107.0h.1M666.8 98.6h.1M667.4 105.4h.1M668.1 87.8h.1M668.7 80.6h.1M669.3 92.6h.1M669.9 74.4h.1M670.5 76.9h.1M671.2 77.3h.1M671.8 82.9h.1M672.4 64.5h.1M673.1 56.2h.1M673.7 97.6h.1M674.3 71.0h.1M674.9 73.4h.1M675.6 81.4h.1M676.2 77.6h.1M676.8 62.2h.1M677.4 63.6h.1M678.0 89.6h.1M678.6 83.7h.1M679.3 75.7h.1M679.9 87.0h.1M680.5 37.0h.1M681.1 62.9h.1M681.7 55.3h.1M682.4 30.5h.1M683.0 60.4h.1M683.6 63.0h.1M684.2 56.4h.1M684.8 26.9h.1M685.5 49.6h.1M650.5 64.5h.1M651.2 62.1h.1M651.9 64.6h.1M652.5 66.6h.1M653.2 70.7h.1M653.8 70.5h.1M654.4 79.9h.1M655.1 75.7h.1M655.7 77.6h.1M656.3 80.9h.1M657.0 80.0h.1M657.6 80.9h.1M658.3 88.5h.1M658.9 77.2h.1M659.5 80.1h.1M660.2 97.9h.1M660.8 94.0h.1M661.4 94.4h.1M662.1 94.3h.1M662.7 95.2h.1M663.4 89.9h.1M664.0 94.0h.1M664.6 88.8h.1M665.2 102.2h.1M665.8 98.6h.1M666.4 95.4h.1M667.1 96.1h.1M667.7 91.0h.1M668.4 80.6h.1M669.0 107.1h.1M669.6 96.4h.1M670.2 86.8h.1M670.8 94.0h.1M671.5 100.9h.1M672.1 99.0h.1M672.7 91.2h.1M673.4 91.6h.1M674.0 76.5h.1M674.6 94.6h.1M675.2 87.6h.1M675.9 85.7h.1M676.5 55.1h.1M677.1 79.1h.1M677.7 78.3h.1M678.3 78.9h.1M678.9 32.0h.1M679.6 40.3h.1M680.2 68.0h.1M680.8 49.3h.1M681.4 65.9h.1M682.0 57.4h.1M682.7 68.9h.1M683.3 47.0h.1M683.9 38.0h.1M684.5 60.3h.1M685.1 48.9h.1M685.8 36.0h.1M663.8 84.4h.1M664.5 114.0h.1M665.1 92.2h.1M665.7 92.3h.1M666.3 78.7h.1M667.0 84.7h.1M667.6 90.7h.1M668.2 94.2h.1M668.9 97.9h.1M669.5 81.9h.1M670.1 93.9h.1M670.7 100.2h.1M671.3 79.8h.1M672.0 83.6h.1M672.6 60.6h.1M673.2 71.1h.1M673.8 61.9h.1M674.4 86.0h.1M675.1 73.1h.1M675.7 94.0h.1M676.3 74.2h.1M676.9 81.1h.1M677.6 76.1h.1M678.2 70.8h.1M678.8 52.3h.1M679.4 88.0h.1M680.0 62.9h.1M680.7 36.9h.1M681.3 52.6h.1M681.9 43.3h.1M682.5 73.6h.1M683.1 70.1h.1M683.8 75.4h.1M684.4 84.2h.1M685.0 43.3h.1M685.6 25.4h.1" stroke="#e01c24" stroke-width="1.1" stroke-linecap="round" stroke-opacity="0.6" fill="none"/>
<polyline points="511.0,83.1 512.9,82.7 514.7,82.3 516.4,81.8 518.1,81.4 519.7,81.0 521.3,80.6 522.8,80.2 524.2,79.9 525.6,79.6 527.0,79.3 528.3,79.0 529.6,78.7 530.9,78.4 532.1,78.2 533.3,78.0 534.4,77.7 535.5,77.5 536.6,77.3 537.7,77.1 538.8,76.9 539.8,76.8 540.8,76.6 541.8,76.5 542.7,76.4 543.7,76.3 544.6,76.2 545.5,76.1 546.4,76.0 547.2,75.9 548.1,75.8 548.9,75.7 549.7,75.7 550.5,75.6 551.3,75.6 552.1,75.5 552.8,75.5 553.6,75.4 554.3,75.4 555.1,75.4 555.8,75.3 556.5,75.3 557.2,75.3 557.8,75.3 558.5,75.3 559.2,75.3 559.8,75.4 560.5,75.4 561.1,75.5 561.7,75.5 562.3,75.6 562.9,75.7 564.1,75.9 565.3,76.2 566.4,76.4 567.5,76.6 568.6,76.8 569.6,77.0 570.7,77.2 571.7,77.4 572.6,78.0 573.6,77.5 574.5,77.8 575.5,78.3 576.4,78.0 577.2,78.3 578.1,77.9 579.0,79.0 579.8,79.0 580.6,78.6 581.4,78.5 582.2,78.6 583.0,79.2 583.7,78.9 584.5,78.7 585.2,79.0 586.0,79.5 586.7,79.6 587.4,79.7 588.1,79.3 588.7,79.3 589.4,79.4 590.1,79.5 590.7,79.4 591.4,78.8 592.0,78.8 592.6,78.9 593.2,79.2 593.9,78.7 594.7,78.5 595.6,79.2 596.5,79.4 597.3,78.6 598.2,79.0 599.0,79.5 599.8,79.0 600.6,79.5 601.3,78.7 602.1,79.2 602.8,79.6 603.6,79.9 604.3,79.8 605.0,78.9 605.7,78.9 606.4,79.1 607.1,79.6 607.7,79.6 608.4,79.6 609.0,79.4 609.7,78.9 610.3,79.0 610.9,78.7 611.5,79.3 612.2,78.6 612.9,79.5 613.7,79.9 614.5,80.6 615.2,80.3 616.0,81.1 616.7,80.9 617.4,82.0 618.1,81.9 618.8,82.2 619.5,82.3 620.2,82.8 620.9,83.2 621.5,83.7 622.2,84.8 622.8,84.4 623.4,85.3 624.0,85.9 624.6,85.6 625.2,85.5 626.0,86.5 626.7,85.7 627.4,86.0 628.1,86.3 628.8,86.4 629.5,86.2 630.2,85.9 630.9,86.2 631.5,85.6 632.2,85.8 632.8,84.5 633.4,84.4 634.0,84.1 634.6,84.0 635.2,83.7 636.0,83.7 636.7,84.5 637.3,83.8 638.0,84.1 638.7,84.1 639.3,83.9 640.0,84.5 640.6,84.0 641.3,85.5 641.9,85.0 642.5,85.8 643.1,85.8 643.8,84.2 644.5,82.5 645.2,81.4 645.8,80.1 646.5,77.8 647.1,75.7 647.8,73.7 648.4,71.9 649.0,70.7 649.6,68.2 650.2,65.8 650.9,63.2 651.6,63.8 652.2,64.5 652.9,66.0 653.5,68.2 654.1,71.1 654.8,73.6 655.4,75.7 656.0,77.0 656.7,79.3 657.3,81.3 658.0,82.8 658.6,78.3 659.2,86.2 659.9,87.0 660.5,91.9 661.1,90.6 661.8,93.8 662.4,91.8 663.1,94.8 663.7,97.7 664.3,93.7 664.9,95.4 665.5,94.3 666.1,95.8 666.8,91.9 667.4,94.1 668.1,81.1 668.7,88.7 669.3,94.0 669.9,92.3 670.5,81.1 671.2,80.6 671.8,86.4 672.4,84.7 673.1,83.8 673.7,79.5 674.3,77.9 674.9,81.4 675.6,67.5 676.2,63.0 676.8,76.1 677.4,64.2 678.0,71.7 678.6,62.2 679.3,58.3 679.9,72.9 680.5,61.6 681.1,51.7 681.7,57.0 682.4,55.5 683.0,53.4 683.6,54.0 684.2,45.0 684.8,50.0 685.5,54.4" stroke="#e01c24" stroke-width="0.95" fill="none" stroke-linejoin="round"/>
<polyline points="569.6,77.0 570.7,77.2 571.7,77.4 572.6,78.0 573.6,77.5 574.5,77.8 575.5,78.3 576.4,78.0 577.2,78.3 578.1,77.9 579.0,79.0 579.8,79.0 580.6,78.6 581.4,78.5 582.2,78.6 583.0,79.2 583.7,78.9 584.5,78.7 585.2,79.0 586.0,79.5 586.7,79.6 587.4,79.7 588.1,79.3 588.7,79.3 589.4,79.4 590.1,79.5 590.7,79.4 591.4,78.8 592.0,78.8 592.6,78.9 593.2,79.2 593.9,78.7 594.7,78.5 595.6,79.2 596.5,79.4 597.3,78.6 598.2,79.0 599.0,79.5 599.8,79.0 600.6,79.5 601.3,78.7 602.1,79.2 602.8,79.6 603.6,79.9 604.3,79.8 605.0,78.9 605.7,78.9 606.4,79.1 607.1,79.6 607.7,79.6 608.4,79.6 609.0,79.4 609.7,78.9 610.3,79.0 610.9,78.7 611.5,79.3 612.2,78.6 612.9,79.5 613.7,79.9 614.5,80.6 615.2,80.3 616.0,81.1 616.7,80.9 617.4,82.0 618.1,81.9 618.8,82.2 619.5,82.3 620.2,82.8 620.9,83.2 621.5,83.7 622.2,84.8 622.8,84.4 623.4,85.3 624.0,85.9 624.6,85.6 625.2,85.5 626.0,86.5 626.7,85.7 627.4,86.0 628.1,86.3 628.8,86.4 629.5,86.2 630.2,85.9 630.9,86.2 631.5,85.6 632.2,85.8 632.8,84.5 633.4,84.4 634.0,84.1 634.6,84.0 635.2,83.7 636.0,83.7 636.7,84.5 637.3,83.8 638.0,84.1 638.7,84.1 639.3,83.9 640.0,84.5 640.6,84.0 641.3,85.5 641.9,85.0 642.5,85.8 643.1,85.8 643.8,84.2 644.5,82.5 645.2,81.4 645.8,80.1 646.5,77.8 647.1,75.7 647.8,73.7 648.4,71.9 649.0,70.7 649.6,68.2 650.2,65.8 650.9,63.2 651.6,63.8 652.2,64.5 652.9,66.0 653.5,68.2 654.1,71.1 654.8,73.6 655.4,75.7 656.0,77.0 656.7,79.3 657.3,81.3 658.0,82.8 658.6,78.3 659.2,86.2 659.9,87.0 660.5,91.9 661.1,90.6 661.8,93.8 662.4,91.8 663.1,94.8 663.7,97.7 664.3,93.7 664.9,95.4 665.5,94.3 666.1,95.8 666.8,91.9 667.4,94.1 668.1,81.1 668.7,88.7 669.3,94.0 669.9,92.3 670.5,81.1 671.2,80.6 671.8,86.4 672.4,84.7 673.1,83.8 673.7,79.5 674.3,77.9 674.9,81.4 675.6,67.5 676.2,63.0 676.8,76.1 677.4,64.2 678.0,71.7 678.6,62.2 679.3,58.3 679.9,72.9 680.5,61.6 681.1,51.7 681.7,57.0 682.4,55.5 683.0,53.4 683.6,54.0 684.2,45.0 684.8,50.0 685.5,54.4" stroke="#e01c24" stroke-width="1.35" fill="none" stroke-linejoin="round"/>
</g>
<line x1="513" y1="68.5" x2="684.0" y2="68.5" stroke="#555" stroke-width="0.8" stroke-dasharray="1,1"/>
<rect x="512.3" y="11.4" width="171.70000000000005" height="171.2" fill="none" stroke="#8c8c8c" stroke-width="1.2"/>
<path d="M512.3 11.4h3M684.0 11.4h-3M512.3 17.1h2M684.0 17.1h-2M512.3 22.8h2M684.0 22.8h-2M512.3 28.5h2M684.0 28.5h-2M512.3 34.2h2M684.0 34.2h-2M512.3 39.9h3M684.0 39.9h-3M512.3 45.6h2M684.0 45.6h-2M512.3 51.3h2M684.0 51.3h-2M512.3 57.1h2M684.0 57.1h-2M512.3 62.8h2M684.0 62.8h-2M512.3 68.5h3M684.0 68.5h-3M512.3 74.2h2M684.0 74.2h-2M512.3 79.9h2M684.0 79.9h-2M512.3 85.6h2M684.0 85.6h-2M512.3 91.3h2M684.0 91.3h-2M512.3 97.0h3M684.0 97.0h-3M512.3 102.7h2M684.0 102.7h-2M512.3 108.4h2M684.0 108.4h-2M512.3 114.1h2M684.0 114.1h-2M512.3 119.8h2M684.0 119.8h-2M512.3 125.5h3M684.0 125.5h-3M512.3 131.2h2M684.0 131.2h-2M512.3 136.9h2M684.0 136.9h-2M512.3 142.7h2M684.0 142.7h-2M512.3 148.4h2M684.0 148.4h-2M512.3 154.1h3M684.0 154.1h-3M512.3 159.8h2M684.0 159.8h-2M512.3 165.5h2M684.0 165.5h-2M512.3 171.2h2M684.0 171.2h-2M512.3 176.9h2M684.0 176.9h-2M512.3 182.6h3M684.0 182.6h-3M525.4 182.6v-2M525.4 11.4v2M535.3 182.6v-2M535.3 11.4v2M543.5 182.6v-2M543.5 11.4v2M550.4 182.6v-2M550.4 11.4v2M556.3 182.6v-2M556.3 11.4v2M561.6 182.6v-2M561.6 11.4v2M566.3 182.6v-3M566.3 11.4v3M597.3 182.6v-2M597.3 11.4v2M615.4 182.6v-2M615.4 11.4v2M628.3 182.6v-2M628.3 11.4v2M638.2 182.6v-2M638.2 11.4v2M646.4 182.6v-2M646.4 11.4v2M653.3 182.6v-2M653.3 11.4v2M659.2 182.6v-2M659.2 11.4v2M664.5 182.6v-2M664.5 11.4v2M669.2 182.6v-3M669.2 11.4v3" stroke="#333" stroke-width="0.9" fill="none"/>
<text x="508.49999999999994" y="14.1" font-size="9.4" text-anchor="end" font-family="&quot;Liberation Sans&quot;, sans-serif" fill="#111">0.2</text>
<text x="508.49999999999994" y="42.6" font-size="9.4" text-anchor="end" font-family="&quot;Liberation Sans&quot;, sans-serif" fill="#111">0.1</text>
<text x="508.49999999999994" y="71.2" font-size="9.4" text-anchor="end" font-family="&quot;Liberation Sans&quot;, sans-serif" fill="#111">0</text>
<text x="508.49999999999994" y="99.7" font-size="9.4" text-anchor="end" font-family="&quot;Liberation Sans&quot;, sans-serif" fill="#111">-0.1</text>
<text x="508.49999999999994" y="128.2" font-size="9.4" text-anchor="end" font-family="&quot;Liberation Sans&quot;, sans-serif" fill="#111">-0.2</text>
<text x="508.49999999999994" y="156.8" font-size="9.4" text-anchor="end" font-family="&quot;Liberation Sans&quot;, sans-serif" fill="#111">-0.3</text>
<text x="508.49999999999994" y="185.3" font-size="9.4" text-anchor="end" font-family="&quot;Liberation Sans&quot;, sans-serif" fill="#111">-0.4</text>
<text x="566.3" y="195.6" font-size="9.4" text-anchor="middle" font-family="&quot;Liberation Sans&quot;, sans-serif" fill="#111">1</text>
<text x="669.2" y="195.6" font-size="9.4" text-anchor="middle" font-family="&quot;Liberation Sans&quot;, sans-serif" fill="#111">10</text>
<text x="599.4" y="208.6" font-size="11.9" text-anchor="middle" font-family="&quot;Liberation Sans&quot;, sans-serif" fill="#111" textLength="83" lengthAdjust="spacingAndGlyphs">Frequency, GHz</text>
<text x="533.9" y="32.3" font-size="21.5" font-family="&quot;Liberation Sans&quot;, sans-serif" fill="#000">GC</text>
<path d="M54.3 165.7H99.0M108.0 165.7H147.5M157.5 165.7H181.4" stroke="#000" stroke-width="1.3" fill="none"/>
<path d="M49.30 165.70L55.60 162.70L55.60 168.70Z" fill="#000"/>
<path d="M152.50 165.70L146.20 168.70L146.20 162.70Z" fill="#000"/>
<path d="M152.80 165.70L159.10 162.70L159.10 168.70Z" fill="#000"/>
<path d="M186.40 165.70L180.10 168.70L180.10 162.70Z" fill="#000"/>
<text x="103.5" y="170.7" font-size="13.5" font-style="italic" text-anchor="middle" font-family="&quot;Liberation Sans&quot;, sans-serif" fill="#000">L</text>
<text x="170.3" y="170.7" font-size="13.5" font-style="italic" text-anchor="middle" font-family="&quot;Liberation Sans&quot;, sans-serif" fill="#000">H</text>
<path d="M286.6 165.7H331.0M340.0 165.7H379.6M389.6 165.7H414.2" stroke="#000" stroke-width="1.3" fill="none"/>
<path d="M281.60 165.70L287.90 162.70L287.90 168.70Z" fill="#000"/>
<path d="M384.60 165.70L378.30 168.70L378.30 162.70Z" fill="#000"/>
<path d="M384.90 165.70L391.20 162.70L391.20 168.70Z" fill="#000"/>
<path d="M419.20 165.70L412.90 168.70L412.90 162.70Z" fill="#000"/>
<text x="335.5" y="170.7" font-size="13.5" font-style="italic" text-anchor="middle" font-family="&quot;Liberation Sans&quot;, sans-serif" fill="#000">L</text>
<text x="402.6" y="170.7" font-size="13.5" font-style="italic" text-anchor="middle" font-family="&quot;Liberation Sans&quot;, sans-serif" fill="#000">H</text>
<path d="M518.1 165.7H562.0M571.0 165.7H609.7M619.7 165.7H643.8" stroke="#000" stroke-width="1.3" fill="none"/>
<path d="M513.10 165.70L519.40 162.70L519.40 168.70Z" fill="#000"/>
<path d="M614.70 165.70L608.40 168.70L608.40 162.70Z" fill="#000"/>
<path d="M615.00 165.70L621.30 162.70L621.30 168.70Z" fill="#000"/>
<path d="M648.80 165.70L642.50 168.70L642.50 162.70Z" fill="#000"/>
<text x="566.5" y="170.7" font-size="13.5" font-style="italic" text-anchor="middle" font-family="&quot;Liberation Sans&quot;, sans-serif" fill="#000">L</text>
<text x="633.3" y="170.7" font-size="13.5" font-style="italic" text-anchor="middle" font-family="&quot;Liberation Sans&quot;, sans-serif" fill="#000">H</text>
<text x="168.2" y="38.6" font-size="12.7" font-style="italic" font-family="&quot;Liberation Sans&quot;, sans-serif" fill="#000">Pε</text>
<text x="193.3" y="38.8" font-size="12.7" font-style="italic" font-family="&quot;Liberation Sans&quot;, sans-serif" fill="#000">Pε</text>
<line x1="182.9" y1="33.4" x2="185.0" y2="29.4" stroke="#000" stroke-width="1.2"/>
<path d="M207.9 30.2L208.6 27.8M209.70000000000002 30.2L210.4 27.8" stroke="#000" stroke-width="0.9"/>
<line x1="179" y1="42.2" x2="186.03" y2="53.91" stroke="#000" stroke-width="1.4"/>
<path d="M188.60 58.20L182.79 54.34L187.93 51.25Z" fill="#000"/>
<line x1="196.3" y1="39" x2="196.3" y2="53.6" stroke="#000" stroke-width="1.4"/>
<path d="M196.30 58.60L193.30 52.30L199.30 52.30Z" fill="#000"/>
<text x="400.0" y="33.3" font-size="12.7" font-style="italic" font-family="&quot;Liberation Sans&quot;, sans-serif" fill="#000">Pε</text>
<text x="425.0" y="34.4" font-size="12.7" font-style="italic" font-family="&quot;Liberation Sans&quot;, sans-serif" fill="#000">Pε</text>
<line x1="415.4" y1="28.2" x2="417.5" y2="24.2" stroke="#000" stroke-width="1.2"/>
<path d="M440.2 26.0L440.9 23.2M442.1 26.0L442.8 23.2" stroke="#000" stroke-width="0.9"/>
<line x1="411.5" y1="38.1" x2="417.91" y2="49.26" stroke="#000" stroke-width="1.4"/>
<path d="M420.40 53.60L414.66 49.63L419.86 46.64Z" fill="#000"/>
<line x1="428.2" y1="34.4" x2="428.2" y2="48.2" stroke="#000" stroke-width="1.4"/>
<path d="M428.20 53.20L425.20 46.90L431.20 46.90Z" fill="#000"/>
<text x="631.3" y="36.3" font-size="12.7" font-style="italic" font-family="&quot;Liberation Sans&quot;, sans-serif" fill="#000">Pε</text>
<text x="655.8" y="36.5" font-size="12.7" font-style="italic" font-family="&quot;Liberation Sans&quot;, sans-serif" fill="#000">Pε</text>
<line x1="646.7" y1="31.2" x2="648.8" y2="27.2" stroke="#000" stroke-width="1.2"/>
<path d="M671.4 29.5L672.1 26.7M673.3 29.5L674.0 26.7" stroke="#000" stroke-width="0.9"/>
<line x1="642.5" y1="41" x2="648.97" y2="52.63" stroke="#000" stroke-width="1.4"/>
<path d="M651.40 57.00L645.72 52.95L650.96 50.04Z" fill="#000"/>
<line x1="659.3" y1="37" x2="659.3" y2="51" stroke="#000" stroke-width="1.4"/>
<path d="M659.30 56.00L656.30 49.70L662.30 49.70Z" fill="#000"/>
<text x="119.2" y="98.3" font-size="14" font-style="italic" font-family="&quot;Liberation Sans&quot;, sans-serif" fill="#2222dd" textLength="8" lengthAdjust="spacingAndGlyphs">ε</text>
<path d="M129.1 87.3L130 84.6M130.9 87.3L131.8 84.6" stroke="#2222dd" stroke-width="0.9"/>
<text x="119.5" y="139.7" font-size="15" font-style="italic" font-family="&quot;Liberation Sans&quot;, sans-serif" fill="#d42020" textLength="7.9" lengthAdjust="spacingAndGlyphs">ε</text>
<path d="M128.9 132.2L130.8 126.2" stroke="#d42020" stroke-width="1.3"/>
<g transform="translate(20.6,147.8) rotate(-90)" font-family="&quot;Liberation Sans&quot;, sans-serif" fill="#111"><text x="0" y="0" font-size="11">ε<tspan font-size="13" dy="0.8">*</tspan></text><text x="10.6" y="5.2" font-size="7.5">γl</text><text x="18.2" y="-6.3" font-size="8">t=60min</text><text x="47.5" y="-2.2" font-size="11">–</text><text x="56.1" y="0" font-size="11">ε<tspan font-size="13" dy="0.8">*</tspan></text><text x="67.4" y="5.2" font-size="7.5">γl</text><text x="75.2" y="-6.3" font-size="8">t=18min</text></g>
<g transform="translate(251.8,145.3) rotate(-90)" font-family="&quot;Liberation Sans&quot;, sans-serif" fill="#111"><text x="0" y="0" font-size="11">ε<tspan font-size="13" dy="0.8">*</tspan></text><text x="10.6" y="5.2" font-size="7.5">γl</text><text x="18.2" y="-6.3" font-size="8">t=60min</text><text x="47.5" y="-2.2" font-size="11">–</text><text x="56.1" y="0" font-size="11">ε<tspan font-size="13" dy="0.8">*</tspan></text><text x="67.4" y="5.2" font-size="7.5">γl</text><text x="75.2" y="-6.3" font-size="8">t=18min</text></g>
<g transform="translate(482.3,144.8) rotate(-90)" font-family="&quot;Liberation Sans&quot;, sans-serif" fill="#111"><text x="0" y="0" font-size="11">ε<tspan font-size="13" dy="0.8">*</tspan></text><text x="10.6" y="5.2" font-size="7.5">γl</text><text x="18.2" y="-6.3" font-size="8">t=60min</text><text x="47.5" y="-2.2" font-size="11">–</text><text x="56.1" y="0" font-size="11">ε<tspan font-size="13" dy="0.8">*</tspan></text><text x="67.4" y="5.2" font-size="7.5">γl</text><text x="75.2" y="-6.3" font-size="8">t=18min</text></g>
<text x="-1.6" y="18" font-size="33.4" font-weight="bold" font-family="&quot;Liberation Sans&quot;, sans-serif" fill="#000">a</text>
<text x="-1.1" y="249.6" font-size="33.4" font-weight="bold" font-family="&quot;Liberation Sans&quot;, sans-serif" fill="#000" textLength="22.6" lengthAdjust="spacingAndGlyphs">b</text>
<line x1="51.0" y1="251.2" x2="221.3" y2="384.6" stroke="#333" stroke-width="0.7" stroke-dasharray="1.2,0.8"/>
<rect x="51.0" y="236.3" width="170.3" height="170.3" fill="none" stroke="#777" stroke-width="1"/>
<path d="M51.0 406.6v-3M51.0 236.3v3M57.8 406.6v-2M57.8 236.3v2M64.6 406.6v-2M64.6 236.3v2M71.4 406.6v-2M71.4 236.3v2M78.2 406.6v-2M78.2 236.3v2M85.1 406.6v-3M85.1 236.3v3M91.9 406.6v-2M91.9 236.3v2M98.7 406.6v-2M98.7 236.3v2M105.5 406.6v-2M105.5 236.3v2M112.3 406.6v-2M112.3 236.3v2M119.1 406.6v-3M119.1 236.3v3M125.9 406.6v-2M125.9 236.3v2M132.7 406.6v-2M132.7 236.3v2M139.6 406.6v-2M139.6 236.3v2M146.4 406.6v-2M146.4 236.3v2M153.2 406.6v-3M153.2 236.3v3M160.0 406.6v-2M160.0 236.3v2M166.8 406.6v-2M166.8 236.3v2M173.6 406.6v-2M173.6 236.3v2M180.4 406.6v-2M180.4 236.3v2M187.2 406.6v-3M187.2 236.3v3M194.1 406.6v-2M194.1 236.3v2M200.9 406.6v-2M200.9 236.3v2M207.7 406.6v-2M207.7 236.3v2M214.5 406.6v-2M214.5 236.3v2M221.3 406.6v-3M221.3 236.3v3M51.0 406.6h3M221.3 406.6h-3M51.0 399.8h2M221.3 399.8h-2M51.0 393.0h2M221.3 393.0h-2M51.0 386.2h2M221.3 386.2h-2M51.0 379.4h2M221.3 379.4h-2M51.0 372.5h3M221.3 372.5h-3M51.0 365.7h2M221.3 365.7h-2M51.0 358.9h2M221.3 358.9h-2M51.0 352.1h2M221.3 352.1h-2M51.0 345.3h2M221.3 345.3h-2M51.0 338.5h3M221.3 338.5h-3M51.0 331.7h2M221.3 331.7h-2M51.0 324.9h2M221.3 324.9h-2M51.0 318.0h2M221.3 318.0h-2M51.0 311.2h2M221.3 311.2h-2M51.0 304.4h3M221.3 304.4h-3M51.0 297.6h2M221.3 297.6h-2M51.0 290.8h2M221.3 290.8h-2M51.0 284.0h2M221.3 284.0h-2M51.0 277.2h2M221.3 277.2h-2M51.0 270.4h3M221.3 270.4h-3M51.0 263.5h2M221.3 263.5h-2M51.0 256.7h2M221.3 256.7h-2M51.0 249.9h2M221.3 249.9h-2M51.0 243.1h2M221.3 243.1h-2M51.0 236.3h3M221.3 236.3h-3" stroke="#555" stroke-width="0.8" fill="none"/>
<text x="51.0" y="419.8" font-size="8.3" text-anchor="middle" font-family="&quot;Liberation Sans&quot;, sans-serif" fill="#111">0</text>
<text x="85.1" y="419.8" font-size="8.3" text-anchor="middle" font-family="&quot;Liberation Sans&quot;, sans-serif" fill="#111">0.05</text>
<text x="119.1" y="419.8" font-size="8.3" text-anchor="middle" font-family="&quot;Liberation Sans&quot;, sans-serif" fill="#111">0.1</text>
<text x="153.2" y="419.8" font-size="8.3" text-anchor="middle" font-family="&quot;Liberation Sans&quot;, sans-serif" fill="#111">0.15</text>
<text x="187.2" y="419.8" font-size="8.3" text-anchor="middle" font-family="&quot;Liberation Sans&quot;, sans-serif" fill="#111">0.2</text>
<text x="221.3" y="419.8" font-size="8.3" text-anchor="middle" font-family="&quot;Liberation Sans&quot;, sans-serif" fill="#111">0.25</text>
<text x="47.0" y="239.8" font-size="8.3" text-anchor="end" font-family="&quot;Liberation Sans&quot;, sans-serif" fill="#111">0.1</text>
<text x="47.0" y="273.9" font-size="8.3" text-anchor="end" font-family="&quot;Liberation Sans&quot;, sans-serif" fill="#111">0</text>
<text x="47.0" y="307.9" font-size="8.3" text-anchor="end" font-family="&quot;Liberation Sans&quot;, sans-serif" fill="#111">-0.1</text>
<text x="47.0" y="342.0" font-size="8.3" text-anchor="end" font-family="&quot;Liberation Sans&quot;, sans-serif" fill="#111">-0.2</text>
<text x="47.0" y="376.0" font-size="8.3" text-anchor="end" font-family="&quot;Liberation Sans&quot;, sans-serif" fill="#111">-0.3</text>
<text x="47.0" y="410.1" font-size="8.3" text-anchor="end" font-family="&quot;Liberation Sans&quot;, sans-serif" fill="#111">-0.4</text>
<circle cx="52.9" cy="242" r="2.1" fill="#8e8e8e"/>
<circle cx="75.3" cy="249.6" r="2.1" fill="#8e8e8e"/>
<circle cx="86.9" cy="273.2" r="2.1" fill="#8e8e8e"/>
<circle cx="101.9" cy="283.5" r="2.1" fill="#8e8e8e"/>
<circle cx="88.8" cy="321.7" r="2.1" fill="#e00000"/>
<circle cx="131.9" cy="304.1" r="2.1" fill="#e00000"/>
<circle cx="141.8" cy="341.5" r="2.1" fill="#e00000"/>
<circle cx="149.9" cy="339.6" r="2.1" fill="#e00000"/>
<circle cx="173" cy="344.5" r="2.1" fill="#0000e0"/>
<circle cx="189.7" cy="334" r="2.1" fill="#0000e0"/>
<circle cx="182.7" cy="364.7" r="2.1" fill="#0000e0"/>
<circle cx="211.3" cy="377.5" r="2.1" fill="#0000e0"/>
<text x="107.4" y="394.9" font-size="14.6" font-style="italic" font-family="&quot;Liberation Serif&quot;, serif" fill="#111">R</text>
<path d="M122.2 388.2h9.7M122.2 391.6h9.7" stroke="#111" stroke-width="1.1"/>
<path d="M137.7 389.9h10" stroke="#111" stroke-width="1.1"/>
<text x="148.0" y="394.9" font-size="15.2" font-family="&quot;Liberation Serif&quot;, serif" fill="#111" textLength="28.9" lengthAdjust="spacingAndGlyphs">0.91</text>
<line x1="281.9" y1="352.2" x2="452.2" y2="260.2" stroke="#333" stroke-width="0.7" stroke-dasharray="1.2,0.8"/>
<rect x="281.9" y="235.5" width="170.3" height="170.3" fill="none" stroke="#777" stroke-width="1"/>
<path d="M281.9 405.8v-3M281.9 235.5v3M290.4 405.8v-2M290.4 235.5v2M298.9 405.8v-2M298.9 235.5v2M307.4 405.8v-2M307.4 235.5v2M316.0 405.8v-2M316.0 235.5v2M324.5 405.8v-3M324.5 235.5v3M333.0 405.8v-2M333.0 235.5v2M341.5 405.8v-2M341.5 235.5v2M350.0 405.8v-2M350.0 235.5v2M358.5 405.8v-2M358.5 235.5v2M367.1 405.8v-3M367.1 235.5v3M375.6 405.8v-2M375.6 235.5v2M384.1 405.8v-2M384.1 235.5v2M392.6 405.8v-2M392.6 235.5v2M401.1 405.8v-2M401.1 235.5v2M409.6 405.8v-3M409.6 235.5v3M418.1 405.8v-2M418.1 235.5v2M426.7 405.8v-2M426.7 235.5v2M435.2 405.8v-2M435.2 235.5v2M443.7 405.8v-2M443.7 235.5v2M452.2 405.8v-3M452.2 235.5v3M281.9 405.8h3M452.2 405.8h-3M281.9 399.0h2M452.2 399.0h-2M281.9 392.2h2M452.2 392.2h-2M281.9 385.4h2M452.2 385.4h-2M281.9 378.6h2M452.2 378.6h-2M281.9 371.7h3M452.2 371.7h-3M281.9 364.9h2M452.2 364.9h-2M281.9 358.1h2M452.2 358.1h-2M281.9 351.3h2M452.2 351.3h-2M281.9 344.5h2M452.2 344.5h-2M281.9 337.7h3M452.2 337.7h-3M281.9 330.9h2M452.2 330.9h-2M281.9 324.1h2M452.2 324.1h-2M281.9 317.2h2M452.2 317.2h-2M281.9 310.4h2M452.2 310.4h-2M281.9 303.6h3M452.2 303.6h-3M281.9 296.8h2M452.2 296.8h-2M281.9 290.0h2M452.2 290.0h-2M281.9 283.2h2M452.2 283.2h-2M281.9 276.4h2M452.2 276.4h-2M281.9 269.6h3M452.2 269.6h-3M281.9 262.7h2M452.2 262.7h-2M281.9 255.9h2M452.2 255.9h-2M281.9 249.1h2M452.2 249.1h-2M281.9 242.3h2M452.2 242.3h-2M281.9 235.5h3M452.2 235.5h-3" stroke="#555" stroke-width="0.8" fill="none"/>
<text x="281.9" y="419.0" font-size="8.3" text-anchor="middle" font-family="&quot;Liberation Sans&quot;, sans-serif" fill="#111">0.06</text>
<text x="324.5" y="419.0" font-size="8.3" text-anchor="middle" font-family="&quot;Liberation Sans&quot;, sans-serif" fill="#111">0.1</text>
<text x="367.1" y="419.0" font-size="8.3" text-anchor="middle" font-family="&quot;Liberation Sans&quot;, sans-serif" fill="#111">0.14</text>
<text x="409.6" y="419.0" font-size="8.3" text-anchor="middle" font-family="&quot;Liberation Sans&quot;, sans-serif" fill="#111">0.18</text>
<text x="452.2" y="419.0" font-size="8.3" text-anchor="middle" font-family="&quot;Liberation Sans&quot;, sans-serif" fill="#111">0.22</text>
<text x="277.9" y="239.0" font-size="8.3" text-anchor="end" font-family="&quot;Liberation Sans&quot;, sans-serif" fill="#111">0.2</text>
<text x="277.9" y="273.1" font-size="8.3" text-anchor="end" font-family="&quot;Liberation Sans&quot;, sans-serif" fill="#111">0.15</text>
<text x="277.9" y="307.1" font-size="8.3" text-anchor="end" font-family="&quot;Liberation Sans&quot;, sans-serif" fill="#111">0.1</text>
<text x="277.9" y="341.2" font-size="8.3" text-anchor="end" font-family="&quot;Liberation Sans&quot;, sans-serif" fill="#111">0.05</text>
<text x="277.9" y="375.2" font-size="8.3" text-anchor="end" font-family="&quot;Liberation Sans&quot;, sans-serif" fill="#111">0</text>
<text x="277.9" y="409.3" font-size="8.3" text-anchor="end" font-family="&quot;Liberation Sans&quot;, sans-serif" fill="#111">-0.05</text>
<circle cx="298.6" cy="323" r="2.1" fill="#8e8e8e"/>
<circle cx="308.8" cy="365.5" r="2.1" fill="#8e8e8e"/>
<circle cx="295.1" cy="372.6" r="2.1" fill="#8e8e8e"/>
<circle cx="292.9" cy="385.5" r="2.1" fill="#8e8e8e"/>
<circle cx="306.6" cy="294.5" r="2.1" fill="#e00000"/>
<circle cx="329.3" cy="309.6" r="2.1" fill="#e00000"/>
<circle cx="300.5" cy="335.3" r="2.1" fill="#e00000"/>
<circle cx="351.8" cy="337.5" r="2.1" fill="#e00000"/>
<circle cx="381.2" cy="271.7" r="2.1" fill="#0000e0"/>
<circle cx="395.5" cy="261.4" r="2.1" fill="#0000e0"/>
<circle cx="408.7" cy="290.6" r="2.1" fill="#0000e0"/>
<circle cx="437.7" cy="298.2" r="2.1" fill="#0000e0"/>
<text x="341.79999999999995" y="394.9" font-size="14.6" font-style="italic" font-family="&quot;Liberation Serif&quot;, serif" fill="#111">R</text>
<path d="M356.6 388.2h9.7M356.6 391.6h9.7" stroke="#111" stroke-width="1.1"/>
<text x="371.4" y="394.9" font-size="15.2" font-family="&quot;Liberation Serif&quot;, serif" fill="#111" textLength="28.3" lengthAdjust="spacingAndGlyphs">0.70</text>
<text x="125.6" y="435.0" font-size="12.8" font-family="&quot;Liberation Sans&quot;, sans-serif" fill="#111" textLength="6.0" lengthAdjust="spacingAndGlyphs">ε</text>
<path d="M132.9 428.1V431.4" stroke="#111" stroke-width="1.1"/>
<text x="137.4" y="435.0" font-size="11.5" font-family="&quot;Liberation Sans&quot;, sans-serif" fill="#111">(</text>
<text x="141.4" y="435.0" font-size="11.5" font-style="italic" font-family="&quot;Liberation Sans&quot;, sans-serif" fill="#111">P</text>
<text x="149.6" y="435.0" font-size="11.5" font-family="&quot;Liberation Sans&quot;, sans-serif" fill="#111">)</text>
<line x1="141.8" y1="425.4" x2="149.2" y2="425.4" stroke="#111" stroke-width="0.9"/>
<text x="356.5" y="434.6" font-size="12.8" font-family="&quot;Liberation Sans&quot;, sans-serif" fill="#111" textLength="6.0" lengthAdjust="spacingAndGlyphs">ε</text>
<path d="M363.6 425.2V428.5M366.4 425.2V428.5" stroke="#111" stroke-width="1.1"/>
<text x="370.8" y="434.6" font-size="11.5" font-family="&quot;Liberation Sans&quot;, sans-serif" fill="#111">(</text>
<text x="374.6" y="434.6" font-size="11.5" font-style="italic" font-family="&quot;Liberation Sans&quot;, sans-serif" fill="#111">P</text>
<text x="382.8" y="434.6" font-size="11.5" font-family="&quot;Liberation Sans&quot;, sans-serif" fill="#111">)</text>
<line x1="375.6" y1="424.3" x2="382.4" y2="424.3" stroke="#111" stroke-width="0.9"/>
<g transform="translate(22.5,334.3) rotate(-90)">
<text x="-0.3" y="0" font-size="12.8" font-family="&quot;Liberation Sans&quot;, sans-serif" fill="#111" textLength="6.0" lengthAdjust="spacingAndGlyphs">ε</text>
<path d="M6.8 -7.2V-9.8" stroke="#111" stroke-width="1.1"/>
<text x="12.0" y="0" font-size="11.5" font-family="&quot;Liberation Sans&quot;, sans-serif" fill="#111">(</text>
<text x="15.6" y="0" font-size="11.5" font-style="italic" font-family="&quot;Liberation Sans&quot;, sans-serif" fill="#111">L</text>
<text x="22.6" y="0" font-size="11.5" font-family="&quot;Liberation Sans&quot;, sans-serif" fill="#111">)</text>
<line x1="15.8" y1="-10.6" x2="22.2" y2="-10.6" stroke="#111" stroke-width="0.9"/>
</g>
<g transform="translate(252.8,340.6) rotate(-90)">
<text x="-0.3" y="0" font-size="12.8" font-family="&quot;Liberation Sans&quot;, sans-serif" fill="#111" textLength="6.0" lengthAdjust="spacingAndGlyphs">ε</text>
<path d="M6.0 -6.8V-9.4M8.4 -6.8V-9.4" stroke="#111" stroke-width="1.1"/>
<text x="12.3" y="0" font-size="11.5" font-family="&quot;Liberation Sans&quot;, sans-serif" fill="#111">(</text>
<text x="16.4" y="0" font-size="11.5" font-style="italic" font-family="&quot;Liberation Sans&quot;, sans-serif" fill="#111">L</text>
<text x="24.3" y="0" font-size="11.5" font-family="&quot;Liberation Sans&quot;, sans-serif" fill="#111">–</text>
<text x="28.2" y="0" font-size="11.5" font-style="italic" font-family="&quot;Liberation Sans&quot;, sans-serif" fill="#111">H</text>
<text x="38.6" y="0" font-size="11.5" font-family="&quot;Liberation Sans&quot;, sans-serif" fill="#111">)</text>
<line x1="17.2" y1="-10.1" x2="23.6" y2="-10.1" stroke="#111" stroke-width="0.9"/>
<line x1="29.2" y1="-10.1" x2="37.6" y2="-10.1" stroke="#111" stroke-width="0.9"/>
</g>
<circle cx="476.3" cy="252.5" r="2.9" fill="#0000e0"/>
<text x="487" y="257.2" font-size="13" font-family="&quot;Liberation Sans&quot;, sans-serif" fill="#111">THz</text>
<circle cx="476.3" cy="269.9" r="2.9" fill="#e00000"/>
<text x="487" y="274.6" font-size="13" font-family="&quot;Liberation Sans&quot;, sans-serif" fill="#111">HTC</text>
<circle cx="476.3" cy="287.2" r="2.9" fill="#8e8e8e"/>
<text x="487" y="291.9" font-size="13" font-family="&quot;Liberation Sans&quot;, sans-serif" fill="#111">GC</text>
</svg></body></html>
